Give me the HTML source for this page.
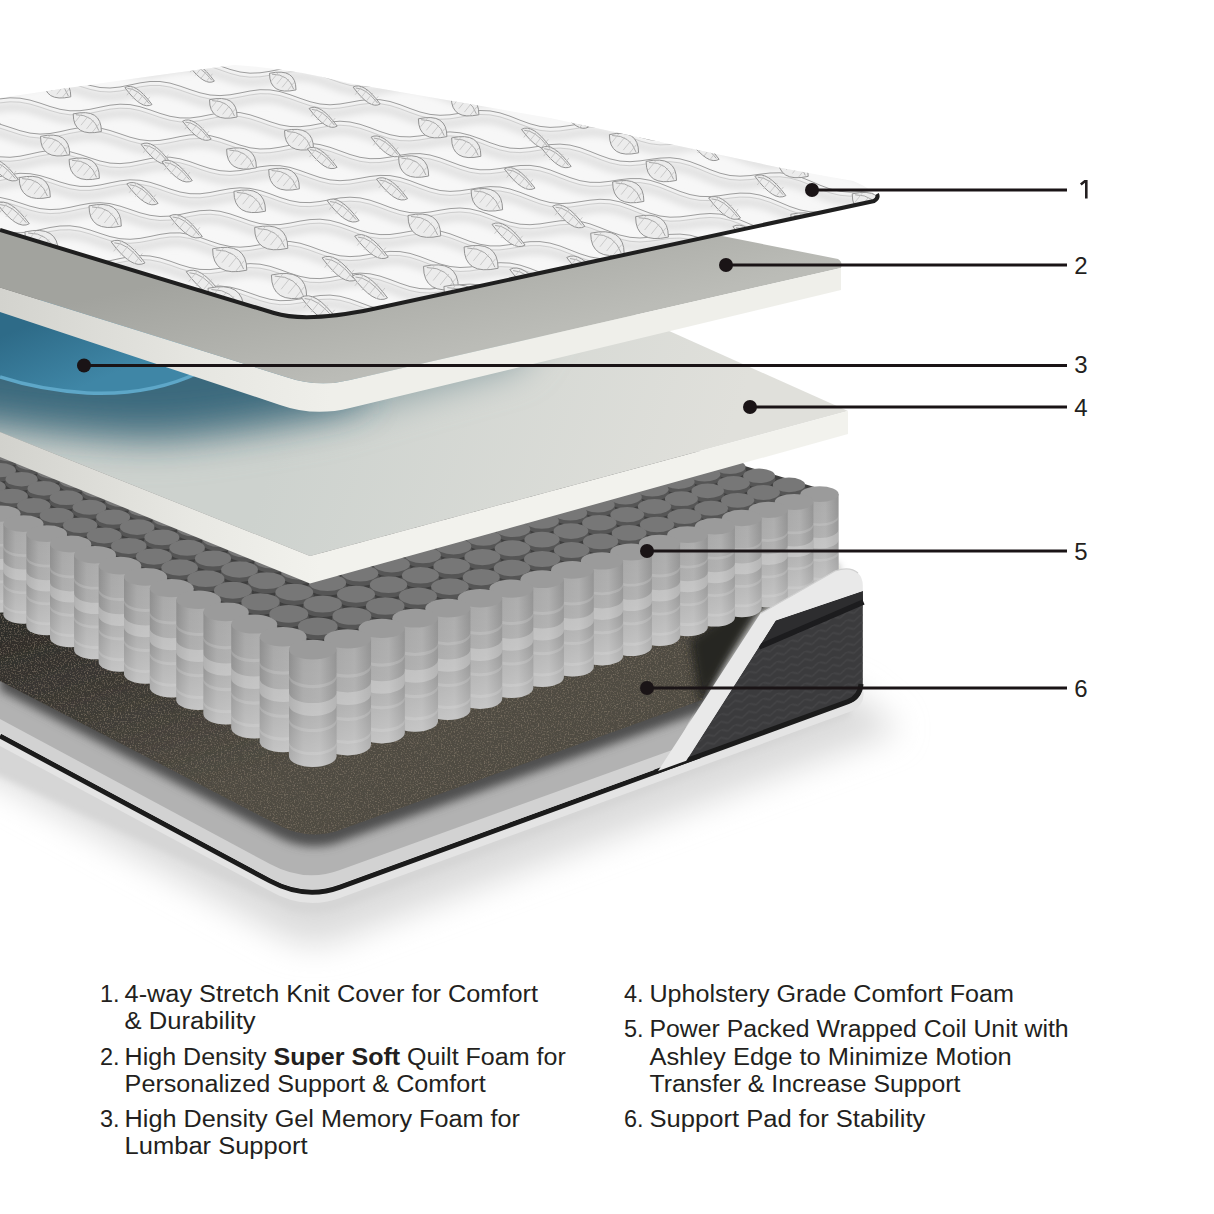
<!DOCTYPE html><html><head><meta charset="utf-8"><style>
html,body{margin:0;padding:0;background:#fff;width:1214px;height:1214px;overflow:hidden}
svg{display:block}
text{font-family:"Liberation Sans",sans-serif;fill:#231f20}
</style></head><body>
<svg width="1214" height="1214" viewBox="0 0 1214 1214">
<defs>
<linearGradient id="l2top" gradientUnits="userSpaceOnUse" x1="300" y1="250" x2="330" y2="380"><stop offset="0" stop-color="#a2a39e"/><stop offset="1" stop-color="#bbbcb7"/></linearGradient>
<radialGradient id="blue4" gradientUnits="userSpaceOnUse" cx="40" cy="360" r="330" gradientTransform="translate(40 360) scale(1.3 0.75) translate(-40 -360)">
 <stop offset="0" stop-color="#2f6178"/><stop offset="0.35" stop-color="#3f6f84"/><stop offset="0.7" stop-color="#a9b6b4"/><stop offset="1" stop-color="#d3d6d1"/></radialGradient>
<linearGradient id="l4top" gradientUnits="userSpaceOnUse" x1="300" y1="380" x2="700" y2="520"><stop offset="0" stop-color="#cdd2ce"/><stop offset="1" stop-color="#e0e0db"/></linearGradient>
<linearGradient id="coilside" x1="0" y1="0" x2="1" y2="0"><stop offset="0" stop-color="#8e8e8e"/><stop offset="0.3" stop-color="#a8a8a8"/><stop offset="0.65" stop-color="#adadad"/><stop offset="1" stop-color="#939393"/></linearGradient>
<linearGradient id="padg" gradientUnits="userSpaceOnUse" x1="0" y1="640" x2="60" y2="840"><stop offset="0" stop-color="#2f2d2a"/><stop offset="1" stop-color="#504c43"/></linearGradient>
<linearGradient id="coilv" x1="0" y1="0" x2="0" y2="1"><stop offset="0" stop-color="#fff" stop-opacity="0"/><stop offset="0.5" stop-color="#fff" stop-opacity="0.08"/><stop offset="1" stop-color="#fff" stop-opacity="0.32"/></linearGradient>
<linearGradient id="l2face" gradientUnits="userSpaceOnUse" x1="0" y1="0" x2="330" y2="0"><stop offset="0" stop-color="#d3d3ce"/><stop offset="0.6" stop-color="#e6e6e1"/><stop offset="1" stop-color="#efefea"/></linearGradient>
<linearGradient id="l4face" gradientUnits="userSpaceOnUse" x1="0" y1="0" x2="320" y2="0"><stop offset="0" stop-color="#d2d2cd"/><stop offset="0.6" stop-color="#e8e8e3"/><stop offset="1" stop-color="#f2f2ed"/></linearGradient>
<linearGradient id="gelg" gradientUnits="userSpaceOnUse" x1="40" y1="320" x2="70" y2="392"><stop offset="0" stop-color="#2e6b88"/><stop offset="1" stop-color="#3f86a6"/></linearGradient>
<pattern id="chev" patternUnits="userSpaceOnUse" width="14" height="16" patternTransform="skewY(-20)"><path d="M 0,4 L 7,0 L 14,4 M 0,12 L 7,8 L 14,12" fill="none" stroke="#4a4a4c" stroke-width="1.6"/></pattern>
<linearGradient id="tray" x1="0" y1="0" x2="0" y2="1"><stop offset="0" stop-color="#555553"/><stop offset="1" stop-color="#b5b5b5"/></linearGradient>
<linearGradient id="shadow" x1="0" y1="0" x2="0" y2="1"><stop offset="0" stop-color="#c8c8c8"/><stop offset="1" stop-color="#ffffff"/></linearGradient>
<filter id="blur8" x="-30%" y="-30%" width="160%" height="160%"><feGaussianBlur stdDeviation="16"/></filter>
<filter id="blur6" x="-20%" y="-20%" width="140%" height="140%"><feGaussianBlur stdDeviation="5"/></filter>
<filter id="blur20" x="-50%" y="-50%" width="200%" height="200%"><feGaussianBlur stdDeviation="18"/></filter>
<filter id="padtex" x="0" y="0" width="100%" height="100%"><feTurbulence type="fractalNoise" baseFrequency="0.7" numOctaves="2" seed="3" result="n"/>
<feColorMatrix in="n" type="matrix" values="0 0 0 0 0.40  0 0 0 0 0.33  0 0 0 0 0.25  1.0 0 0 0 -0.5" result="c"/>
<feComposite in="c" in2="SourceGraphic" operator="in" result="t"/><feMerge><feMergeNode in="SourceGraphic"/><feMergeNode in="t"/></feMerge></filter>
<filter id="blur3" x="-20%" y="-20%" width="140%" height="140%"><feGaussianBlur stdDeviation="3"/></filter>
</defs>
<rect width="1214" height="1214" fill="#fff"/>

<path d="M -60,750 L 290,940 Q 320,950 350,935 L 900,730 L 850,690 L -60,700 Z" fill="#dcdcdc" filter="url(#blur8)"/>
<path d="M -60,748 L 290,910 Q 320,918 350,905 L 850,716 L 850,690 L -60,700 Z" fill="#d6d6d6" filter="url(#blur3)"/>
<path d="M 0,728 L 0,746 L 270,891 Q 305,911 340,898 L 852,711 Q 866,704 863,690 L 700,690 Z" fill="#e4e4e4"/>
<path d="M 0,736 L 270,880.9 Q 305.3,899.8 340,887.1 L 700,755.7" fill="none" stroke="#1b1b1b" stroke-width="5"/>
<path d="M 0,690 L 0,733 L 270,878 Q 305,897 340,884 L 690,757 L 700,690 Z" fill="#d2d2d2"/>
<path d="M 0,660 L 0,719 L 270,864 Q 305,883 340,870 L 675,749 L 720,660 Z" fill="#b2b2b2"/>
<path d="M 0,560 L 0,690 L 280,838 Q 312,854 345,840 L 702,712 L 760,560 Z" fill="#505050" filter="url(#blur6)"/>
<path d="M 775.7,620.4 L 862.8,591 L 862.8,684 Q 862,700 848,703.5 L 686.2,760.7 Z" fill="#3b3b3d"/>
<path d="M 775.7,620.4 L 862.8,591 L 862.8,684 Q 862,700 848,703.5 L 686.2,760.7 Z" fill="url(#chev)" opacity="0.6"/>
<path d="M 775.7,620.4 L 862.8,591 L 863,603 L 759,648 Z" fill="#2d2d2f"/>
<path d="M 759,647 L 863.5,602" stroke="#1c1c1e" stroke-width="5.5" fill="none"/>
<path d="M 655,772 L 848,701.7 Q 860,697 861,684" stroke="#1b1b1b" stroke-width="5" fill="none"/>
<path d="M 0,560 L 0,681 L 280,826 Q 312,842 345,828 L 702,700 L 760,560 Z" fill="url(#padg)" filter="url(#padtex)"/>
<path d="M 700,705 L 760,612 L 840,568 L 800,560 L 690,640 Z" fill="#262524" filter="url(#blur6)"/>
<path d="M 312.7,649.6 L 347.6,638.9 L 381.7,628.4 L 415.2,618.2 L 447.9,608.1 L 480.0,598.3 L 511.4,588.6 L 542.2,579.2 L 572.4,569.9 L 602.0,560.9 L 631.1,552.0 L 659.5,543.2 L 687.5,534.7 L 714.9,526.3 L 741.8,518.0 L 768.2,509.9 L 794.1,502.0 L 819.5,494.2 L 838.6,494.2 L 807.8,484.9 L 777.7,475.8 L 748.1,467.0 L 719.2,458.3 L 690.9,449.8 L 663.2,441.4 L 636.0,433.3 L 609.4,425.2 L 583.3,417.4 L 557.7,409.7 L 532.6,402.2 L 508.0,394.8 L 483.9,387.5 L 460.2,380.4 L 437.0,373.4 L 414.2,366.5 L 391.8,359.8 L 369.8,353.2 L 348.2,346.7 L 327.0,340.3 L 306.1,334.0 L 285.7,327.9 L 265.6,321.8 L 245.8,315.9 L 226.4,310.1 L 207.3,304.3 L 188.5,298.7 L 170.0,293.1 L 151.9,287.7 L 134.0,282.3 L 116.5,277.0 L 99.2,271.8 L 82.2,266.7 L 65.4,261.7 L 48.9,256.7 L 32.7,251.8 L 16.8,247.0 L 1.0,242.3 L -14.5,237.6 L -481.4,309.9 L -468.1,315.7 L -454.6,321.7 L -440.8,327.7 L -426.8,333.9 L -412.6,340.2 L -398.1,346.6 L -383.3,353.1 L -368.2,359.7 L -352.9,366.4 L -337.3,373.3 L -321.4,380.3 L -305.2,387.5 L -288.7,394.7 L -271.9,402.2 L -254.7,409.7 L -237.2,417.4 L -219.4,425.3 L -201.1,433.3 L -182.6,441.5 L -163.6,449.9 L -144.2,458.4 L -124.5,467.1 L -104.3,476.0 L -83.7,485.1 L -62.6,494.4 L -41.1,503.9 L -19.1,513.6 L 3.4,523.6 L 26.4,533.7 L 50.0,544.1 L 74.1,554.7 L 98.7,565.6 L 124.0,576.8 L 149.8,588.2 L 176.3,599.8 L 203.4,611.8 L 231.2,624.1 L 259.7,636.7 L 289.0,649.6 Z" fill="#3e3e3e"/>
<ellipse cx="176.7" cy="340.4" rx="12.9" ry="6.2" fill="#555555"/>
<ellipse cx="176.7" cy="336.9" rx="12.7" ry="5.7" fill="#777777"/>
<ellipse cx="-28.8" cy="341.1" rx="13.0" ry="6.2" fill="#555555"/>
<ellipse cx="-28.8" cy="337.6" rx="12.7" ry="5.7" fill="#777777"/>
<ellipse cx="221.7" cy="341.6" rx="13.0" ry="6.2" fill="#555555"/>
<ellipse cx="221.7" cy="338.1" rx="12.7" ry="5.7" fill="#777777"/>
<ellipse cx="16.0" cy="342.3" rx="13.0" ry="6.3" fill="#555555"/>
<ellipse cx="16.0" cy="338.8" rx="12.7" ry="5.7" fill="#777777"/>
<ellipse cx="266.9" cy="342.7" rx="13.0" ry="6.2" fill="#555555"/>
<ellipse cx="266.9" cy="339.2" rx="12.7" ry="5.7" fill="#777777"/>
<ellipse cx="60.9" cy="343.4" rx="13.0" ry="6.3" fill="#555555"/>
<ellipse cx="60.9" cy="339.9" rx="12.7" ry="5.7" fill="#777777"/>
<ellipse cx="312.2" cy="343.8" rx="13.0" ry="6.3" fill="#555555"/>
<ellipse cx="312.2" cy="340.3" rx="12.7" ry="5.7" fill="#777777"/>
<ellipse cx="105.9" cy="344.5" rx="13.0" ry="6.3" fill="#555555"/>
<ellipse cx="105.9" cy="341.0" rx="12.8" ry="5.7" fill="#777777"/>
<ellipse cx="151.1" cy="345.6" rx="13.1" ry="6.3" fill="#555555"/>
<ellipse cx="151.1" cy="342.1" rx="12.8" ry="5.7" fill="#777777"/>
<ellipse cx="-56.0" cy="346.4" rx="13.1" ry="6.3" fill="#555555"/>
<ellipse cx="-56.0" cy="342.9" rx="12.8" ry="5.8" fill="#777777"/>
<ellipse cx="196.5" cy="346.8" rx="13.1" ry="6.3" fill="#555555"/>
<ellipse cx="196.5" cy="343.3" rx="12.8" ry="5.8" fill="#777777"/>
<ellipse cx="-10.9" cy="347.5" rx="13.1" ry="6.3" fill="#555555"/>
<ellipse cx="-10.9" cy="344.0" rx="12.8" ry="5.8" fill="#777777"/>
<ellipse cx="241.9" cy="347.9" rx="13.1" ry="6.3" fill="#555555"/>
<ellipse cx="241.9" cy="344.4" rx="12.8" ry="5.8" fill="#777777"/>
<ellipse cx="34.3" cy="348.6" rx="13.2" ry="6.3" fill="#555555"/>
<ellipse cx="34.3" cy="345.1" rx="12.9" ry="5.8" fill="#777777"/>
<ellipse cx="287.5" cy="349.0" rx="13.1" ry="6.3" fill="#555555"/>
<ellipse cx="287.5" cy="345.5" rx="12.8" ry="5.8" fill="#777777"/>
<ellipse cx="79.7" cy="349.8" rx="13.2" ry="6.3" fill="#555555"/>
<ellipse cx="79.7" cy="346.3" rx="12.9" ry="5.8" fill="#777777"/>
<ellipse cx="333.2" cy="350.2" rx="13.2" ry="6.3" fill="#555555"/>
<ellipse cx="333.2" cy="346.7" rx="12.9" ry="5.8" fill="#777777"/>
<ellipse cx="125.2" cy="350.9" rx="13.2" ry="6.3" fill="#555555"/>
<ellipse cx="125.2" cy="347.4" rx="12.9" ry="5.8" fill="#777777"/>
<ellipse cx="170.8" cy="352.1" rx="13.2" ry="6.4" fill="#555555"/>
<ellipse cx="170.8" cy="348.6" rx="12.9" ry="5.8" fill="#777777"/>
<ellipse cx="-38.2" cy="352.8" rx="13.3" ry="6.4" fill="#555555"/>
<ellipse cx="-38.2" cy="349.3" rx="13.0" ry="5.8" fill="#777777"/>
<ellipse cx="216.5" cy="353.2" rx="13.3" ry="6.4" fill="#555555"/>
<ellipse cx="216.5" cy="349.7" rx="13.0" ry="5.8" fill="#777777"/>
<ellipse cx="7.3" cy="353.9" rx="13.3" ry="6.4" fill="#555555"/>
<ellipse cx="7.3" cy="350.4" rx="13.0" ry="5.8" fill="#777777"/>
<ellipse cx="262.4" cy="354.4" rx="13.3" ry="6.4" fill="#555555"/>
<ellipse cx="262.4" cy="350.9" rx="13.0" ry="5.8" fill="#777777"/>
<ellipse cx="53.0" cy="355.1" rx="13.3" ry="6.4" fill="#555555"/>
<ellipse cx="53.0" cy="351.6" rx="13.0" ry="5.8" fill="#777777"/>
<ellipse cx="308.5" cy="355.5" rx="13.3" ry="6.4" fill="#555555"/>
<ellipse cx="308.5" cy="352.0" rx="13.0" ry="5.8" fill="#777777"/>
<ellipse cx="98.8" cy="356.3" rx="13.3" ry="6.4" fill="#555555"/>
<ellipse cx="98.8" cy="352.8" rx="13.0" ry="5.9" fill="#777777"/>
<ellipse cx="354.6" cy="356.7" rx="13.3" ry="6.4" fill="#555555"/>
<ellipse cx="354.6" cy="353.2" rx="13.0" ry="5.9" fill="#777777"/>
<ellipse cx="144.7" cy="357.4" rx="13.4" ry="6.4" fill="#555555"/>
<ellipse cx="144.7" cy="353.9" rx="13.1" ry="5.9" fill="#777777"/>
<ellipse cx="190.8" cy="358.6" rx="13.4" ry="6.4" fill="#555555"/>
<ellipse cx="190.8" cy="355.1" rx="13.1" ry="5.9" fill="#777777"/>
<ellipse cx="-20.1" cy="359.3" rx="13.4" ry="6.5" fill="#555555"/>
<ellipse cx="-20.1" cy="355.8" rx="13.1" ry="5.9" fill="#777777"/>
<ellipse cx="237.0" cy="359.8" rx="13.4" ry="6.4" fill="#555555"/>
<ellipse cx="237.0" cy="356.3" rx="13.1" ry="5.9" fill="#777777"/>
<ellipse cx="25.9" cy="360.5" rx="13.4" ry="6.5" fill="#555555"/>
<ellipse cx="25.9" cy="357.0" rx="13.1" ry="5.9" fill="#777777"/>
<ellipse cx="283.3" cy="360.9" rx="13.4" ry="6.5" fill="#555555"/>
<ellipse cx="283.3" cy="357.4" rx="13.1" ry="5.9" fill="#777777"/>
<ellipse cx="72.0" cy="361.7" rx="13.5" ry="6.5" fill="#555555"/>
<ellipse cx="72.0" cy="358.2" rx="13.2" ry="5.9" fill="#777777"/>
<ellipse cx="329.8" cy="362.1" rx="13.5" ry="6.5" fill="#555555"/>
<ellipse cx="329.8" cy="358.6" rx="13.2" ry="5.9" fill="#777777"/>
<ellipse cx="118.2" cy="362.9" rx="13.5" ry="6.5" fill="#555555"/>
<ellipse cx="118.2" cy="359.4" rx="13.2" ry="5.9" fill="#777777"/>
<ellipse cx="376.4" cy="363.3" rx="13.5" ry="6.5" fill="#555555"/>
<ellipse cx="376.4" cy="359.8" rx="13.2" ry="5.9" fill="#777777"/>
<ellipse cx="164.6" cy="364.0" rx="13.5" ry="6.5" fill="#555555"/>
<ellipse cx="164.6" cy="360.5" rx="13.2" ry="5.9" fill="#777777"/>
<ellipse cx="-47.9" cy="364.8" rx="13.5" ry="6.5" fill="#555555"/>
<ellipse cx="-47.9" cy="361.3" rx="13.2" ry="5.9" fill="#777777"/>
<ellipse cx="211.2" cy="365.2" rx="13.5" ry="6.5" fill="#555555"/>
<ellipse cx="211.2" cy="361.7" rx="13.2" ry="5.9" fill="#777777"/>
<ellipse cx="-1.6" cy="366.0" rx="13.6" ry="6.5" fill="#555555"/>
<ellipse cx="-1.6" cy="362.5" rx="13.3" ry="6.0" fill="#777777"/>
<ellipse cx="257.8" cy="366.4" rx="13.6" ry="6.5" fill="#555555"/>
<ellipse cx="257.8" cy="362.9" rx="13.3" ry="6.0" fill="#777777"/>
<ellipse cx="44.8" cy="367.2" rx="13.6" ry="6.5" fill="#555555"/>
<ellipse cx="44.8" cy="363.7" rx="13.3" ry="6.0" fill="#777777"/>
<ellipse cx="304.6" cy="367.6" rx="13.6" ry="6.5" fill="#555555"/>
<ellipse cx="304.6" cy="364.1" rx="13.3" ry="6.0" fill="#777777"/>
<ellipse cx="91.4" cy="368.4" rx="13.6" ry="6.6" fill="#555555"/>
<ellipse cx="91.4" cy="364.9" rx="13.3" ry="6.0" fill="#777777"/>
<ellipse cx="351.6" cy="368.8" rx="13.6" ry="6.6" fill="#555555"/>
<ellipse cx="351.6" cy="365.3" rx="13.3" ry="6.0" fill="#777777"/>
<ellipse cx="138.1" cy="369.6" rx="13.7" ry="6.6" fill="#555555"/>
<ellipse cx="138.1" cy="366.1" rx="13.3" ry="6.0" fill="#777777"/>
<ellipse cx="398.6" cy="370.0" rx="13.6" ry="6.6" fill="#555555"/>
<ellipse cx="398.6" cy="366.5" rx="13.3" ry="6.0" fill="#777777"/>
<ellipse cx="184.9" cy="370.8" rx="13.7" ry="6.6" fill="#555555"/>
<ellipse cx="184.9" cy="367.3" rx="13.4" ry="6.0" fill="#777777"/>
<ellipse cx="-29.6" cy="371.6" rx="13.7" ry="6.6" fill="#555555"/>
<ellipse cx="-29.6" cy="368.1" rx="13.4" ry="6.0" fill="#777777"/>
<ellipse cx="231.9" cy="372.0" rx="13.7" ry="6.6" fill="#555555"/>
<ellipse cx="231.9" cy="368.5" rx="13.4" ry="6.0" fill="#777777"/>
<ellipse cx="17.2" cy="372.8" rx="13.7" ry="6.6" fill="#555555"/>
<ellipse cx="17.2" cy="369.3" rx="13.4" ry="6.0" fill="#777777"/>
<ellipse cx="279.0" cy="373.2" rx="13.7" ry="6.6" fill="#555555"/>
<ellipse cx="279.0" cy="369.7" rx="13.4" ry="6.0" fill="#777777"/>
<ellipse cx="64.1" cy="374.0" rx="13.8" ry="6.6" fill="#555555"/>
<ellipse cx="64.1" cy="370.5" rx="13.5" ry="6.0" fill="#777777"/>
<ellipse cx="326.3" cy="374.4" rx="13.8" ry="6.6" fill="#555555"/>
<ellipse cx="326.3" cy="370.9" rx="13.4" ry="6.0" fill="#777777"/>
<ellipse cx="111.1" cy="375.2" rx="13.8" ry="6.6" fill="#555555"/>
<ellipse cx="111.1" cy="371.7" rx="13.5" ry="6.1" fill="#777777"/>
<ellipse cx="373.7" cy="375.7" rx="13.8" ry="6.6" fill="#555555"/>
<ellipse cx="373.7" cy="372.2" rx="13.5" ry="6.1" fill="#777777"/>
<ellipse cx="158.3" cy="376.5" rx="13.8" ry="6.6" fill="#555555"/>
<ellipse cx="158.3" cy="373.0" rx="13.5" ry="6.1" fill="#777777"/>
<ellipse cx="421.3" cy="376.9" rx="13.8" ry="6.6" fill="#555555"/>
<ellipse cx="421.3" cy="373.4" rx="13.5" ry="6.1" fill="#777777"/>
<ellipse cx="-57.9" cy="377.3" rx="13.9" ry="6.7" fill="#555555"/>
<ellipse cx="-57.9" cy="373.8" rx="13.5" ry="6.1" fill="#777777"/>
<ellipse cx="205.6" cy="377.7" rx="13.8" ry="6.7" fill="#555555"/>
<ellipse cx="205.6" cy="374.2" rx="13.5" ry="6.1" fill="#777777"/>
<ellipse cx="-10.9" cy="378.5" rx="13.9" ry="6.7" fill="#555555"/>
<ellipse cx="-10.9" cy="375.0" rx="13.6" ry="6.1" fill="#777777"/>
<ellipse cx="253.0" cy="378.9" rx="13.9" ry="6.7" fill="#555555"/>
<ellipse cx="253.0" cy="375.4" rx="13.6" ry="6.1" fill="#777777"/>
<ellipse cx="36.4" cy="379.7" rx="13.9" ry="6.7" fill="#555555"/>
<ellipse cx="36.4" cy="376.2" rx="13.6" ry="6.1" fill="#777777"/>
<ellipse cx="300.6" cy="380.1" rx="13.9" ry="6.7" fill="#555555"/>
<ellipse cx="300.6" cy="376.6" rx="13.6" ry="6.1" fill="#777777"/>
<ellipse cx="83.7" cy="381.0" rx="13.9" ry="6.7" fill="#555555"/>
<ellipse cx="83.7" cy="377.5" rx="13.6" ry="6.1" fill="#777777"/>
<ellipse cx="348.4" cy="381.4" rx="13.9" ry="6.7" fill="#555555"/>
<ellipse cx="348.4" cy="377.9" rx="13.6" ry="6.1" fill="#777777"/>
<ellipse cx="131.2" cy="382.2" rx="14.0" ry="6.7" fill="#555555"/>
<ellipse cx="131.2" cy="378.7" rx="13.6" ry="6.1" fill="#777777"/>
<ellipse cx="396.3" cy="382.6" rx="14.0" ry="6.7" fill="#555555"/>
<ellipse cx="396.3" cy="379.1" rx="13.6" ry="6.1" fill="#777777"/>
<ellipse cx="178.9" cy="383.4" rx="14.0" ry="6.7" fill="#555555"/>
<ellipse cx="178.9" cy="379.9" rx="13.7" ry="6.1" fill="#777777"/>
<ellipse cx="444.3" cy="383.9" rx="14.0" ry="6.7" fill="#555555"/>
<ellipse cx="444.3" cy="380.4" rx="13.7" ry="6.1" fill="#777777"/>
<ellipse cx="-39.4" cy="384.3" rx="14.0" ry="6.7" fill="#555555"/>
<ellipse cx="-39.4" cy="380.8" rx="13.7" ry="6.2" fill="#777777"/>
<ellipse cx="226.6" cy="384.7" rx="14.0" ry="6.7" fill="#555555"/>
<ellipse cx="226.6" cy="381.2" rx="13.7" ry="6.2" fill="#777777"/>
<ellipse cx="8.2" cy="385.5" rx="14.0" ry="6.8" fill="#555555"/>
<ellipse cx="8.2" cy="382.0" rx="13.7" ry="6.2" fill="#777777"/>
<ellipse cx="274.6" cy="385.9" rx="14.0" ry="6.8" fill="#555555"/>
<ellipse cx="274.6" cy="382.4" rx="13.7" ry="6.2" fill="#777777"/>
<ellipse cx="55.9" cy="386.8" rx="14.1" ry="6.8" fill="#555555"/>
<ellipse cx="55.9" cy="383.3" rx="13.8" ry="6.2" fill="#777777"/>
<ellipse cx="322.7" cy="387.2" rx="14.1" ry="6.8" fill="#555555"/>
<ellipse cx="322.7" cy="383.7" rx="13.8" ry="6.2" fill="#777777"/>
<ellipse cx="103.7" cy="388.0" rx="14.1" ry="6.8" fill="#555555"/>
<ellipse cx="103.7" cy="384.5" rx="13.8" ry="6.2" fill="#777777"/>
<ellipse cx="370.9" cy="388.5" rx="14.1" ry="6.8" fill="#555555"/>
<ellipse cx="370.9" cy="385.0" rx="13.8" ry="6.2" fill="#777777"/>
<ellipse cx="151.7" cy="389.3" rx="14.1" ry="6.8" fill="#555555"/>
<ellipse cx="151.7" cy="385.8" rx="13.8" ry="6.2" fill="#777777"/>
<ellipse cx="419.3" cy="389.7" rx="14.1" ry="6.8" fill="#555555"/>
<ellipse cx="419.3" cy="386.2" rx="13.8" ry="6.2" fill="#777777"/>
<ellipse cx="199.8" cy="390.6" rx="14.2" ry="6.8" fill="#555555"/>
<ellipse cx="199.8" cy="387.1" rx="13.8" ry="6.2" fill="#777777"/>
<ellipse cx="467.8" cy="391.0" rx="14.2" ry="6.8" fill="#555555"/>
<ellipse cx="467.8" cy="387.5" rx="13.8" ry="6.2" fill="#777777"/>
<ellipse cx="-20.4" cy="391.4" rx="14.2" ry="6.8" fill="#555555"/>
<ellipse cx="-20.4" cy="387.9" rx="13.9" ry="6.2" fill="#777777"/>
<ellipse cx="248.1" cy="391.8" rx="14.2" ry="6.8" fill="#555555"/>
<ellipse cx="248.1" cy="388.3" rx="13.9" ry="6.2" fill="#777777"/>
<ellipse cx="27.6" cy="392.7" rx="14.2" ry="6.8" fill="#555555"/>
<ellipse cx="27.6" cy="389.2" rx="13.9" ry="6.2" fill="#777777"/>
<ellipse cx="296.5" cy="393.1" rx="14.2" ry="6.8" fill="#555555"/>
<ellipse cx="296.5" cy="389.6" rx="13.9" ry="6.2" fill="#777777"/>
<ellipse cx="75.8" cy="394.0" rx="14.3" ry="6.9" fill="#555555"/>
<ellipse cx="75.8" cy="390.5" rx="13.9" ry="6.3" fill="#777777"/>
<ellipse cx="345.1" cy="394.4" rx="14.2" ry="6.9" fill="#555555"/>
<ellipse cx="345.1" cy="390.9" rx="13.9" ry="6.3" fill="#777777"/>
<ellipse cx="124.1" cy="395.2" rx="14.3" ry="6.9" fill="#555555"/>
<ellipse cx="124.1" cy="391.7" rx="14.0" ry="6.3" fill="#777777"/>
<ellipse cx="393.8" cy="395.7" rx="14.3" ry="6.9" fill="#555555"/>
<ellipse cx="393.8" cy="392.2" rx="14.0" ry="6.3" fill="#777777"/>
<ellipse cx="172.6" cy="396.5" rx="14.3" ry="6.9" fill="#555555"/>
<ellipse cx="172.6" cy="393.0" rx="14.0" ry="6.3" fill="#777777"/>
<ellipse cx="442.7" cy="397.0" rx="14.3" ry="6.9" fill="#555555"/>
<ellipse cx="442.7" cy="393.5" rx="14.0" ry="6.3" fill="#777777"/>
<ellipse cx="-49.5" cy="397.4" rx="14.3" ry="6.9" fill="#555555"/>
<ellipse cx="-49.5" cy="393.9" rx="14.0" ry="6.3" fill="#777777"/>
<ellipse cx="221.2" cy="397.8" rx="14.3" ry="6.9" fill="#555555"/>
<ellipse cx="221.2" cy="394.3" rx="14.0" ry="6.3" fill="#777777"/>
<ellipse cx="491.7" cy="398.3" rx="14.3" ry="6.9" fill="#555555"/>
<ellipse cx="491.7" cy="394.8" rx="14.0" ry="6.3" fill="#777777"/>
<ellipse cx="-1.1" cy="398.7" rx="14.4" ry="6.9" fill="#555555"/>
<ellipse cx="-1.1" cy="395.2" rx="14.0" ry="6.3" fill="#777777"/>
<ellipse cx="270.0" cy="399.1" rx="14.4" ry="6.9" fill="#555555"/>
<ellipse cx="270.0" cy="395.6" rx="14.0" ry="6.3" fill="#777777"/>
<ellipse cx="47.4" cy="400.0" rx="14.4" ry="6.9" fill="#555555"/>
<ellipse cx="47.4" cy="396.5" rx="14.1" ry="6.3" fill="#777777"/>
<ellipse cx="318.9" cy="400.4" rx="14.4" ry="6.9" fill="#555555"/>
<ellipse cx="318.9" cy="396.9" rx="14.1" ry="6.3" fill="#777777"/>
<ellipse cx="96.1" cy="401.3" rx="14.4" ry="6.9" fill="#555555"/>
<ellipse cx="96.1" cy="397.8" rx="14.1" ry="6.3" fill="#777777"/>
<ellipse cx="368.0" cy="401.7" rx="14.4" ry="6.9" fill="#555555"/>
<ellipse cx="368.0" cy="398.2" rx="14.1" ry="6.3" fill="#777777"/>
<ellipse cx="144.9" cy="402.6" rx="14.5" ry="7.0" fill="#555555"/>
<ellipse cx="144.9" cy="399.1" rx="14.1" ry="6.3" fill="#777777"/>
<ellipse cx="417.2" cy="403.0" rx="14.5" ry="7.0" fill="#555555"/>
<ellipse cx="417.2" cy="399.5" rx="14.1" ry="6.3" fill="#777777"/>
<ellipse cx="193.9" cy="403.9" rx="14.5" ry="7.0" fill="#555555"/>
<ellipse cx="193.9" cy="400.4" rx="14.2" ry="6.4" fill="#777777"/>
<ellipse cx="466.6" cy="404.3" rx="14.5" ry="7.0" fill="#555555"/>
<ellipse cx="466.6" cy="400.8" rx="14.2" ry="6.4" fill="#777777"/>
<ellipse cx="-30.3" cy="404.8" rx="14.5" ry="7.0" fill="#555555"/>
<ellipse cx="-30.3" cy="401.3" rx="14.2" ry="6.4" fill="#777777"/>
<ellipse cx="243.0" cy="405.2" rx="14.5" ry="7.0" fill="#555555"/>
<ellipse cx="243.0" cy="401.7" rx="14.2" ry="6.4" fill="#777777"/>
<ellipse cx="516.1" cy="405.7" rx="14.5" ry="7.0" fill="#555555"/>
<ellipse cx="516.1" cy="402.2" rx="14.2" ry="6.4" fill="#777777"/>
<ellipse cx="18.5" cy="406.1" rx="14.6" ry="7.0" fill="#555555"/>
<ellipse cx="18.5" cy="402.6" rx="14.2" ry="6.4" fill="#777777"/>
<ellipse cx="292.3" cy="406.5" rx="14.5" ry="7.0" fill="#555555"/>
<ellipse cx="292.3" cy="403.0" rx="14.2" ry="6.4" fill="#777777"/>
<ellipse cx="67.6" cy="407.4" rx="14.6" ry="7.0" fill="#555555"/>
<ellipse cx="67.6" cy="403.9" rx="14.3" ry="6.4" fill="#777777"/>
<ellipse cx="341.7" cy="407.9" rx="14.6" ry="7.0" fill="#555555"/>
<ellipse cx="341.7" cy="404.4" rx="14.2" ry="6.4" fill="#777777"/>
<ellipse cx="116.7" cy="408.8" rx="14.6" ry="7.0" fill="#555555"/>
<ellipse cx="116.7" cy="405.3" rx="14.3" ry="6.4" fill="#777777"/>
<ellipse cx="391.3" cy="409.2" rx="14.6" ry="7.0" fill="#555555"/>
<ellipse cx="391.3" cy="405.7" rx="14.3" ry="6.4" fill="#777777"/>
<ellipse cx="166.1" cy="410.1" rx="14.6" ry="7.0" fill="#555555"/>
<ellipse cx="166.1" cy="406.6" rx="14.3" ry="6.4" fill="#777777"/>
<ellipse cx="441.1" cy="410.5" rx="14.6" ry="7.0" fill="#555555"/>
<ellipse cx="441.1" cy="407.0" rx="14.3" ry="6.4" fill="#777777"/>
<ellipse cx="215.6" cy="411.4" rx="14.7" ry="7.1" fill="#555555"/>
<ellipse cx="215.6" cy="407.9" rx="14.3" ry="6.4" fill="#777777"/>
<ellipse cx="491.0" cy="411.9" rx="14.7" ry="7.1" fill="#555555"/>
<ellipse cx="491.0" cy="408.4" rx="14.3" ry="6.4" fill="#777777"/>
<ellipse cx="-10.8" cy="412.3" rx="14.7" ry="7.1" fill="#555555"/>
<ellipse cx="-10.8" cy="408.8" rx="14.4" ry="6.5" fill="#777777"/>
<ellipse cx="265.2" cy="412.8" rx="14.7" ry="7.1" fill="#555555"/>
<ellipse cx="265.2" cy="409.3" rx="14.4" ry="6.5" fill="#777777"/>
<ellipse cx="541.0" cy="413.2" rx="14.7" ry="7.1" fill="#555555"/>
<ellipse cx="541.0" cy="409.7" rx="14.4" ry="6.5" fill="#777777"/>
<ellipse cx="38.6" cy="413.7" rx="14.7" ry="7.1" fill="#555555"/>
<ellipse cx="38.6" cy="410.2" rx="14.4" ry="6.5" fill="#777777"/>
<ellipse cx="315.0" cy="414.1" rx="14.7" ry="7.1" fill="#555555"/>
<ellipse cx="315.0" cy="410.6" rx="14.4" ry="6.5" fill="#777777"/>
<ellipse cx="88.1" cy="415.0" rx="14.8" ry="7.1" fill="#555555"/>
<ellipse cx="88.1" cy="411.5" rx="14.4" ry="6.5" fill="#777777"/>
<ellipse cx="365.0" cy="415.5" rx="14.8" ry="7.1" fill="#555555"/>
<ellipse cx="365.0" cy="412.0" rx="14.4" ry="6.5" fill="#777777"/>
<ellipse cx="137.8" cy="416.4" rx="14.8" ry="7.1" fill="#555555"/>
<ellipse cx="137.8" cy="412.9" rx="14.5" ry="6.5" fill="#777777"/>
<ellipse cx="415.1" cy="416.8" rx="14.8" ry="7.1" fill="#555555"/>
<ellipse cx="415.1" cy="413.3" rx="14.5" ry="6.5" fill="#777777"/>
<ellipse cx="187.7" cy="417.7" rx="14.8" ry="7.1" fill="#555555"/>
<ellipse cx="187.7" cy="414.2" rx="14.5" ry="6.5" fill="#777777"/>
<ellipse cx="465.4" cy="418.2" rx="14.8" ry="7.1" fill="#555555"/>
<ellipse cx="465.4" cy="414.7" rx="14.5" ry="6.5" fill="#777777"/>
<ellipse cx="-40.6" cy="418.6" rx="14.9" ry="7.2" fill="#555555"/>
<ellipse cx="-40.6" cy="415.1" rx="14.5" ry="6.5" fill="#777777"/>
<ellipse cx="237.7" cy="419.1" rx="14.9" ry="7.1" fill="#555555"/>
<ellipse cx="237.7" cy="415.6" rx="14.5" ry="6.5" fill="#777777"/>
<ellipse cx="515.8" cy="419.5" rx="14.9" ry="7.1" fill="#555555"/>
<ellipse cx="515.8" cy="416.0" rx="14.5" ry="6.5" fill="#777777"/>
<ellipse cx="9.1" cy="420.0" rx="14.9" ry="7.2" fill="#555555"/>
<ellipse cx="9.1" cy="416.5" rx="14.6" ry="6.5" fill="#777777"/>
<ellipse cx="287.8" cy="420.5" rx="14.9" ry="7.2" fill="#555555"/>
<ellipse cx="287.8" cy="417.0" rx="14.6" ry="6.5" fill="#777777"/>
<ellipse cx="566.4" cy="420.9" rx="14.9" ry="7.2" fill="#555555"/>
<ellipse cx="566.4" cy="417.4" rx="14.6" ry="6.5" fill="#777777"/>
<ellipse cx="59.0" cy="421.4" rx="14.9" ry="7.2" fill="#555555"/>
<ellipse cx="59.0" cy="417.9" rx="14.6" ry="6.6" fill="#777777"/>
<ellipse cx="338.2" cy="421.8" rx="14.9" ry="7.2" fill="#555555"/>
<ellipse cx="338.2" cy="418.3" rx="14.6" ry="6.6" fill="#777777"/>
<ellipse cx="109.1" cy="422.8" rx="15.0" ry="7.2" fill="#555555"/>
<ellipse cx="109.1" cy="419.3" rx="14.6" ry="6.6" fill="#777777"/>
<ellipse cx="388.7" cy="423.2" rx="15.0" ry="7.2" fill="#555555"/>
<ellipse cx="388.7" cy="419.7" rx="14.6" ry="6.6" fill="#777777"/>
<ellipse cx="159.3" cy="424.1" rx="15.0" ry="7.2" fill="#555555"/>
<ellipse cx="159.3" cy="420.6" rx="14.7" ry="6.6" fill="#777777"/>
<ellipse cx="439.3" cy="424.6" rx="15.0" ry="7.2" fill="#555555"/>
<ellipse cx="439.3" cy="421.1" rx="14.6" ry="6.6" fill="#777777"/>
<ellipse cx="209.7" cy="425.5" rx="15.0" ry="7.2" fill="#555555"/>
<ellipse cx="209.7" cy="422.0" rx="14.7" ry="6.6" fill="#777777"/>
<ellipse cx="490.1" cy="426.0" rx="15.0" ry="7.2" fill="#555555"/>
<ellipse cx="490.1" cy="422.5" rx="14.7" ry="6.6" fill="#777777"/>
<ellipse cx="-20.8" cy="426.5" rx="15.1" ry="7.2" fill="#555555"/>
<ellipse cx="-20.8" cy="423.0" rx="14.7" ry="6.6" fill="#777777"/>
<ellipse cx="260.2" cy="426.9" rx="15.1" ry="7.2" fill="#555555"/>
<ellipse cx="260.2" cy="423.4" rx="14.7" ry="6.6" fill="#777777"/>
<ellipse cx="541.1" cy="427.4" rx="15.1" ry="7.2" fill="#555555"/>
<ellipse cx="541.1" cy="423.9" rx="14.7" ry="6.6" fill="#777777"/>
<ellipse cx="29.5" cy="427.9" rx="15.1" ry="7.3" fill="#555555"/>
<ellipse cx="29.5" cy="424.4" rx="14.7" ry="6.6" fill="#777777"/>
<ellipse cx="311.0" cy="428.3" rx="15.1" ry="7.3" fill="#555555"/>
<ellipse cx="311.0" cy="424.8" rx="14.7" ry="6.6" fill="#777777"/>
<ellipse cx="592.3" cy="428.7" rx="15.1" ry="7.3" fill="#555555"/>
<ellipse cx="592.3" cy="425.2" rx="14.7" ry="6.6" fill="#777777"/>
<ellipse cx="79.9" cy="429.3" rx="15.1" ry="7.3" fill="#555555"/>
<ellipse cx="79.9" cy="425.8" rx="14.8" ry="6.6" fill="#777777"/>
<ellipse cx="361.8" cy="429.7" rx="15.1" ry="7.3" fill="#555555"/>
<ellipse cx="361.8" cy="426.2" rx="14.8" ry="6.6" fill="#777777"/>
<ellipse cx="130.5" cy="430.7" rx="15.2" ry="7.3" fill="#555555"/>
<ellipse cx="130.5" cy="427.2" rx="14.8" ry="6.7" fill="#777777"/>
<ellipse cx="412.9" cy="431.1" rx="15.2" ry="7.3" fill="#555555"/>
<ellipse cx="412.9" cy="427.6" rx="14.8" ry="6.7" fill="#777777"/>
<ellipse cx="181.3" cy="432.1" rx="15.2" ry="7.3" fill="#555555"/>
<ellipse cx="181.3" cy="428.6" rx="14.8" ry="6.7" fill="#777777"/>
<ellipse cx="464.1" cy="432.5" rx="15.2" ry="7.3" fill="#555555"/>
<ellipse cx="464.1" cy="429.0" rx="14.8" ry="6.7" fill="#777777"/>
<ellipse cx="-51.2" cy="433.0" rx="15.2" ry="7.3" fill="#555555"/>
<ellipse cx="-51.2" cy="429.5" rx="14.9" ry="6.7" fill="#777777"/>
<ellipse cx="232.2" cy="433.5" rx="15.2" ry="7.3" fill="#555555"/>
<ellipse cx="232.2" cy="430.0" rx="14.9" ry="6.7" fill="#777777"/>
<ellipse cx="515.4" cy="433.9" rx="15.2" ry="7.3" fill="#555555"/>
<ellipse cx="515.4" cy="430.4" rx="14.9" ry="6.7" fill="#777777"/>
<ellipse cx="-0.6" cy="434.4" rx="15.3" ry="7.3" fill="#555555"/>
<ellipse cx="-0.6" cy="430.9" rx="14.9" ry="6.7" fill="#777777"/>
<ellipse cx="283.3" cy="434.9" rx="15.3" ry="7.3" fill="#555555"/>
<ellipse cx="283.3" cy="431.4" rx="14.9" ry="6.7" fill="#777777"/>
<ellipse cx="567.0" cy="435.3" rx="15.2" ry="7.3" fill="#555555"/>
<ellipse cx="567.0" cy="431.8" rx="14.9" ry="6.7" fill="#777777"/>
<ellipse cx="50.2" cy="435.9" rx="15.3" ry="7.4" fill="#555555"/>
<ellipse cx="50.2" cy="432.4" rx="14.9" ry="6.7" fill="#777777"/>
<ellipse cx="334.5" cy="436.3" rx="15.3" ry="7.4" fill="#555555"/>
<ellipse cx="334.5" cy="432.8" rx="14.9" ry="6.7" fill="#777777"/>
<ellipse cx="618.7" cy="436.8" rx="15.3" ry="7.3" fill="#555555"/>
<ellipse cx="618.7" cy="433.3" rx="14.9" ry="6.7" fill="#777777"/>
<ellipse cx="101.2" cy="437.3" rx="15.3" ry="7.4" fill="#555555"/>
<ellipse cx="101.2" cy="433.8" rx="15.0" ry="6.7" fill="#777777"/>
<ellipse cx="385.9" cy="437.7" rx="15.3" ry="7.4" fill="#555555"/>
<ellipse cx="385.9" cy="434.2" rx="15.0" ry="6.7" fill="#777777"/>
<ellipse cx="152.3" cy="438.7" rx="15.4" ry="7.4" fill="#555555"/>
<ellipse cx="152.3" cy="435.2" rx="15.0" ry="6.7" fill="#777777"/>
<ellipse cx="437.5" cy="439.2" rx="15.4" ry="7.4" fill="#555555"/>
<ellipse cx="437.5" cy="435.7" rx="15.0" ry="6.7" fill="#777777"/>
<ellipse cx="203.6" cy="440.1" rx="15.4" ry="7.4" fill="#555555"/>
<ellipse cx="203.6" cy="436.6" rx="15.0" ry="6.8" fill="#777777"/>
<ellipse cx="489.3" cy="440.6" rx="15.4" ry="7.4" fill="#555555"/>
<ellipse cx="489.3" cy="437.1" rx="15.0" ry="6.8" fill="#777777"/>
<ellipse cx="-31.2" cy="441.1" rx="15.4" ry="7.4" fill="#555555"/>
<ellipse cx="-31.2" cy="437.6" rx="15.1" ry="6.8" fill="#777777"/>
<ellipse cx="255.1" cy="441.6" rx="15.4" ry="7.4" fill="#555555"/>
<ellipse cx="255.1" cy="438.1" rx="15.1" ry="6.8" fill="#777777"/>
<ellipse cx="541.2" cy="442.0" rx="15.4" ry="7.4" fill="#555555"/>
<ellipse cx="541.2" cy="438.5" rx="15.1" ry="6.8" fill="#777777"/>
<ellipse cx="20.0" cy="442.6" rx="15.5" ry="7.4" fill="#555555"/>
<ellipse cx="20.0" cy="439.1" rx="15.1" ry="6.8" fill="#777777"/>
<ellipse cx="306.8" cy="443.0" rx="15.5" ry="7.4" fill="#555555"/>
<ellipse cx="306.8" cy="439.5" rx="15.1" ry="6.8" fill="#777777"/>
<ellipse cx="593.3" cy="443.5" rx="15.4" ry="7.4" fill="#555555"/>
<ellipse cx="593.3" cy="440.0" rx="15.1" ry="6.8" fill="#777777"/>
<ellipse cx="71.4" cy="444.0" rx="15.5" ry="7.5" fill="#555555"/>
<ellipse cx="71.4" cy="440.5" rx="15.1" ry="6.8" fill="#777777"/>
<ellipse cx="358.6" cy="444.5" rx="15.5" ry="7.4" fill="#555555"/>
<ellipse cx="358.6" cy="441.0" rx="15.1" ry="6.8" fill="#777777"/>
<ellipse cx="645.6" cy="444.9" rx="15.5" ry="7.4" fill="#555555"/>
<ellipse cx="645.6" cy="441.4" rx="15.1" ry="6.8" fill="#777777"/>
<ellipse cx="122.9" cy="445.5" rx="15.5" ry="7.5" fill="#555555"/>
<ellipse cx="122.9" cy="442.0" rx="15.2" ry="6.8" fill="#777777"/>
<ellipse cx="410.6" cy="445.9" rx="15.5" ry="7.5" fill="#555555"/>
<ellipse cx="410.6" cy="442.4" rx="15.2" ry="6.8" fill="#777777"/>
<ellipse cx="174.6" cy="446.9" rx="15.6" ry="7.5" fill="#555555"/>
<ellipse cx="174.6" cy="443.4" rx="15.2" ry="6.8" fill="#777777"/>
<ellipse cx="462.7" cy="447.4" rx="15.6" ry="7.5" fill="#555555"/>
<ellipse cx="462.7" cy="443.9" rx="15.2" ry="6.8" fill="#777777"/>
<ellipse cx="226.5" cy="448.4" rx="15.6" ry="7.5" fill="#555555"/>
<ellipse cx="226.5" cy="444.9" rx="15.2" ry="6.8" fill="#777777"/>
<ellipse cx="515.1" cy="448.8" rx="15.6" ry="7.5" fill="#555555"/>
<ellipse cx="515.1" cy="445.3" rx="15.2" ry="6.8" fill="#777777"/>
<ellipse cx="-10.7" cy="449.4" rx="15.6" ry="7.5" fill="#555555"/>
<ellipse cx="-10.7" cy="445.9" rx="15.3" ry="6.9" fill="#777777"/>
<ellipse cx="278.5" cy="449.9" rx="15.6" ry="7.5" fill="#555555"/>
<ellipse cx="278.5" cy="446.4" rx="15.3" ry="6.9" fill="#777777"/>
<ellipse cx="567.6" cy="450.3" rx="15.6" ry="7.5" fill="#555555"/>
<ellipse cx="567.6" cy="446.8" rx="15.3" ry="6.9" fill="#777777"/>
<ellipse cx="41.1" cy="450.9" rx="15.7" ry="7.5" fill="#555555"/>
<ellipse cx="41.1" cy="447.4" rx="15.3" ry="6.9" fill="#777777"/>
<ellipse cx="330.7" cy="451.3" rx="15.7" ry="7.5" fill="#555555"/>
<ellipse cx="330.7" cy="447.8" rx="15.3" ry="6.9" fill="#777777"/>
<ellipse cx="620.2" cy="451.8" rx="15.7" ry="7.5" fill="#555555"/>
<ellipse cx="620.2" cy="448.3" rx="15.3" ry="6.9" fill="#777777"/>
<ellipse cx="93.0" cy="452.4" rx="15.7" ry="7.6" fill="#555555"/>
<ellipse cx="93.0" cy="448.9" rx="15.3" ry="6.9" fill="#777777"/>
<ellipse cx="383.1" cy="452.8" rx="15.7" ry="7.5" fill="#555555"/>
<ellipse cx="383.1" cy="449.3" rx="15.3" ry="6.9" fill="#777777"/>
<ellipse cx="673.1" cy="453.3" rx="15.7" ry="7.5" fill="#555555"/>
<ellipse cx="673.1" cy="449.8" rx="15.3" ry="6.9" fill="#777777"/>
<ellipse cx="145.1" cy="453.8" rx="15.7" ry="7.6" fill="#555555"/>
<ellipse cx="145.1" cy="450.3" rx="15.4" ry="6.9" fill="#777777"/>
<ellipse cx="435.7" cy="454.3" rx="15.7" ry="7.6" fill="#555555"/>
<ellipse cx="435.7" cy="450.8" rx="15.4" ry="6.9" fill="#777777"/>
<ellipse cx="197.3" cy="455.3" rx="15.8" ry="7.6" fill="#555555"/>
<ellipse cx="197.3" cy="451.8" rx="15.4" ry="6.9" fill="#777777"/>
<ellipse cx="488.4" cy="455.8" rx="15.8" ry="7.6" fill="#555555"/>
<ellipse cx="488.4" cy="452.3" rx="15.4" ry="6.9" fill="#777777"/>
<ellipse cx="-41.9" cy="456.4" rx="15.8" ry="7.6" fill="#555555"/>
<ellipse cx="-41.9" cy="452.9" rx="15.5" ry="6.9" fill="#777777"/>
<ellipse cx="249.8" cy="456.8" rx="15.8" ry="7.6" fill="#555555"/>
<ellipse cx="249.8" cy="453.3" rx="15.4" ry="6.9" fill="#777777"/>
<ellipse cx="541.3" cy="457.3" rx="15.8" ry="7.6" fill="#555555"/>
<ellipse cx="541.3" cy="453.8" rx="15.4" ry="6.9" fill="#777777"/>
<ellipse cx="10.2" cy="457.9" rx="15.8" ry="7.6" fill="#555555"/>
<ellipse cx="10.2" cy="454.4" rx="15.5" ry="7.0" fill="#777777"/>
<ellipse cx="302.4" cy="458.3" rx="15.8" ry="7.6" fill="#555555"/>
<ellipse cx="302.4" cy="454.8" rx="15.5" ry="7.0" fill="#777777"/>
<ellipse cx="594.4" cy="458.8" rx="15.8" ry="7.6" fill="#555555"/>
<ellipse cx="594.4" cy="455.3" rx="15.5" ry="7.0" fill="#777777"/>
<ellipse cx="62.5" cy="459.4" rx="15.9" ry="7.6" fill="#555555"/>
<ellipse cx="62.5" cy="455.9" rx="15.5" ry="7.0" fill="#777777"/>
<ellipse cx="355.2" cy="459.8" rx="15.9" ry="7.6" fill="#555555"/>
<ellipse cx="355.2" cy="456.3" rx="15.5" ry="7.0" fill="#777777"/>
<ellipse cx="647.7" cy="460.3" rx="15.9" ry="7.6" fill="#555555"/>
<ellipse cx="647.7" cy="456.8" rx="15.5" ry="7.0" fill="#777777"/>
<ellipse cx="115.0" cy="460.9" rx="15.9" ry="7.7" fill="#555555"/>
<ellipse cx="115.0" cy="457.4" rx="15.6" ry="7.0" fill="#777777"/>
<ellipse cx="408.2" cy="461.3" rx="15.9" ry="7.7" fill="#555555"/>
<ellipse cx="408.2" cy="457.8" rx="15.5" ry="7.0" fill="#777777"/>
<ellipse cx="701.2" cy="461.8" rx="15.9" ry="7.6" fill="#555555"/>
<ellipse cx="701.2" cy="458.3" rx="15.5" ry="7.0" fill="#777777"/>
<ellipse cx="167.7" cy="462.4" rx="15.9" ry="7.7" fill="#555555"/>
<ellipse cx="167.7" cy="458.9" rx="15.6" ry="7.0" fill="#777777"/>
<ellipse cx="461.3" cy="462.8" rx="15.9" ry="7.7" fill="#555555"/>
<ellipse cx="461.3" cy="459.3" rx="15.6" ry="7.0" fill="#777777"/>
<ellipse cx="220.5" cy="463.9" rx="16.0" ry="7.7" fill="#555555"/>
<ellipse cx="220.5" cy="460.4" rx="15.6" ry="7.0" fill="#777777"/>
<ellipse cx="514.7" cy="464.4" rx="16.0" ry="7.7" fill="#555555"/>
<ellipse cx="514.7" cy="460.9" rx="15.6" ry="7.0" fill="#777777"/>
<ellipse cx="-21.2" cy="465.0" rx="16.0" ry="7.7" fill="#555555"/>
<ellipse cx="-21.2" cy="461.5" rx="15.7" ry="7.0" fill="#777777"/>
<ellipse cx="273.6" cy="465.4" rx="16.0" ry="7.7" fill="#555555"/>
<ellipse cx="273.6" cy="461.9" rx="15.7" ry="7.0" fill="#777777"/>
<ellipse cx="568.2" cy="465.9" rx="16.0" ry="7.7" fill="#555555"/>
<ellipse cx="568.2" cy="462.4" rx="15.6" ry="7.0" fill="#777777"/>
<ellipse cx="31.5" cy="466.5" rx="16.1" ry="7.7" fill="#555555"/>
<ellipse cx="31.5" cy="463.0" rx="15.7" ry="7.1" fill="#777777"/>
<ellipse cx="326.8" cy="466.9" rx="16.1" ry="7.7" fill="#555555"/>
<ellipse cx="326.8" cy="463.4" rx="15.7" ry="7.0" fill="#777777"/>
<ellipse cx="621.9" cy="467.4" rx="16.0" ry="7.7" fill="#555555"/>
<ellipse cx="621.9" cy="463.9" rx="15.7" ry="7.0" fill="#777777"/>
<ellipse cx="84.4" cy="468.0" rx="16.1" ry="7.7" fill="#555555"/>
<ellipse cx="84.4" cy="464.5" rx="15.7" ry="7.1" fill="#777777"/>
<ellipse cx="380.2" cy="468.5" rx="16.1" ry="7.7" fill="#555555"/>
<ellipse cx="380.2" cy="465.0" rx="15.7" ry="7.1" fill="#777777"/>
<ellipse cx="675.8" cy="468.9" rx="16.1" ry="7.7" fill="#555555"/>
<ellipse cx="675.8" cy="465.4" rx="15.7" ry="7.1" fill="#777777"/>
<ellipse cx="137.5" cy="469.6" rx="16.1" ry="7.8" fill="#555555"/>
<ellipse cx="137.5" cy="466.1" rx="15.8" ry="7.1" fill="#777777"/>
<ellipse cx="433.8" cy="470.0" rx="16.1" ry="7.8" fill="#555555"/>
<ellipse cx="433.8" cy="466.5" rx="15.8" ry="7.1" fill="#777777"/>
<ellipse cx="729.8" cy="470.5" rx="16.1" ry="7.8" fill="#555555"/>
<ellipse cx="729.8" cy="467.0" rx="15.8" ry="7.1" fill="#777777"/>
<ellipse cx="190.8" cy="471.1" rx="16.2" ry="7.8" fill="#555555"/>
<ellipse cx="190.8" cy="467.6" rx="15.8" ry="7.1" fill="#777777"/>
<ellipse cx="487.5" cy="471.6" rx="16.2" ry="7.8" fill="#555555"/>
<ellipse cx="487.5" cy="468.1" rx="15.8" ry="7.1" fill="#777777"/>
<ellipse cx="-53.1" cy="472.2" rx="16.2" ry="7.8" fill="#555555"/>
<ellipse cx="-53.1" cy="468.7" rx="15.8" ry="7.1" fill="#777777"/>
<ellipse cx="244.2" cy="472.6" rx="16.2" ry="7.8" fill="#555555"/>
<ellipse cx="244.2" cy="469.1" rx="15.8" ry="7.1" fill="#777777"/>
<ellipse cx="541.5" cy="473.1" rx="16.2" ry="7.8" fill="#555555"/>
<ellipse cx="541.5" cy="469.6" rx="15.8" ry="7.1" fill="#777777"/>
<ellipse cx="-0.0" cy="473.7" rx="16.2" ry="7.8" fill="#555555"/>
<ellipse cx="-0.0" cy="470.2" rx="15.9" ry="7.1" fill="#777777"/>
<ellipse cx="297.9" cy="474.2" rx="16.2" ry="7.8" fill="#555555"/>
<ellipse cx="297.9" cy="470.7" rx="15.9" ry="7.1" fill="#777777"/>
<ellipse cx="595.6" cy="474.7" rx="16.2" ry="7.8" fill="#555555"/>
<ellipse cx="595.6" cy="471.2" rx="15.9" ry="7.1" fill="#777777"/>
<ellipse cx="53.3" cy="475.3" rx="16.3" ry="7.8" fill="#555555"/>
<ellipse cx="53.3" cy="471.8" rx="15.9" ry="7.1" fill="#777777"/>
<ellipse cx="351.7" cy="475.8" rx="16.3" ry="7.8" fill="#555555"/>
<ellipse cx="351.7" cy="472.3" rx="15.9" ry="7.1" fill="#777777"/>
<ellipse cx="649.9" cy="476.2" rx="16.3" ry="7.8" fill="#555555"/>
<ellipse cx="649.9" cy="472.7" rx="15.9" ry="7.1" fill="#777777"/>
<ellipse cx="106.8" cy="476.9" rx="16.3" ry="7.8" fill="#555555"/>
<ellipse cx="106.8" cy="473.4" rx="15.9" ry="7.2" fill="#777777"/>
<ellipse cx="405.7" cy="477.3" rx="16.3" ry="7.8" fill="#555555"/>
<ellipse cx="405.7" cy="473.8" rx="15.9" ry="7.2" fill="#777777"/>
<ellipse cx="704.4" cy="477.8" rx="16.3" ry="7.8" fill="#555555"/>
<ellipse cx="704.4" cy="474.3" rx="15.9" ry="7.2" fill="#777777"/>
<ellipse cx="160.5" cy="478.4" rx="16.4" ry="7.9" fill="#555555"/>
<ellipse cx="160.5" cy="474.9" rx="16.0" ry="7.2" fill="#777777"/>
<ellipse cx="459.9" cy="478.9" rx="16.3" ry="7.9" fill="#555555"/>
<ellipse cx="459.9" cy="475.4" rx="16.0" ry="7.2" fill="#777777"/>
<ellipse cx="759.1" cy="479.3" rx="16.3" ry="7.9" fill="#555555"/>
<ellipse cx="759.1" cy="475.8" rx="16.0" ry="7.2" fill="#777777"/>
<ellipse cx="214.4" cy="480.0" rx="16.4" ry="7.9" fill="#555555"/>
<ellipse cx="214.4" cy="476.5" rx="16.0" ry="7.2" fill="#777777"/>
<ellipse cx="514.3" cy="480.5" rx="16.4" ry="7.9" fill="#555555"/>
<ellipse cx="514.3" cy="477.0" rx="16.0" ry="7.2" fill="#777777"/>
<ellipse cx="-32.1" cy="481.1" rx="16.4" ry="7.9" fill="#555555"/>
<ellipse cx="-32.1" cy="477.6" rx="16.1" ry="7.2" fill="#777777"/>
<ellipse cx="268.4" cy="481.6" rx="16.4" ry="7.9" fill="#555555"/>
<ellipse cx="268.4" cy="478.1" rx="16.1" ry="7.2" fill="#777777"/>
<ellipse cx="568.8" cy="482.0" rx="16.4" ry="7.9" fill="#555555"/>
<ellipse cx="568.8" cy="478.5" rx="16.0" ry="7.2" fill="#777777"/>
<ellipse cx="21.6" cy="482.7" rx="16.5" ry="7.9" fill="#555555"/>
<ellipse cx="21.6" cy="479.2" rx="16.1" ry="7.2" fill="#777777"/>
<ellipse cx="322.7" cy="483.2" rx="16.5" ry="7.9" fill="#555555"/>
<ellipse cx="322.7" cy="479.7" rx="16.1" ry="7.2" fill="#777777"/>
<ellipse cx="623.6" cy="483.6" rx="16.5" ry="7.9" fill="#555555"/>
<ellipse cx="623.6" cy="480.1" rx="16.1" ry="7.2" fill="#777777"/>
<ellipse cx="75.6" cy="484.3" rx="16.5" ry="7.9" fill="#555555"/>
<ellipse cx="75.6" cy="480.8" rx="16.1" ry="7.2" fill="#777777"/>
<ellipse cx="377.1" cy="484.8" rx="16.5" ry="7.9" fill="#555555"/>
<ellipse cx="377.1" cy="481.3" rx="16.1" ry="7.2" fill="#777777"/>
<ellipse cx="678.5" cy="485.2" rx="16.5" ry="7.9" fill="#555555"/>
<ellipse cx="678.5" cy="481.7" rx="16.1" ry="7.2" fill="#777777"/>
<ellipse cx="129.7" cy="485.9" rx="16.5" ry="8.0" fill="#555555"/>
<ellipse cx="129.7" cy="482.4" rx="16.2" ry="7.3" fill="#777777"/>
<ellipse cx="431.8" cy="486.4" rx="16.5" ry="8.0" fill="#555555"/>
<ellipse cx="431.8" cy="482.9" rx="16.2" ry="7.3" fill="#777777"/>
<ellipse cx="733.6" cy="486.8" rx="16.5" ry="8.0" fill="#555555"/>
<ellipse cx="733.6" cy="483.3" rx="16.2" ry="7.3" fill="#777777"/>
<ellipse cx="184.0" cy="487.5" rx="16.6" ry="8.0" fill="#555555"/>
<ellipse cx="184.0" cy="484.0" rx="16.2" ry="7.3" fill="#777777"/>
<ellipse cx="486.6" cy="488.0" rx="16.6" ry="8.0" fill="#555555"/>
<ellipse cx="486.6" cy="484.5" rx="16.2" ry="7.3" fill="#777777"/>
<ellipse cx="789.0" cy="488.4" rx="16.6" ry="8.0" fill="#555555"/>
<ellipse cx="789.0" cy="484.9" rx="16.2" ry="7.3" fill="#777777"/>
<ellipse cx="238.5" cy="489.1" rx="16.6" ry="8.0" fill="#555555"/>
<ellipse cx="238.5" cy="485.6" rx="16.2" ry="7.3" fill="#777777"/>
<ellipse cx="541.6" cy="489.6" rx="16.6" ry="8.0" fill="#555555"/>
<ellipse cx="541.6" cy="486.1" rx="16.2" ry="7.3" fill="#777777"/>
<ellipse cx="-10.6" cy="490.2" rx="16.7" ry="8.0" fill="#555555"/>
<ellipse cx="-10.6" cy="486.7" rx="16.3" ry="7.3" fill="#777777"/>
<ellipse cx="293.2" cy="490.7" rx="16.7" ry="8.0" fill="#555555"/>
<ellipse cx="293.2" cy="487.2" rx="16.3" ry="7.3" fill="#777777"/>
<ellipse cx="596.8" cy="491.2" rx="16.7" ry="8.0" fill="#555555"/>
<ellipse cx="596.8" cy="487.7" rx="16.3" ry="7.3" fill="#777777"/>
<ellipse cx="43.8" cy="491.9" rx="16.7" ry="8.0" fill="#555555"/>
<ellipse cx="43.8" cy="488.4" rx="16.3" ry="7.3" fill="#777777"/>
<ellipse cx="348.0" cy="492.3" rx="16.7" ry="8.0" fill="#555555"/>
<ellipse cx="348.0" cy="488.8" rx="16.3" ry="7.3" fill="#777777"/>
<ellipse cx="652.2" cy="492.8" rx="16.7" ry="8.0" fill="#555555"/>
<ellipse cx="652.2" cy="489.3" rx="16.3" ry="7.3" fill="#777777"/>
<ellipse cx="98.3" cy="493.5" rx="16.7" ry="8.1" fill="#555555"/>
<ellipse cx="98.3" cy="490.0" rx="16.4" ry="7.4" fill="#777777"/>
<ellipse cx="403.1" cy="494.0" rx="16.7" ry="8.0" fill="#555555"/>
<ellipse cx="403.1" cy="490.5" rx="16.4" ry="7.3" fill="#777777"/>
<ellipse cx="707.7" cy="494.4" rx="16.7" ry="8.0" fill="#555555"/>
<ellipse cx="707.7" cy="490.9" rx="16.3" ry="7.3" fill="#777777"/>
<ellipse cx="153.0" cy="495.1" rx="16.8" ry="8.1" fill="#555555"/>
<ellipse cx="153.0" cy="491.6" rx="16.4" ry="7.4" fill="#777777"/>
<ellipse cx="458.4" cy="495.6" rx="16.8" ry="8.1" fill="#555555"/>
<ellipse cx="458.4" cy="492.1" rx="16.4" ry="7.4" fill="#777777"/>
<ellipse cx="763.5" cy="496.0" rx="16.8" ry="8.1" fill="#555555"/>
<ellipse cx="763.5" cy="492.5" rx="16.4" ry="7.4" fill="#777777"/>
<ellipse cx="208.0" cy="496.8" rx="16.8" ry="8.1" fill="#555555"/>
<ellipse cx="208.0" cy="493.3" rx="16.4" ry="7.4" fill="#777777"/>
<ellipse cx="513.8" cy="497.2" rx="16.8" ry="8.1" fill="#555555"/>
<ellipse cx="513.8" cy="493.7" rx="16.4" ry="7.4" fill="#777777"/>
<path d="M 800.4,494.2 L 800.4,581.2 A 19.1,8.8 0 0 0 838.6,581.2 L 838.6,494.2 Z" fill="url(#coilside)"/>
<path d="M 800.4,494.2 L 800.4,581.2 A 19.1,8.8 0 0 0 838.6,581.2 L 838.6,494.2 Z" fill="url(#coilv)"/>
<path d="M 800.4,529.3 A 19.1,8.8 0 0 0 838.6,529.3 L 838.6,539.8 A 19.1,8.8 0 0 1 800.4,539.8 Z" fill="#e4e4e4" opacity="0.35"/>
<path d="M 800.4,514.7 A 19.1,8.8 0 0 0 838.6,514.7 L 838.6,517.3 A 19.1,8.8 0 0 1 800.4,517.3 Z" fill="#e4e4e4" opacity="0.2"/>
<path d="M 800.4,550.2 A 19.1,8.8 0 0 0 838.6,550.2 L 838.6,552.9 A 19.1,8.8 0 0 1 800.4,552.9 Z" fill="#e4e4e4" opacity="0.2"/>
<path d="M 800.4,569.1 A 19.1,8.8 0 0 0 838.6,569.1 L 838.6,571.7 A 19.1,8.8 0 0 1 800.4,571.7 Z" fill="#e4e4e4" opacity="0.2"/>
<ellipse cx="819.5" cy="494.2" rx="19.1" ry="7.9" fill="#9b9b9b"/>
<path d="M -62.6,494.4 L -62.6,581.7 A 19.2,8.8 0 0 0 -24.3,581.7 L -24.3,494.4 Z" fill="url(#coilside)"/>
<path d="M -62.6,494.4 L -62.6,581.7 A 19.2,8.8 0 0 0 -24.3,581.7 L -24.3,494.4 Z" fill="url(#coilv)"/>
<path d="M -62.6,529.7 A 19.2,8.8 0 0 0 -24.3,529.7 L -24.3,540.2 A 19.2,8.8 0 0 1 -62.6,540.2 Z" fill="#e4e4e4" opacity="0.35"/>
<path d="M -62.6,515.0 A 19.2,8.8 0 0 0 -24.3,515.0 L -24.3,517.6 A 19.2,8.8 0 0 1 -62.6,517.6 Z" fill="#e4e4e4" opacity="0.2"/>
<path d="M -62.6,550.7 A 19.2,8.8 0 0 0 -24.3,550.7 L -24.3,553.3 A 19.2,8.8 0 0 1 -62.6,553.3 Z" fill="#e4e4e4" opacity="0.2"/>
<path d="M -62.6,569.6 A 19.2,8.8 0 0 0 -24.3,569.6 L -24.3,572.2 A 19.2,8.8 0 0 1 -62.6,572.2 Z" fill="#e4e4e4" opacity="0.2"/>
<ellipse cx="-43.4" cy="494.4" rx="19.2" ry="7.9" fill="#9b9b9b"/>
<ellipse cx="263.1" cy="498.4" rx="16.9" ry="8.1" fill="#555555"/>
<ellipse cx="263.1" cy="494.9" rx="16.5" ry="7.4" fill="#777777"/>
<ellipse cx="569.5" cy="498.9" rx="16.8" ry="8.1" fill="#555555"/>
<ellipse cx="569.5" cy="495.4" rx="16.5" ry="7.4" fill="#777777"/>
<ellipse cx="11.4" cy="499.6" rx="16.9" ry="8.1" fill="#555555"/>
<ellipse cx="11.4" cy="496.1" rx="16.5" ry="7.4" fill="#777777"/>
<ellipse cx="318.4" cy="500.0" rx="16.9" ry="8.1" fill="#555555"/>
<ellipse cx="318.4" cy="496.5" rx="16.5" ry="7.4" fill="#777777"/>
<ellipse cx="625.3" cy="500.5" rx="16.9" ry="8.1" fill="#555555"/>
<ellipse cx="625.3" cy="497.0" rx="16.5" ry="7.4" fill="#777777"/>
<ellipse cx="66.3" cy="501.2" rx="16.9" ry="8.1" fill="#555555"/>
<ellipse cx="66.3" cy="497.7" rx="16.6" ry="7.4" fill="#777777"/>
<ellipse cx="374.0" cy="501.7" rx="16.9" ry="8.1" fill="#555555"/>
<ellipse cx="374.0" cy="498.2" rx="16.5" ry="7.4" fill="#777777"/>
<ellipse cx="681.4" cy="502.2" rx="16.9" ry="8.1" fill="#555555"/>
<ellipse cx="681.4" cy="498.7" rx="16.5" ry="7.4" fill="#777777"/>
<ellipse cx="121.5" cy="502.9" rx="17.0" ry="8.2" fill="#555555"/>
<ellipse cx="121.5" cy="499.4" rx="16.6" ry="7.5" fill="#777777"/>
<ellipse cx="429.7" cy="503.4" rx="17.0" ry="8.2" fill="#555555"/>
<ellipse cx="429.7" cy="499.9" rx="16.6" ry="7.5" fill="#777777"/>
<ellipse cx="737.6" cy="503.8" rx="17.0" ry="8.2" fill="#555555"/>
<ellipse cx="737.6" cy="500.3" rx="16.6" ry="7.4" fill="#777777"/>
<ellipse cx="176.9" cy="504.5" rx="17.0" ry="8.2" fill="#555555"/>
<ellipse cx="176.9" cy="501.0" rx="16.6" ry="7.5" fill="#777777"/>
<ellipse cx="485.6" cy="505.0" rx="17.0" ry="8.2" fill="#555555"/>
<ellipse cx="485.6" cy="501.5" rx="16.6" ry="7.5" fill="#777777"/>
<path d="M 774.7,502.0 L 774.7,590.0 A 19.3,8.9 0 0 0 813.4,590.0 L 813.4,502.0 Z" fill="url(#coilside)"/>
<path d="M 774.7,502.0 L 774.7,590.0 A 19.3,8.9 0 0 0 813.4,590.0 L 813.4,502.0 Z" fill="url(#coilv)"/>
<path d="M 774.7,537.5 A 19.3,8.9 0 0 0 813.4,537.5 L 813.4,548.1 A 19.3,8.9 0 0 1 774.7,548.1 Z" fill="#e4e4e4" opacity="0.35"/>
<path d="M 774.7,522.7 A 19.3,8.9 0 0 0 813.4,522.7 L 813.4,525.4 A 19.3,8.9 0 0 1 774.7,525.4 Z" fill="#e4e4e4" opacity="0.2"/>
<path d="M 774.7,558.7 A 19.3,8.9 0 0 0 813.4,558.7 L 813.4,561.3 A 19.3,8.9 0 0 1 774.7,561.3 Z" fill="#e4e4e4" opacity="0.2"/>
<path d="M 774.7,577.7 A 19.3,8.9 0 0 0 813.4,577.7 L 813.4,580.4 A 19.3,8.9 0 0 1 774.7,580.4 Z" fill="#e4e4e4" opacity="0.2"/>
<ellipse cx="794.1" cy="502.0" rx="19.3" ry="8.0" fill="#9b9b9b"/>
<ellipse cx="232.5" cy="506.2" rx="17.1" ry="8.2" fill="#555555"/>
<ellipse cx="232.5" cy="502.7" rx="16.7" ry="7.5" fill="#777777"/>
<ellipse cx="541.7" cy="506.7" rx="17.1" ry="8.2" fill="#555555"/>
<ellipse cx="541.7" cy="503.2" rx="16.7" ry="7.5" fill="#777777"/>
<path d="M -41.1,503.9 L -41.1,592.4 A 19.4,8.9 0 0 0 -2.2,592.4 L -2.2,503.9 Z" fill="url(#coilside)"/>
<path d="M -41.1,503.9 L -41.1,592.4 A 19.4,8.9 0 0 0 -2.2,592.4 L -2.2,503.9 Z" fill="url(#coilv)"/>
<path d="M -41.1,539.7 A 19.4,8.9 0 0 0 -2.2,539.7 L -2.2,550.3 A 19.4,8.9 0 0 1 -41.1,550.3 Z" fill="#e4e4e4" opacity="0.35"/>
<path d="M -41.1,524.8 A 19.4,8.9 0 0 0 -2.2,524.8 L -2.2,527.4 A 19.4,8.9 0 0 1 -41.1,527.4 Z" fill="#e4e4e4" opacity="0.2"/>
<path d="M -41.1,560.9 A 19.4,8.9 0 0 0 -2.2,560.9 L -2.2,563.6 A 19.4,8.9 0 0 1 -41.1,563.6 Z" fill="#e4e4e4" opacity="0.2"/>
<path d="M -41.1,580.1 A 19.4,8.9 0 0 0 -2.2,580.1 L -2.2,582.8 A 19.4,8.9 0 0 1 -41.1,582.8 Z" fill="#e4e4e4" opacity="0.2"/>
<ellipse cx="-21.6" cy="503.9" rx="19.4" ry="8.0" fill="#9b9b9b"/>
<ellipse cx="288.3" cy="507.9" rx="17.1" ry="8.2" fill="#555555"/>
<ellipse cx="288.3" cy="504.4" rx="16.7" ry="7.5" fill="#777777"/>
<ellipse cx="598.0" cy="508.4" rx="17.1" ry="8.2" fill="#555555"/>
<ellipse cx="598.0" cy="504.9" rx="16.7" ry="7.5" fill="#777777"/>
<ellipse cx="33.8" cy="509.1" rx="17.1" ry="8.2" fill="#555555"/>
<ellipse cx="33.8" cy="505.6" rx="16.8" ry="7.5" fill="#777777"/>
<ellipse cx="344.3" cy="509.6" rx="17.1" ry="8.2" fill="#555555"/>
<ellipse cx="344.3" cy="506.1" rx="16.7" ry="7.5" fill="#777777"/>
<ellipse cx="654.5" cy="510.0" rx="17.1" ry="8.2" fill="#555555"/>
<ellipse cx="654.5" cy="506.5" rx="16.7" ry="7.5" fill="#777777"/>
<ellipse cx="89.4" cy="510.8" rx="17.2" ry="8.3" fill="#555555"/>
<ellipse cx="89.4" cy="507.3" rx="16.8" ry="7.5" fill="#777777"/>
<ellipse cx="400.4" cy="511.3" rx="17.2" ry="8.3" fill="#555555"/>
<ellipse cx="400.4" cy="507.8" rx="16.8" ry="7.5" fill="#777777"/>
<ellipse cx="711.2" cy="511.7" rx="17.2" ry="8.3" fill="#555555"/>
<ellipse cx="711.2" cy="508.2" rx="16.8" ry="7.5" fill="#777777"/>
<ellipse cx="145.3" cy="512.5" rx="17.2" ry="8.3" fill="#555555"/>
<ellipse cx="145.3" cy="509.0" rx="16.8" ry="7.6" fill="#777777"/>
<ellipse cx="456.8" cy="513.0" rx="17.2" ry="8.3" fill="#555555"/>
<ellipse cx="456.8" cy="509.5" rx="16.8" ry="7.6" fill="#777777"/>
<path d="M 748.6,509.9 L 748.6,599.0 A 19.6,9.0 0 0 0 787.7,599.0 L 787.7,509.9 Z" fill="url(#coilside)"/>
<path d="M 748.6,509.9 L 748.6,599.0 A 19.6,9.0 0 0 0 787.7,599.0 L 787.7,509.9 Z" fill="url(#coilv)"/>
<path d="M 748.6,545.9 A 19.6,9.0 0 0 0 787.7,545.9 L 787.7,556.6 A 19.6,9.0 0 0 1 748.6,556.6 Z" fill="#e4e4e4" opacity="0.35"/>
<path d="M 748.6,530.9 A 19.6,9.0 0 0 0 787.7,530.9 L 787.7,533.6 A 19.6,9.0 0 0 1 748.6,533.6 Z" fill="#e4e4e4" opacity="0.2"/>
<path d="M 748.6,567.3 A 19.6,9.0 0 0 0 787.7,567.3 L 787.7,570.0 A 19.6,9.0 0 0 1 748.6,570.0 Z" fill="#e4e4e4" opacity="0.2"/>
<path d="M 748.6,586.5 A 19.6,9.0 0 0 0 787.7,586.5 L 787.7,589.2 A 19.6,9.0 0 0 1 748.6,589.2 Z" fill="#e4e4e4" opacity="0.2"/>
<ellipse cx="768.2" cy="509.9" rx="19.6" ry="8.1" fill="#9b9b9b"/>
<ellipse cx="201.3" cy="514.2" rx="17.3" ry="8.3" fill="#555555"/>
<ellipse cx="201.3" cy="510.7" rx="16.9" ry="7.6" fill="#777777"/>
<ellipse cx="513.4" cy="514.7" rx="17.3" ry="8.3" fill="#555555"/>
<ellipse cx="513.4" cy="511.2" rx="16.9" ry="7.6" fill="#777777"/>
<ellipse cx="257.6" cy="515.9" rx="17.3" ry="8.3" fill="#555555"/>
<ellipse cx="257.6" cy="512.4" rx="16.9" ry="7.6" fill="#777777"/>
<ellipse cx="570.2" cy="516.4" rx="17.3" ry="8.3" fill="#555555"/>
<ellipse cx="570.2" cy="512.9" rx="16.9" ry="7.6" fill="#777777"/>
<path d="M -19.1,513.6 L -19.1,603.4 A 19.7,9.1 0 0 0 20.4,603.4 L 20.4,513.6 Z" fill="url(#coilside)"/>
<path d="M -19.1,513.6 L -19.1,603.4 A 19.7,9.1 0 0 0 20.4,603.4 L 20.4,513.6 Z" fill="url(#coilv)"/>
<path d="M -19.1,549.9 A 19.7,9.1 0 0 0 20.4,549.9 L 20.4,560.7 A 19.7,9.1 0 0 1 -19.1,560.7 Z" fill="#e4e4e4" opacity="0.35"/>
<path d="M -19.1,534.8 A 19.7,9.1 0 0 0 20.4,534.8 L 20.4,537.5 A 19.7,9.1 0 0 1 -19.1,537.5 Z" fill="#e4e4e4" opacity="0.2"/>
<path d="M -19.1,571.4 A 19.7,9.1 0 0 0 20.4,571.4 L 20.4,574.1 A 19.7,9.1 0 0 1 -19.1,574.1 Z" fill="#e4e4e4" opacity="0.2"/>
<path d="M -19.1,590.9 A 19.7,9.1 0 0 0 20.4,590.9 L 20.4,593.6 A 19.7,9.1 0 0 1 -19.1,593.6 Z" fill="#e4e4e4" opacity="0.2"/>
<ellipse cx="0.7" cy="513.6" rx="19.7" ry="8.2" fill="#9b9b9b"/>
<ellipse cx="314.0" cy="517.6" rx="17.3" ry="8.3" fill="#555555"/>
<ellipse cx="314.0" cy="514.1" rx="17.0" ry="7.6" fill="#777777"/>
<ellipse cx="627.2" cy="518.1" rx="17.3" ry="8.3" fill="#555555"/>
<ellipse cx="627.2" cy="514.6" rx="16.9" ry="7.6" fill="#777777"/>
<ellipse cx="56.7" cy="518.9" rx="17.4" ry="8.4" fill="#555555"/>
<ellipse cx="56.7" cy="515.4" rx="17.0" ry="7.6" fill="#777777"/>
<ellipse cx="370.6" cy="519.3" rx="17.4" ry="8.4" fill="#555555"/>
<ellipse cx="370.6" cy="515.8" rx="17.0" ry="7.6" fill="#777777"/>
<ellipse cx="684.4" cy="519.8" rx="17.4" ry="8.4" fill="#555555"/>
<ellipse cx="684.4" cy="516.3" rx="17.0" ry="7.6" fill="#777777"/>
<ellipse cx="113.1" cy="520.6" rx="17.4" ry="8.4" fill="#555555"/>
<ellipse cx="113.1" cy="517.1" rx="17.0" ry="7.7" fill="#777777"/>
<ellipse cx="427.5" cy="521.0" rx="17.4" ry="8.4" fill="#555555"/>
<ellipse cx="427.5" cy="517.5" rx="17.0" ry="7.7" fill="#777777"/>
<path d="M 722.0,518.0 L 722.0,608.1 A 19.8,9.1 0 0 0 761.6,608.1 L 761.6,518.0 Z" fill="url(#coilside)"/>
<path d="M 722.0,518.0 L 722.0,608.1 A 19.8,9.1 0 0 0 761.6,608.1 L 761.6,518.0 Z" fill="url(#coilv)"/>
<path d="M 722.0,554.4 A 19.8,9.1 0 0 0 761.6,554.4 L 761.6,565.2 A 19.8,9.1 0 0 1 722.0,565.2 Z" fill="#e4e4e4" opacity="0.35"/>
<path d="M 722.0,539.2 A 19.8,9.1 0 0 0 761.6,539.2 L 761.6,541.9 A 19.8,9.1 0 0 1 722.0,541.9 Z" fill="#e4e4e4" opacity="0.2"/>
<path d="M 722.0,576.0 A 19.8,9.1 0 0 0 761.6,576.0 L 761.6,578.7 A 19.8,9.1 0 0 1 722.0,578.7 Z" fill="#e4e4e4" opacity="0.2"/>
<path d="M 722.0,595.5 A 19.8,9.1 0 0 0 761.6,595.5 L 761.6,598.2 A 19.8,9.1 0 0 1 722.0,598.2 Z" fill="#e4e4e4" opacity="0.2"/>
<ellipse cx="741.8" cy="518.0" rx="19.8" ry="8.2" fill="#9b9b9b"/>
<ellipse cx="169.6" cy="522.3" rx="17.5" ry="8.4" fill="#555555"/>
<ellipse cx="169.6" cy="518.8" rx="17.1" ry="7.7" fill="#777777"/>
<ellipse cx="484.6" cy="522.8" rx="17.5" ry="8.4" fill="#555555"/>
<ellipse cx="484.6" cy="519.3" rx="17.1" ry="7.7" fill="#777777"/>
<ellipse cx="226.3" cy="524.0" rx="17.5" ry="8.4" fill="#555555"/>
<ellipse cx="226.3" cy="520.5" rx="17.1" ry="7.7" fill="#777777"/>
<ellipse cx="541.8" cy="524.5" rx="17.5" ry="8.4" fill="#555555"/>
<ellipse cx="541.8" cy="521.0" rx="17.1" ry="7.7" fill="#777777"/>
<ellipse cx="283.2" cy="525.8" rx="17.6" ry="8.4" fill="#555555"/>
<ellipse cx="283.2" cy="522.3" rx="17.2" ry="7.7" fill="#777777"/>
<ellipse cx="599.3" cy="526.3" rx="17.5" ry="8.4" fill="#555555"/>
<ellipse cx="599.3" cy="522.8" rx="17.2" ry="7.7" fill="#777777"/>
<path d="M 3.4,523.6 L 3.4,614.5 A 20.0,9.2 0 0 0 43.4,614.5 L 43.4,523.6 Z" fill="url(#coilside)"/>
<path d="M 3.4,523.6 L 3.4,614.5 A 20.0,9.2 0 0 0 43.4,614.5 L 43.4,523.6 Z" fill="url(#coilv)"/>
<path d="M 3.4,560.3 A 20.0,9.2 0 0 0 43.4,560.3 L 43.4,571.2 A 20.0,9.2 0 0 1 3.4,571.2 Z" fill="#e4e4e4" opacity="0.35"/>
<path d="M 3.4,545.0 A 20.0,9.2 0 0 0 43.4,545.0 L 43.4,547.7 A 20.0,9.2 0 0 1 3.4,547.7 Z" fill="#e4e4e4" opacity="0.2"/>
<path d="M 3.4,582.2 A 20.0,9.2 0 0 0 43.4,582.2 L 43.4,584.9 A 20.0,9.2 0 0 1 3.4,584.9 Z" fill="#e4e4e4" opacity="0.2"/>
<path d="M 3.4,601.9 A 20.0,9.2 0 0 0 43.4,601.9 L 43.4,604.6 A 20.0,9.2 0 0 1 3.4,604.6 Z" fill="#e4e4e4" opacity="0.2"/>
<ellipse cx="23.4" cy="523.6" rx="20.0" ry="8.3" fill="#9b9b9b"/>
<ellipse cx="340.3" cy="527.5" rx="17.6" ry="8.5" fill="#555555"/>
<ellipse cx="340.3" cy="524.0" rx="17.2" ry="7.7" fill="#777777"/>
<ellipse cx="657.0" cy="528.0" rx="17.6" ry="8.5" fill="#555555"/>
<ellipse cx="657.0" cy="524.5" rx="17.2" ry="7.7" fill="#777777"/>
<ellipse cx="80.2" cy="528.8" rx="17.6" ry="8.5" fill="#555555"/>
<ellipse cx="80.2" cy="525.3" rx="17.2" ry="7.7" fill="#777777"/>
<ellipse cx="397.6" cy="529.3" rx="17.6" ry="8.5" fill="#555555"/>
<ellipse cx="397.6" cy="525.8" rx="17.2" ry="7.7" fill="#777777"/>
<path d="M 694.8,526.3 L 694.8,617.4 A 20.0,9.2 0 0 0 734.9,617.4 L 734.9,526.3 Z" fill="url(#coilside)"/>
<path d="M 694.8,526.3 L 694.8,617.4 A 20.0,9.2 0 0 0 734.9,617.4 L 734.9,526.3 Z" fill="url(#coilv)"/>
<path d="M 694.8,563.1 A 20.0,9.2 0 0 0 734.9,563.1 L 734.9,574.0 A 20.0,9.2 0 0 1 694.8,574.0 Z" fill="#e4e4e4" opacity="0.35"/>
<path d="M 694.8,547.7 A 20.0,9.2 0 0 0 734.9,547.7 L 734.9,550.5 A 20.0,9.2 0 0 1 694.8,550.5 Z" fill="#e4e4e4" opacity="0.2"/>
<path d="M 694.8,585.0 A 20.0,9.2 0 0 0 734.9,585.0 L 734.9,587.7 A 20.0,9.2 0 0 1 694.8,587.7 Z" fill="#e4e4e4" opacity="0.2"/>
<path d="M 694.8,604.7 A 20.0,9.2 0 0 0 734.9,604.7 L 734.9,607.4 A 20.0,9.2 0 0 1 694.8,607.4 Z" fill="#e4e4e4" opacity="0.2"/>
<ellipse cx="714.9" cy="526.3" rx="20.0" ry="8.3" fill="#9b9b9b"/>
<ellipse cx="137.2" cy="530.6" rx="17.7" ry="8.5" fill="#555555"/>
<ellipse cx="137.2" cy="527.1" rx="17.3" ry="7.8" fill="#777777"/>
<ellipse cx="455.2" cy="531.1" rx="17.7" ry="8.5" fill="#555555"/>
<ellipse cx="455.2" cy="527.6" rx="17.3" ry="7.8" fill="#777777"/>
<ellipse cx="194.4" cy="532.3" rx="17.7" ry="8.5" fill="#555555"/>
<ellipse cx="194.4" cy="528.8" rx="17.3" ry="7.8" fill="#777777"/>
<ellipse cx="512.9" cy="532.8" rx="17.7" ry="8.5" fill="#555555"/>
<ellipse cx="512.9" cy="529.3" rx="17.3" ry="7.8" fill="#777777"/>
<ellipse cx="251.8" cy="534.1" rx="17.8" ry="8.5" fill="#555555"/>
<ellipse cx="251.8" cy="530.6" rx="17.4" ry="7.8" fill="#777777"/>
<ellipse cx="570.9" cy="534.6" rx="17.8" ry="8.5" fill="#555555"/>
<ellipse cx="570.9" cy="531.1" rx="17.4" ry="7.8" fill="#777777"/>
<ellipse cx="309.4" cy="535.9" rx="17.8" ry="8.6" fill="#555555"/>
<ellipse cx="309.4" cy="532.4" rx="17.4" ry="7.8" fill="#777777"/>
<ellipse cx="629.1" cy="536.4" rx="17.8" ry="8.6" fill="#555555"/>
<ellipse cx="629.1" cy="532.9" rx="17.4" ry="7.8" fill="#777777"/>
<path d="M 26.4,533.7 L 26.4,626.0 A 20.3,9.3 0 0 0 67.0,626.0 L 67.0,533.7 Z" fill="url(#coilside)"/>
<path d="M 26.4,533.7 L 26.4,626.0 A 20.3,9.3 0 0 0 67.0,626.0 L 67.0,533.7 Z" fill="url(#coilv)"/>
<path d="M 26.4,571.0 A 20.3,9.3 0 0 0 67.0,571.0 L 67.0,582.1 A 20.3,9.3 0 0 1 26.4,582.1 Z" fill="#e4e4e4" opacity="0.35"/>
<path d="M 26.4,555.4 A 20.3,9.3 0 0 0 67.0,555.4 L 67.0,558.2 A 20.3,9.3 0 0 1 26.4,558.2 Z" fill="#e4e4e4" opacity="0.2"/>
<path d="M 26.4,593.2 A 20.3,9.3 0 0 0 67.0,593.2 L 67.0,595.9 A 20.3,9.3 0 0 1 26.4,595.9 Z" fill="#e4e4e4" opacity="0.2"/>
<path d="M 26.4,613.1 A 20.3,9.3 0 0 0 67.0,613.1 L 67.0,615.9 A 20.3,9.3 0 0 1 26.4,615.9 Z" fill="#e4e4e4" opacity="0.2"/>
<ellipse cx="46.7" cy="533.7" rx="20.3" ry="8.4" fill="#9b9b9b"/>
<ellipse cx="367.2" cy="537.7" rx="17.9" ry="8.6" fill="#555555"/>
<ellipse cx="367.2" cy="534.2" rx="17.5" ry="7.8" fill="#777777"/>
<path d="M 667.2,534.7 L 667.2,626.9 A 20.3,9.3 0 0 0 707.8,626.9 L 707.8,534.7 Z" fill="url(#coilside)"/>
<path d="M 667.2,534.7 L 667.2,626.9 A 20.3,9.3 0 0 0 707.8,626.9 L 707.8,534.7 Z" fill="url(#coilv)"/>
<path d="M 667.2,571.9 A 20.3,9.3 0 0 0 707.8,571.9 L 707.8,583.0 A 20.3,9.3 0 0 1 667.2,583.0 Z" fill="#e4e4e4" opacity="0.35"/>
<path d="M 667.2,556.4 A 20.3,9.3 0 0 0 707.8,556.4 L 707.8,559.1 A 20.3,9.3 0 0 1 667.2,559.1 Z" fill="#e4e4e4" opacity="0.2"/>
<path d="M 667.2,594.1 A 20.3,9.3 0 0 0 707.8,594.1 L 707.8,596.8 A 20.3,9.3 0 0 1 667.2,596.8 Z" fill="#e4e4e4" opacity="0.2"/>
<path d="M 667.2,614.0 A 20.3,9.3 0 0 0 707.8,614.0 L 707.8,616.8 A 20.3,9.3 0 0 1 667.2,616.8 Z" fill="#e4e4e4" opacity="0.2"/>
<ellipse cx="687.5" cy="534.7" rx="20.3" ry="8.4" fill="#9b9b9b"/>
<ellipse cx="104.2" cy="539.0" rx="17.9" ry="8.6" fill="#555555"/>
<ellipse cx="104.2" cy="535.5" rx="17.5" ry="7.9" fill="#777777"/>
<ellipse cx="425.2" cy="539.5" rx="17.9" ry="8.6" fill="#555555"/>
<ellipse cx="425.2" cy="536.0" rx="17.5" ry="7.9" fill="#777777"/>
<ellipse cx="161.9" cy="540.8" rx="18.0" ry="8.6" fill="#555555"/>
<ellipse cx="161.9" cy="537.3" rx="17.5" ry="7.9" fill="#777777"/>
<ellipse cx="483.5" cy="541.3" rx="17.9" ry="8.6" fill="#555555"/>
<ellipse cx="483.5" cy="537.8" rx="17.5" ry="7.9" fill="#777777"/>
<ellipse cx="219.8" cy="542.6" rx="18.0" ry="8.7" fill="#555555"/>
<ellipse cx="219.8" cy="539.1" rx="17.6" ry="7.9" fill="#777777"/>
<ellipse cx="542.0" cy="543.1" rx="18.0" ry="8.7" fill="#555555"/>
<ellipse cx="542.0" cy="539.6" rx="17.6" ry="7.9" fill="#777777"/>
<ellipse cx="277.9" cy="544.4" rx="18.0" ry="8.7" fill="#555555"/>
<ellipse cx="277.9" cy="540.9" rx="17.6" ry="7.9" fill="#777777"/>
<ellipse cx="600.6" cy="544.9" rx="18.0" ry="8.7" fill="#555555"/>
<ellipse cx="600.6" cy="541.4" rx="17.6" ry="7.9" fill="#777777"/>
<ellipse cx="336.2" cy="546.3" rx="18.1" ry="8.7" fill="#555555"/>
<ellipse cx="336.2" cy="542.8" rx="17.7" ry="7.9" fill="#777777"/>
<path d="M 639.0,543.2 L 639.0,636.5 A 20.5,9.4 0 0 0 680.1,636.5 L 680.1,543.2 Z" fill="url(#coilside)"/>
<path d="M 639.0,543.2 L 639.0,636.5 A 20.5,9.4 0 0 0 680.1,636.5 L 680.1,543.2 Z" fill="url(#coilv)"/>
<path d="M 639.0,580.9 A 20.5,9.4 0 0 0 680.1,580.9 L 680.1,592.1 A 20.5,9.4 0 0 1 639.0,592.1 Z" fill="#e4e4e4" opacity="0.35"/>
<path d="M 639.0,565.2 A 20.5,9.4 0 0 0 680.1,565.2 L 680.1,568.0 A 20.5,9.4 0 0 1 639.0,568.0 Z" fill="#e4e4e4" opacity="0.2"/>
<path d="M 639.0,603.3 A 20.5,9.4 0 0 0 680.1,603.3 L 680.1,606.1 A 20.5,9.4 0 0 1 639.0,606.1 Z" fill="#e4e4e4" opacity="0.2"/>
<path d="M 639.0,623.5 A 20.5,9.4 0 0 0 680.1,623.5 L 680.1,626.3 A 20.5,9.4 0 0 1 639.0,626.3 Z" fill="#e4e4e4" opacity="0.2"/>
<ellipse cx="659.5" cy="543.2" rx="20.5" ry="8.5" fill="#9b9b9b"/>
<path d="M 50.0,544.1 L 50.0,637.7 A 20.6,9.5 0 0 0 91.2,637.7 L 91.2,544.1 Z" fill="url(#coilside)"/>
<path d="M 50.0,544.1 L 50.0,637.7 A 20.6,9.5 0 0 0 91.2,637.7 L 91.2,544.1 Z" fill="url(#coilv)"/>
<path d="M 50.0,581.9 A 20.6,9.5 0 0 0 91.2,581.9 L 91.2,593.1 A 20.6,9.5 0 0 1 50.0,593.1 Z" fill="#e4e4e4" opacity="0.35"/>
<path d="M 50.0,566.1 A 20.6,9.5 0 0 0 91.2,566.1 L 91.2,568.9 A 20.6,9.5 0 0 1 50.0,568.9 Z" fill="#e4e4e4" opacity="0.2"/>
<path d="M 50.0,604.4 A 20.6,9.5 0 0 0 91.2,604.4 L 91.2,607.2 A 20.6,9.5 0 0 1 50.0,607.2 Z" fill="#e4e4e4" opacity="0.2"/>
<path d="M 50.0,624.7 A 20.6,9.5 0 0 0 91.2,624.7 L 91.2,627.5 A 20.6,9.5 0 0 1 50.0,627.5 Z" fill="#e4e4e4" opacity="0.2"/>
<ellipse cx="70.6" cy="544.1" rx="20.6" ry="8.5" fill="#9b9b9b"/>
<ellipse cx="394.7" cy="548.1" rx="18.1" ry="8.7" fill="#555555"/>
<ellipse cx="394.7" cy="544.6" rx="17.7" ry="8.0" fill="#777777"/>
<ellipse cx="128.8" cy="549.4" rx="18.2" ry="8.7" fill="#555555"/>
<ellipse cx="128.8" cy="545.9" rx="17.8" ry="8.0" fill="#777777"/>
<ellipse cx="453.5" cy="549.9" rx="18.2" ry="8.7" fill="#555555"/>
<ellipse cx="453.5" cy="546.4" rx="17.8" ry="8.0" fill="#777777"/>
<ellipse cx="187.1" cy="551.3" rx="18.2" ry="8.8" fill="#555555"/>
<ellipse cx="187.1" cy="547.8" rx="17.8" ry="8.0" fill="#777777"/>
<ellipse cx="512.5" cy="551.8" rx="18.2" ry="8.8" fill="#555555"/>
<ellipse cx="512.5" cy="548.3" rx="17.8" ry="8.0" fill="#777777"/>
<ellipse cx="245.7" cy="553.1" rx="18.3" ry="8.8" fill="#555555"/>
<ellipse cx="245.7" cy="549.6" rx="17.9" ry="8.0" fill="#777777"/>
<ellipse cx="571.7" cy="553.6" rx="18.3" ry="8.8" fill="#555555"/>
<ellipse cx="571.7" cy="550.1" rx="17.8" ry="8.0" fill="#777777"/>
<ellipse cx="304.6" cy="555.0" rx="18.3" ry="8.8" fill="#555555"/>
<ellipse cx="304.6" cy="551.5" rx="17.9" ry="8.0" fill="#777777"/>
<path d="M 610.3,552.0 L 610.3,646.4 A 20.8,9.6 0 0 0 651.9,646.4 L 651.9,552.0 Z" fill="url(#coilside)"/>
<path d="M 610.3,552.0 L 610.3,646.4 A 20.8,9.6 0 0 0 651.9,646.4 L 651.9,552.0 Z" fill="url(#coilv)"/>
<path d="M 610.3,590.1 A 20.8,9.6 0 0 0 651.9,590.1 L 651.9,601.4 A 20.8,9.6 0 0 1 610.3,601.4 Z" fill="#e4e4e4" opacity="0.35"/>
<path d="M 610.3,574.2 A 20.8,9.6 0 0 0 651.9,574.2 L 651.9,577.0 A 20.8,9.6 0 0 1 610.3,577.0 Z" fill="#e4e4e4" opacity="0.2"/>
<path d="M 610.3,612.8 A 20.8,9.6 0 0 0 651.9,612.8 L 651.9,615.6 A 20.8,9.6 0 0 1 610.3,615.6 Z" fill="#e4e4e4" opacity="0.2"/>
<path d="M 610.3,633.2 A 20.8,9.6 0 0 0 651.9,633.2 L 651.9,636.1 A 20.8,9.6 0 0 1 610.3,636.1 Z" fill="#e4e4e4" opacity="0.2"/>
<ellipse cx="631.1" cy="552.0" rx="20.8" ry="8.6" fill="#9b9b9b"/>
<ellipse cx="363.6" cy="556.8" rx="18.4" ry="8.8" fill="#555555"/>
<ellipse cx="363.6" cy="553.3" rx="17.9" ry="8.1" fill="#777777"/>
<path d="M 74.1,554.7 L 74.1,649.7 A 20.9,9.6 0 0 0 115.9,649.7 L 115.9,554.7 Z" fill="url(#coilside)"/>
<path d="M 74.1,554.7 L 74.1,649.7 A 20.9,9.6 0 0 0 115.9,649.7 L 115.9,554.7 Z" fill="url(#coilv)"/>
<path d="M 74.1,593.1 A 20.9,9.6 0 0 0 115.9,593.1 L 115.9,604.5 A 20.9,9.6 0 0 1 74.1,604.5 Z" fill="#e4e4e4" opacity="0.35"/>
<path d="M 74.1,577.1 A 20.9,9.6 0 0 0 115.9,577.1 L 115.9,579.9 A 20.9,9.6 0 0 1 74.1,579.9 Z" fill="#e4e4e4" opacity="0.2"/>
<path d="M 74.1,615.9 A 20.9,9.6 0 0 0 115.9,615.9 L 115.9,618.8 A 20.9,9.6 0 0 1 74.1,618.8 Z" fill="#e4e4e4" opacity="0.2"/>
<path d="M 74.1,636.4 A 20.9,9.6 0 0 0 115.9,636.4 L 115.9,639.3 A 20.9,9.6 0 0 1 74.1,639.3 Z" fill="#e4e4e4" opacity="0.2"/>
<ellipse cx="95.0" cy="554.7" rx="20.9" ry="8.7" fill="#9b9b9b"/>
<ellipse cx="422.9" cy="558.7" rx="18.4" ry="8.8" fill="#555555"/>
<ellipse cx="422.9" cy="555.2" rx="18.0" ry="8.1" fill="#777777"/>
<ellipse cx="153.9" cy="560.1" rx="18.5" ry="8.9" fill="#555555"/>
<ellipse cx="153.9" cy="556.6" rx="18.0" ry="8.1" fill="#777777"/>
<ellipse cx="482.4" cy="560.6" rx="18.4" ry="8.9" fill="#555555"/>
<ellipse cx="482.4" cy="557.1" rx="18.0" ry="8.1" fill="#777777"/>
<ellipse cx="213.0" cy="562.0" rx="18.5" ry="8.9" fill="#555555"/>
<ellipse cx="213.0" cy="558.5" rx="18.1" ry="8.1" fill="#777777"/>
<ellipse cx="542.1" cy="562.5" rx="18.5" ry="8.9" fill="#555555"/>
<ellipse cx="542.1" cy="559.0" rx="18.1" ry="8.1" fill="#777777"/>
<ellipse cx="272.3" cy="563.9" rx="18.5" ry="8.9" fill="#555555"/>
<ellipse cx="272.3" cy="560.4" rx="18.1" ry="8.1" fill="#777777"/>
<path d="M 581.0,560.9 L 581.0,656.4 A 21.1,9.7 0 0 0 623.1,656.4 L 623.1,560.9 Z" fill="url(#coilside)"/>
<path d="M 581.0,560.9 L 581.0,656.4 A 21.1,9.7 0 0 0 623.1,656.4 L 623.1,560.9 Z" fill="url(#coilv)"/>
<path d="M 581.0,599.4 A 21.1,9.7 0 0 0 623.1,599.4 L 623.1,610.9 A 21.1,9.7 0 0 1 581.0,610.9 Z" fill="#e4e4e4" opacity="0.35"/>
<path d="M 581.0,583.4 A 21.1,9.7 0 0 0 623.1,583.4 L 623.1,586.2 A 21.1,9.7 0 0 1 581.0,586.2 Z" fill="#e4e4e4" opacity="0.2"/>
<path d="M 581.0,622.4 A 21.1,9.7 0 0 0 623.1,622.4 L 623.1,625.3 A 21.1,9.7 0 0 1 581.0,625.3 Z" fill="#e4e4e4" opacity="0.2"/>
<path d="M 581.0,643.1 A 21.1,9.7 0 0 0 623.1,643.1 L 623.1,646.0 A 21.1,9.7 0 0 1 581.0,646.0 Z" fill="#e4e4e4" opacity="0.2"/>
<ellipse cx="602.0" cy="560.9" rx="21.1" ry="8.7" fill="#9b9b9b"/>
<ellipse cx="331.9" cy="565.8" rx="18.6" ry="8.9" fill="#555555"/>
<ellipse cx="331.9" cy="562.3" rx="18.2" ry="8.2" fill="#777777"/>
<ellipse cx="391.7" cy="567.7" rx="18.6" ry="9.0" fill="#555555"/>
<ellipse cx="391.7" cy="564.2" rx="18.2" ry="8.2" fill="#777777"/>
<path d="M 98.7,565.6 L 98.7,661.9 A 21.2,9.8 0 0 0 141.2,661.9 L 141.2,565.6 Z" fill="url(#coilside)"/>
<path d="M 98.7,565.6 L 98.7,661.9 A 21.2,9.8 0 0 0 141.2,661.9 L 141.2,565.6 Z" fill="url(#coilv)"/>
<path d="M 98.7,604.5 A 21.2,9.8 0 0 0 141.2,604.5 L 141.2,616.1 A 21.2,9.8 0 0 1 98.7,616.1 Z" fill="#e4e4e4" opacity="0.35"/>
<path d="M 98.7,588.3 A 21.2,9.8 0 0 0 141.2,588.3 L 141.2,591.2 A 21.2,9.8 0 0 1 98.7,591.2 Z" fill="#e4e4e4" opacity="0.2"/>
<path d="M 98.7,627.7 A 21.2,9.8 0 0 0 141.2,627.7 L 141.2,630.6 A 21.2,9.8 0 0 1 98.7,630.6 Z" fill="#e4e4e4" opacity="0.2"/>
<path d="M 98.7,648.5 A 21.2,9.8 0 0 0 141.2,648.5 L 141.2,651.4 A 21.2,9.8 0 0 1 98.7,651.4 Z" fill="#e4e4e4" opacity="0.2"/>
<ellipse cx="120.0" cy="565.6" rx="21.2" ry="8.8" fill="#9b9b9b"/>
<ellipse cx="451.7" cy="569.6" rx="18.7" ry="9.0" fill="#555555"/>
<ellipse cx="451.7" cy="566.1" rx="18.3" ry="8.2" fill="#777777"/>
<ellipse cx="179.6" cy="571.0" rx="18.7" ry="9.0" fill="#555555"/>
<ellipse cx="179.6" cy="567.5" rx="18.3" ry="8.2" fill="#777777"/>
<ellipse cx="512.0" cy="571.5" rx="18.7" ry="9.0" fill="#555555"/>
<ellipse cx="512.0" cy="568.0" rx="18.3" ry="8.2" fill="#777777"/>
<ellipse cx="239.5" cy="573.0" rx="18.8" ry="9.0" fill="#555555"/>
<ellipse cx="239.5" cy="569.5" rx="18.4" ry="8.2" fill="#777777"/>
<path d="M 551.1,569.9 L 551.1,666.7 A 21.3,9.8 0 0 0 593.8,666.7 L 593.8,569.9 Z" fill="url(#coilside)"/>
<path d="M 551.1,569.9 L 551.1,666.7 A 21.3,9.8 0 0 0 593.8,666.7 L 593.8,569.9 Z" fill="url(#coilv)"/>
<path d="M 551.1,609.0 A 21.3,9.8 0 0 0 593.8,609.0 L 593.8,620.6 A 21.3,9.8 0 0 1 551.1,620.6 Z" fill="#e4e4e4" opacity="0.35"/>
<path d="M 551.1,592.7 A 21.3,9.8 0 0 0 593.8,592.7 L 593.8,595.6 A 21.3,9.8 0 0 1 551.1,595.6 Z" fill="#e4e4e4" opacity="0.2"/>
<path d="M 551.1,632.3 A 21.3,9.8 0 0 0 593.8,632.3 L 593.8,635.2 A 21.3,9.8 0 0 1 551.1,635.2 Z" fill="#e4e4e4" opacity="0.2"/>
<path d="M 551.1,653.2 A 21.3,9.8 0 0 0 593.8,653.2 L 593.8,656.1 A 21.3,9.8 0 0 1 551.1,656.1 Z" fill="#e4e4e4" opacity="0.2"/>
<ellipse cx="572.4" cy="569.9" rx="21.3" ry="8.8" fill="#9b9b9b"/>
<ellipse cx="299.5" cy="574.9" rx="18.8" ry="9.1" fill="#555555"/>
<ellipse cx="299.5" cy="571.4" rx="18.4" ry="8.3" fill="#777777"/>
<ellipse cx="359.9" cy="576.8" rx="18.9" ry="9.1" fill="#555555"/>
<ellipse cx="359.9" cy="573.3" rx="18.4" ry="8.3" fill="#777777"/>
<ellipse cx="420.4" cy="578.8" rx="18.9" ry="9.1" fill="#555555"/>
<ellipse cx="420.4" cy="575.3" rx="18.5" ry="8.3" fill="#777777"/>
<path d="M 124.0,576.8 L 124.0,674.5 A 21.6,9.9 0 0 0 167.1,674.5 L 167.1,576.8 Z" fill="url(#coilside)"/>
<path d="M 124.0,576.8 L 124.0,674.5 A 21.6,9.9 0 0 0 167.1,674.5 L 167.1,576.8 Z" fill="url(#coilv)"/>
<path d="M 124.0,616.2 A 21.6,9.9 0 0 0 167.1,616.2 L 167.1,628.0 A 21.6,9.9 0 0 1 124.0,628.0 Z" fill="#e4e4e4" opacity="0.35"/>
<path d="M 124.0,599.8 A 21.6,9.9 0 0 0 167.1,599.8 L 167.1,602.7 A 21.6,9.9 0 0 1 124.0,602.7 Z" fill="#e4e4e4" opacity="0.2"/>
<path d="M 124.0,639.7 A 21.6,9.9 0 0 0 167.1,639.7 L 167.1,642.7 A 21.6,9.9 0 0 1 124.0,642.7 Z" fill="#e4e4e4" opacity="0.2"/>
<path d="M 124.0,660.9 A 21.6,9.9 0 0 0 167.1,660.9 L 167.1,663.8 A 21.6,9.9 0 0 1 124.0,663.8 Z" fill="#e4e4e4" opacity="0.2"/>
<ellipse cx="145.5" cy="576.8" rx="21.6" ry="8.9" fill="#9b9b9b"/>
<ellipse cx="481.2" cy="580.7" rx="19.0" ry="9.1" fill="#555555"/>
<ellipse cx="481.2" cy="577.2" rx="18.5" ry="8.3" fill="#777777"/>
<ellipse cx="205.9" cy="582.2" rx="19.0" ry="9.2" fill="#555555"/>
<ellipse cx="205.9" cy="578.7" rx="18.6" ry="8.4" fill="#777777"/>
<path d="M 520.6,579.2 L 520.6,677.1 A 21.6,9.9 0 0 0 563.9,677.1 L 563.9,579.2 Z" fill="url(#coilside)"/>
<path d="M 520.6,579.2 L 520.6,677.1 A 21.6,9.9 0 0 0 563.9,677.1 L 563.9,579.2 Z" fill="url(#coilv)"/>
<path d="M 520.6,618.7 A 21.6,9.9 0 0 0 563.9,618.7 L 563.9,630.5 A 21.6,9.9 0 0 1 520.6,630.5 Z" fill="#e4e4e4" opacity="0.35"/>
<path d="M 520.6,602.2 A 21.6,9.9 0 0 0 563.9,602.2 L 563.9,605.2 A 21.6,9.9 0 0 1 520.6,605.2 Z" fill="#e4e4e4" opacity="0.2"/>
<path d="M 520.6,642.3 A 21.6,9.9 0 0 0 563.9,642.3 L 563.9,645.3 A 21.6,9.9 0 0 1 520.6,645.3 Z" fill="#e4e4e4" opacity="0.2"/>
<path d="M 520.6,663.5 A 21.6,9.9 0 0 0 563.9,663.5 L 563.9,666.5 A 21.6,9.9 0 0 1 520.6,666.5 Z" fill="#e4e4e4" opacity="0.2"/>
<ellipse cx="542.2" cy="579.2" rx="21.6" ry="8.9" fill="#9b9b9b"/>
<ellipse cx="266.6" cy="584.2" rx="19.1" ry="9.2" fill="#555555"/>
<ellipse cx="266.6" cy="580.7" rx="18.6" ry="8.4" fill="#777777"/>
<ellipse cx="327.4" cy="586.2" rx="19.1" ry="9.2" fill="#555555"/>
<ellipse cx="327.4" cy="582.7" rx="18.7" ry="8.4" fill="#777777"/>
<ellipse cx="388.5" cy="588.2" rx="19.2" ry="9.2" fill="#555555"/>
<ellipse cx="388.5" cy="584.7" rx="18.7" ry="8.4" fill="#777777"/>
<ellipse cx="449.9" cy="590.1" rx="19.2" ry="9.2" fill="#555555"/>
<ellipse cx="449.9" cy="586.6" rx="18.8" ry="8.4" fill="#777777"/>
<path d="M 149.8,588.2 L 149.8,687.4 A 21.9,10.1 0 0 0 193.6,687.4 L 193.6,588.2 Z" fill="url(#coilside)"/>
<path d="M 149.8,588.2 L 149.8,687.4 A 21.9,10.1 0 0 0 193.6,687.4 L 193.6,588.2 Z" fill="url(#coilv)"/>
<path d="M 149.8,628.2 A 21.9,10.1 0 0 0 193.6,628.2 L 193.6,640.2 A 21.9,10.1 0 0 1 149.8,640.2 Z" fill="#e4e4e4" opacity="0.35"/>
<path d="M 149.8,611.5 A 21.9,10.1 0 0 0 193.6,611.5 L 193.6,614.5 A 21.9,10.1 0 0 1 149.8,614.5 Z" fill="#e4e4e4" opacity="0.2"/>
<path d="M 149.8,652.1 A 21.9,10.1 0 0 0 193.6,652.1 L 193.6,655.1 A 21.9,10.1 0 0 1 149.8,655.1 Z" fill="#e4e4e4" opacity="0.2"/>
<path d="M 149.8,673.6 A 21.9,10.1 0 0 0 193.6,673.6 L 193.6,676.6 A 21.9,10.1 0 0 1 149.8,676.6 Z" fill="#e4e4e4" opacity="0.2"/>
<ellipse cx="171.7" cy="588.2" rx="21.9" ry="9.1" fill="#9b9b9b"/>
<path d="M 489.5,588.6 L 489.5,687.8 A 21.9,10.1 0 0 0 533.3,687.8 L 533.3,588.6 Z" fill="url(#coilside)"/>
<path d="M 489.5,588.6 L 489.5,687.8 A 21.9,10.1 0 0 0 533.3,687.8 L 533.3,588.6 Z" fill="url(#coilv)"/>
<path d="M 489.5,628.7 A 21.9,10.1 0 0 0 533.3,628.7 L 533.3,640.6 A 21.9,10.1 0 0 1 489.5,640.6 Z" fill="#e4e4e4" opacity="0.35"/>
<path d="M 489.5,612.0 A 21.9,10.1 0 0 0 533.3,612.0 L 533.3,615.0 A 21.9,10.1 0 0 1 489.5,615.0 Z" fill="#e4e4e4" opacity="0.2"/>
<path d="M 489.5,652.5 A 21.9,10.1 0 0 0 533.3,652.5 L 533.3,655.5 A 21.9,10.1 0 0 1 489.5,655.5 Z" fill="#e4e4e4" opacity="0.2"/>
<path d="M 489.5,674.0 A 21.9,10.1 0 0 0 533.3,674.0 L 533.3,677.0 A 21.9,10.1 0 0 1 489.5,677.0 Z" fill="#e4e4e4" opacity="0.2"/>
<ellipse cx="511.4" cy="588.6" rx="21.9" ry="9.1" fill="#9b9b9b"/>
<ellipse cx="232.9" cy="593.7" rx="19.3" ry="9.3" fill="#555555"/>
<ellipse cx="232.9" cy="590.2" rx="18.9" ry="8.5" fill="#777777"/>
<ellipse cx="294.3" cy="595.7" rx="19.4" ry="9.3" fill="#555555"/>
<ellipse cx="294.3" cy="592.2" rx="18.9" ry="8.5" fill="#777777"/>
<ellipse cx="356.0" cy="597.7" rx="19.4" ry="9.3" fill="#555555"/>
<ellipse cx="356.0" cy="594.2" rx="19.0" ry="8.5" fill="#777777"/>
<ellipse cx="417.9" cy="599.7" rx="19.5" ry="9.4" fill="#555555"/>
<ellipse cx="417.9" cy="596.2" rx="19.0" ry="8.6" fill="#777777"/>
<path d="M 457.8,598.3 L 457.8,698.7 A 22.2,10.2 0 0 0 502.2,698.7 L 502.2,598.3 Z" fill="url(#coilside)"/>
<path d="M 457.8,598.3 L 457.8,698.7 A 22.2,10.2 0 0 0 502.2,698.7 L 502.2,598.3 Z" fill="url(#coilv)"/>
<path d="M 457.8,638.8 A 22.2,10.2 0 0 0 502.2,638.8 L 502.2,650.9 A 22.2,10.2 0 0 1 457.8,650.9 Z" fill="#e4e4e4" opacity="0.35"/>
<path d="M 457.8,621.9 A 22.2,10.2 0 0 0 502.2,621.9 L 502.2,624.9 A 22.2,10.2 0 0 1 457.8,624.9 Z" fill="#e4e4e4" opacity="0.2"/>
<path d="M 457.8,663.0 A 22.2,10.2 0 0 0 502.2,663.0 L 502.2,666.0 A 22.2,10.2 0 0 1 457.8,666.0 Z" fill="#e4e4e4" opacity="0.2"/>
<path d="M 457.8,684.7 A 22.2,10.2 0 0 0 502.2,684.7 L 502.2,687.8 A 22.2,10.2 0 0 1 457.8,687.8 Z" fill="#e4e4e4" opacity="0.2"/>
<ellipse cx="480.0" cy="598.3" rx="22.2" ry="9.2" fill="#9b9b9b"/>
<path d="M 176.3,599.8 L 176.3,700.6 A 22.3,10.2 0 0 0 220.8,700.6 L 220.8,599.8 Z" fill="url(#coilside)"/>
<path d="M 176.3,599.8 L 176.3,700.6 A 22.3,10.2 0 0 0 220.8,700.6 L 220.8,599.8 Z" fill="url(#coilv)"/>
<path d="M 176.3,640.5 A 22.3,10.2 0 0 0 220.8,640.5 L 220.8,652.6 A 22.3,10.2 0 0 1 176.3,652.6 Z" fill="#e4e4e4" opacity="0.35"/>
<path d="M 176.3,623.5 A 22.3,10.2 0 0 0 220.8,623.5 L 220.8,626.6 A 22.3,10.2 0 0 1 176.3,626.6 Z" fill="#e4e4e4" opacity="0.2"/>
<path d="M 176.3,664.7 A 22.3,10.2 0 0 0 220.8,664.7 L 220.8,667.8 A 22.3,10.2 0 0 1 176.3,667.8 Z" fill="#e4e4e4" opacity="0.2"/>
<path d="M 176.3,686.6 A 22.3,10.2 0 0 0 220.8,686.6 L 220.8,689.6 A 22.3,10.2 0 0 1 176.3,689.6 Z" fill="#e4e4e4" opacity="0.2"/>
<ellipse cx="198.5" cy="599.8" rx="22.3" ry="9.2" fill="#9b9b9b"/>
<ellipse cx="260.5" cy="605.4" rx="19.6" ry="9.4" fill="#555555"/>
<ellipse cx="260.5" cy="601.9" rx="19.2" ry="8.6" fill="#777777"/>
<ellipse cx="322.7" cy="607.5" rx="19.7" ry="9.5" fill="#555555"/>
<ellipse cx="322.7" cy="604.0" rx="19.2" ry="8.6" fill="#777777"/>
<ellipse cx="385.2" cy="609.5" rx="19.7" ry="9.5" fill="#555555"/>
<ellipse cx="385.2" cy="606.0" rx="19.3" ry="8.7" fill="#777777"/>
<path d="M 425.4,608.1 L 425.4,709.8 A 22.5,10.3 0 0 0 470.4,709.8 L 470.4,608.1 Z" fill="url(#coilside)"/>
<path d="M 425.4,608.1 L 425.4,709.8 A 22.5,10.3 0 0 0 470.4,709.8 L 470.4,608.1 Z" fill="url(#coilv)"/>
<path d="M 425.4,649.2 A 22.5,10.3 0 0 0 470.4,649.2 L 470.4,661.4 A 22.5,10.3 0 0 1 425.4,661.4 Z" fill="#e4e4e4" opacity="0.35"/>
<path d="M 425.4,632.1 A 22.5,10.3 0 0 0 470.4,632.1 L 470.4,635.1 A 22.5,10.3 0 0 1 425.4,635.1 Z" fill="#e4e4e4" opacity="0.2"/>
<path d="M 425.4,673.7 A 22.5,10.3 0 0 0 470.4,673.7 L 470.4,676.7 A 22.5,10.3 0 0 1 425.4,676.7 Z" fill="#e4e4e4" opacity="0.2"/>
<path d="M 425.4,695.7 A 22.5,10.3 0 0 0 470.4,695.7 L 470.4,698.8 A 22.5,10.3 0 0 1 425.4,698.8 Z" fill="#e4e4e4" opacity="0.2"/>
<ellipse cx="447.9" cy="608.1" rx="22.5" ry="9.3" fill="#9b9b9b"/>
<path d="M 203.4,611.8 L 203.4,714.1 A 22.6,10.4 0 0 0 248.6,714.1 L 248.6,611.8 Z" fill="url(#coilside)"/>
<path d="M 203.4,611.8 L 203.4,714.1 A 22.6,10.4 0 0 0 248.6,714.1 L 248.6,611.8 Z" fill="url(#coilv)"/>
<path d="M 203.4,653.1 A 22.6,10.4 0 0 0 248.6,653.1 L 248.6,665.4 A 22.6,10.4 0 0 1 203.4,665.4 Z" fill="#e4e4e4" opacity="0.35"/>
<path d="M 203.4,635.9 A 22.6,10.4 0 0 0 248.6,635.9 L 248.6,639.0 A 22.6,10.4 0 0 1 203.4,639.0 Z" fill="#e4e4e4" opacity="0.2"/>
<path d="M 203.4,677.7 A 22.6,10.4 0 0 0 248.6,677.7 L 248.6,680.8 A 22.6,10.4 0 0 1 203.4,680.8 Z" fill="#e4e4e4" opacity="0.2"/>
<path d="M 203.4,699.9 A 22.6,10.4 0 0 0 248.6,699.9 L 248.6,702.9 A 22.6,10.4 0 0 1 203.4,702.9 Z" fill="#e4e4e4" opacity="0.2"/>
<ellipse cx="226.0" cy="611.8" rx="22.6" ry="9.4" fill="#9b9b9b"/>
<ellipse cx="288.8" cy="617.4" rx="20.0" ry="9.6" fill="#555555"/>
<ellipse cx="288.8" cy="613.9" rx="19.5" ry="8.8" fill="#777777"/>
<ellipse cx="351.9" cy="619.5" rx="20.0" ry="9.6" fill="#555555"/>
<ellipse cx="351.9" cy="616.0" rx="19.5" ry="8.8" fill="#777777"/>
<path d="M 392.4,618.2 L 392.4,721.2 A 22.8,10.5 0 0 0 438.0,721.2 L 438.0,618.2 Z" fill="url(#coilside)"/>
<path d="M 392.4,618.2 L 392.4,721.2 A 22.8,10.5 0 0 0 438.0,721.2 L 438.0,618.2 Z" fill="url(#coilv)"/>
<path d="M 392.4,659.8 A 22.8,10.5 0 0 0 438.0,659.8 L 438.0,672.2 A 22.8,10.5 0 0 1 392.4,672.2 Z" fill="#e4e4e4" opacity="0.35"/>
<path d="M 392.4,642.4 A 22.8,10.5 0 0 0 438.0,642.4 L 438.0,645.5 A 22.8,10.5 0 0 1 392.4,645.5 Z" fill="#e4e4e4" opacity="0.2"/>
<path d="M 392.4,684.6 A 22.8,10.5 0 0 0 438.0,684.6 L 438.0,687.7 A 22.8,10.5 0 0 1 392.4,687.7 Z" fill="#e4e4e4" opacity="0.2"/>
<path d="M 392.4,706.9 A 22.8,10.5 0 0 0 438.0,706.9 L 438.0,710.0 A 22.8,10.5 0 0 1 392.4,710.0 Z" fill="#e4e4e4" opacity="0.2"/>
<ellipse cx="415.2" cy="618.2" rx="22.8" ry="9.4" fill="#9b9b9b"/>
<path d="M 231.2,624.1 L 231.2,727.9 A 23.0,10.6 0 0 0 277.2,727.9 L 277.2,624.1 Z" fill="url(#coilside)"/>
<path d="M 231.2,624.1 L 231.2,727.9 A 23.0,10.6 0 0 0 277.2,727.9 L 277.2,624.1 Z" fill="url(#coilv)"/>
<path d="M 231.2,666.0 A 23.0,10.6 0 0 0 277.2,666.0 L 277.2,678.5 A 23.0,10.6 0 0 1 231.2,678.5 Z" fill="#e4e4e4" opacity="0.35"/>
<path d="M 231.2,648.5 A 23.0,10.6 0 0 0 277.2,648.5 L 277.2,651.7 A 23.0,10.6 0 0 1 231.2,651.7 Z" fill="#e4e4e4" opacity="0.2"/>
<path d="M 231.2,691.0 A 23.0,10.6 0 0 0 277.2,691.0 L 277.2,694.1 A 23.0,10.6 0 0 1 231.2,694.1 Z" fill="#e4e4e4" opacity="0.2"/>
<path d="M 231.2,713.5 A 23.0,10.6 0 0 0 277.2,713.5 L 277.2,716.6 A 23.0,10.6 0 0 1 231.2,716.6 Z" fill="#e4e4e4" opacity="0.2"/>
<ellipse cx="254.2" cy="624.1" rx="23.0" ry="9.5" fill="#9b9b9b"/>
<ellipse cx="317.8" cy="629.8" rx="20.3" ry="9.8" fill="#555555"/>
<ellipse cx="317.8" cy="626.3" rx="19.8" ry="8.9" fill="#777777"/>
<path d="M 358.6,628.4 L 358.6,732.8 A 23.1,10.6 0 0 0 404.8,732.8 L 404.8,628.4 Z" fill="url(#coilside)"/>
<path d="M 358.6,628.4 L 358.6,732.8 A 23.1,10.6 0 0 0 404.8,732.8 L 404.8,628.4 Z" fill="url(#coilv)"/>
<path d="M 358.6,670.6 A 23.1,10.6 0 0 0 404.8,670.6 L 404.8,683.1 A 23.1,10.6 0 0 1 358.6,683.1 Z" fill="#e4e4e4" opacity="0.35"/>
<path d="M 358.6,653.0 A 23.1,10.6 0 0 0 404.8,653.0 L 404.8,656.1 A 23.1,10.6 0 0 1 358.6,656.1 Z" fill="#e4e4e4" opacity="0.2"/>
<path d="M 358.6,695.7 A 23.1,10.6 0 0 0 404.8,695.7 L 404.8,698.8 A 23.1,10.6 0 0 1 358.6,698.8 Z" fill="#e4e4e4" opacity="0.2"/>
<path d="M 358.6,718.3 A 23.1,10.6 0 0 0 404.8,718.3 L 404.8,721.4 A 23.1,10.6 0 0 1 358.6,721.4 Z" fill="#e4e4e4" opacity="0.2"/>
<ellipse cx="381.7" cy="628.4" rx="23.1" ry="9.6" fill="#9b9b9b"/>
<path d="M 259.7,636.7 L 259.7,742.2 A 23.4,10.7 0 0 0 306.4,742.2 L 306.4,636.7 Z" fill="url(#coilside)"/>
<path d="M 259.7,636.7 L 259.7,742.2 A 23.4,10.7 0 0 0 306.4,742.2 L 306.4,636.7 Z" fill="url(#coilv)"/>
<path d="M 259.7,679.3 A 23.4,10.7 0 0 0 306.4,679.3 L 306.4,692.0 A 23.4,10.7 0 0 1 259.7,692.0 Z" fill="#e4e4e4" opacity="0.35"/>
<path d="M 259.7,661.5 A 23.4,10.7 0 0 0 306.4,661.5 L 306.4,664.7 A 23.4,10.7 0 0 1 259.7,664.7 Z" fill="#e4e4e4" opacity="0.2"/>
<path d="M 259.7,704.7 A 23.4,10.7 0 0 0 306.4,704.7 L 306.4,707.8 A 23.4,10.7 0 0 1 259.7,707.8 Z" fill="#e4e4e4" opacity="0.2"/>
<path d="M 259.7,727.5 A 23.4,10.7 0 0 0 306.4,727.5 L 306.4,730.7 A 23.4,10.7 0 0 1 259.7,730.7 Z" fill="#e4e4e4" opacity="0.2"/>
<ellipse cx="283.1" cy="636.7" rx="23.4" ry="9.7" fill="#9b9b9b"/>
<path d="M 324.2,638.9 L 324.2,744.6 A 23.4,10.8 0 0 0 371.0,744.6 L 371.0,638.9 Z" fill="url(#coilside)"/>
<path d="M 324.2,638.9 L 324.2,744.6 A 23.4,10.8 0 0 0 371.0,744.6 L 371.0,638.9 Z" fill="url(#coilv)"/>
<path d="M 324.2,681.6 A 23.4,10.8 0 0 0 371.0,681.6 L 371.0,694.3 A 23.4,10.8 0 0 1 324.2,694.3 Z" fill="#e4e4e4" opacity="0.35"/>
<path d="M 324.2,663.8 A 23.4,10.8 0 0 0 371.0,663.8 L 371.0,667.0 A 23.4,10.8 0 0 1 324.2,667.0 Z" fill="#e4e4e4" opacity="0.2"/>
<path d="M 324.2,707.0 A 23.4,10.8 0 0 0 371.0,707.0 L 371.0,710.2 A 23.4,10.8 0 0 1 324.2,710.2 Z" fill="#e4e4e4" opacity="0.2"/>
<path d="M 324.2,730.0 A 23.4,10.8 0 0 0 371.0,730.0 L 371.0,733.1 A 23.4,10.8 0 0 1 324.2,733.1 Z" fill="#e4e4e4" opacity="0.2"/>
<ellipse cx="347.6" cy="638.9" rx="23.4" ry="9.7" fill="#9b9b9b"/>
<path d="M 289.0,649.6 L 289.0,756.8 A 23.8,10.9 0 0 0 336.5,756.8 L 336.5,649.6 Z" fill="url(#coilside)"/>
<path d="M 289.0,649.6 L 289.0,756.8 A 23.8,10.9 0 0 0 336.5,756.8 L 336.5,649.6 Z" fill="url(#coilv)"/>
<path d="M 289.0,692.9 A 23.8,10.9 0 0 0 336.5,692.9 L 336.5,705.8 A 23.8,10.9 0 0 1 289.0,705.8 Z" fill="#e4e4e4" opacity="0.35"/>
<path d="M 289.0,674.8 A 23.8,10.9 0 0 0 336.5,674.8 L 336.5,678.0 A 23.8,10.9 0 0 1 289.0,678.0 Z" fill="#e4e4e4" opacity="0.2"/>
<path d="M 289.0,718.7 A 23.8,10.9 0 0 0 336.5,718.7 L 336.5,721.9 A 23.8,10.9 0 0 1 289.0,721.9 Z" fill="#e4e4e4" opacity="0.2"/>
<path d="M 289.0,741.9 A 23.8,10.9 0 0 0 336.5,741.9 L 336.5,745.1 A 23.8,10.9 0 0 1 289.0,745.1 Z" fill="#e4e4e4" opacity="0.2"/>
<ellipse cx="312.7" cy="649.6" rx="23.8" ry="9.8" fill="#9b9b9b"/>
<path d="M 658,771 L 760.3,613.6 L 835,571 Q 850,566 858,573 Q 863,578 862.8,586 L 862.8,591 L 775.7,620.4 L 686.2,760.7 Z" fill="#e9e9e9"/>
<path d="M 760.3,613.6 L 835,571 Q 850,566 858,573" fill="none" stroke="#d0d0d0" stroke-width="1.2"/>
<clipPath id="l4clip"><path d="M 0,300 L 600,300 L 848,411 L 310,556 L 0,432 Z"/></clipPath>
<path d="M 0,300 L 600,300 L 848,411 L 310,556 L 0,432 Z" fill="url(#l4top)"/>
<g clip-path="url(#l4clip)"><path d="M -50,300 L 560,300 L 520,365 Q 430,390 330,420 Q 200,445 150,445 Q 60,440 -50,420 Z" fill="#8ea3a6" filter="url(#blur20)"/>
<path d="M -50,300 L 360,300 L 360,400 Q 220,428 150,430 Q 60,428 -50,410 Z" fill="#3b697d" filter="url(#blur20)"/></g>
<path d="M 0,432 L 310,556 L 848,411 L 848,434 L 310,583.5 L 0,457 Z" fill="url(#l4face)"/>
<path d="M 0,300 L 200,300 L 200,372 Q 150,396 87,393 Q 40,390 0,377 Z" fill="url(#gelg)"/>
<path d="M 200,372 Q 150,396 87,393 Q 40,390 0,377" fill="none" stroke="#5ea7c8" stroke-width="3.5"/>
<path d="M 0,220 L 712,220 L 712,234 L 838,259 Q 843,262 841,268 L 350,380 Q 318,388 286,377 L 0,287.5 Z" fill="url(#l2top)"/>
<path d="M 0,287.5 L 286,377 Q 318,388 350,380 L 841,268 L 841,290 L 350,408 Q 314,417 280,405 L 0,312 Z" fill="url(#l2face)"/>
<clipPath id="cclip"><path d="M 0,98 Q 120,80 234,65 Q 290,68 348,83 L 550,118 L 665,143 L 781,168 L 853,181 Q 875,190 877,199 L 373,309 Q 306,323 274,313 L 0,230 Z"/></clipPath>
<path d="M 0,98 Q 120,80 234,65 Q 290,68 348,83 L 550,118 L 665,143 L 781,168 L 853,181 Q 875,190 877,199 L 373,309 Q 306,323 274,313 L 0,230 Z" fill="#f7f7f7"/>
<g clip-path="url(#cclip)">
<g filter="url(#blur3)"><path d="M -20.0,46.5 L -10.0,48.8 L 0.0,52.0 L 10.0,55.2 L 20.0,57.6 L 30.0,58.5 L 40.0,57.9 L 50.0,56.1 L 60.0,53.8 L 70.0,52.0 L 80.0,51.4 L 90.0,52.4 L 100.0,54.9 L 110.0,58.2 L 120.0,61.6 L 130.0,64.1 L 140.0,65.1 L 150.0,64.6 L 160.0,62.9 L 170.0,60.8 L 180.0,59.2 L 190.0,58.7 L 200.0,59.9 L 210.0,62.4 L 220.0,65.9 L 230.0,69.4 L 240.0,72.0 L 250.0,73.2 L 260.0,72.8 L 270.0,71.3 L 280.0,69.3 L 290.0,67.8 L 300.0,67.5 L 310.0,68.7 L 320.0,71.4 L 330.0,75.0 L 340.0,78.6 L 350.0,81.4 L 360.0,82.7 L 370.0,82.5 L 380.0,81.1 L 390.0,79.2 L 400.0,77.8 L 410.0,77.6 L 420.0,79.0 L 430.0,81.9 L 440.0,85.6 L 450.0,89.4 L 460.0,92.2 L 470.0,93.7 L 480.0,93.6 L 490.0,92.3 L 500.0,90.6 L 510.0,89.3 L 520.0,89.3 L 530.0,90.8 L 540.0,93.8 L 550.0,97.7 L 560.0,101.5 L 570.0,104.5 L 580.0,106.1 L 590.0,106.2 L 600.0,105.0 L 610.0,103.4 L 620.0,102.3 L 630.0,102.4 L 640.0,104.0 L 650.0,107.1 L 660.0,111.1 L 670.0,115.1 L 680.0,118.3 L 690.0,120.0 L 700.0,120.2 L 710.0,119.2 L 720.0,117.7 L 730.0,116.7 L 740.0,116.9 L 750.0,118.7 L 760.0,122.0 L 770.0,126.1 L 780.0,130.2 L 790.0,133.5 L 800.0,135.3 L 810.0,135.6 L 820.0,134.8 L 830.0,133.4 L 840.0,132.6 L 850.0,132.9 L 860.0,134.8 L 870.0,138.2 L 880.0,142.5 L 890.0,146.7 L 900.0,150.1" transform="translate(0,9)" fill="none" stroke="#e2e2e2" stroke-width="9"/><path d="M -20.0,79.5 L -10.0,81.4 L 0.0,81.7 L 10.0,80.6 L 20.0,78.5 L 30.0,76.3 L 40.0,74.8 L 50.0,74.7 L 60.0,76.1 L 70.0,78.9 L 80.0,82.3 L 90.0,85.4 L 100.0,87.5 L 110.0,88.0 L 120.0,87.0 L 130.0,85.0 L 140.0,82.9 L 150.0,81.5 L 160.0,81.5 L 170.0,83.1 L 180.0,86.1 L 190.0,89.6 L 200.0,92.8 L 210.0,95.0 L 220.0,95.6 L 230.0,94.8 L 240.0,93.0 L 250.0,91.0 L 260.0,89.7 L 270.0,89.9 L 280.0,91.6 L 290.0,94.7 L 300.0,98.3 L 310.0,101.7 L 320.0,104.0 L 330.0,104.8 L 340.0,104.0 L 350.0,102.3 L 360.0,100.5 L 370.0,99.4 L 380.0,99.7 L 390.0,101.5 L 400.0,104.7 L 410.0,108.5 L 420.0,112.0 L 430.0,114.4 L 440.0,115.3 L 450.0,114.8 L 460.0,113.2 L 470.0,111.5 L 480.0,110.5 L 490.0,110.9 L 500.0,112.9 L 510.0,116.2 L 520.0,120.2 L 530.0,123.8 L 540.0,126.4 L 550.0,127.4 L 560.0,126.9 L 570.0,125.5 L 580.0,123.9 L 590.0,123.1 L 600.0,123.6 L 610.0,125.7 L 620.0,129.2 L 630.0,133.2 L 640.0,137.0 L 650.0,139.7 L 660.0,140.9 L 670.0,140.5 L 680.0,139.2 L 690.0,137.8 L 700.0,137.1 L 710.0,137.8 L 720.0,140.0 L 730.0,143.6 L 740.0,147.8 L 750.0,151.7 L 760.0,154.5 L 770.0,155.8 L 780.0,155.6 L 790.0,154.4 L 800.0,153.1 L 810.0,152.5 L 820.0,153.3 L 830.0,155.7 L 840.0,159.5 L 850.0,163.8 L 860.0,167.8 L 870.0,170.8 L 880.0,172.2 L 890.0,172.1 L 900.0,171.1" transform="translate(0,9)" fill="none" stroke="#e2e2e2" stroke-width="9"/><path d="M -20.0,103.4 L -10.0,101.1 L 0.0,98.9 L 10.0,97.8 L 20.0,98.2 L 30.0,100.1 L 40.0,103.1 L 50.0,106.5 L 60.0,109.3 L 70.0,110.8 L 80.0,110.7 L 90.0,109.3 L 100.0,107.2 L 110.0,105.2 L 120.0,104.2 L 130.0,104.6 L 140.0,106.7 L 150.0,109.9 L 160.0,113.4 L 170.0,116.3 L 180.0,117.9 L 190.0,118.0 L 200.0,116.7 L 210.0,114.7 L 220.0,112.8 L 230.0,112.0 L 240.0,112.6 L 250.0,114.8 L 260.0,118.1 L 270.0,121.7 L 280.0,124.8 L 290.0,126.5 L 300.0,126.7 L 310.0,125.6 L 320.0,123.7 L 330.0,122.0 L 340.0,121.2 L 350.0,122.0 L 360.0,124.3 L 370.0,127.7 L 380.0,131.5 L 390.0,134.7 L 400.0,136.6 L 410.0,136.9 L 420.0,135.9 L 430.0,134.2 L 440.0,132.6 L 450.0,131.9 L 460.0,132.8 L 470.0,135.3 L 480.0,138.8 L 490.0,142.7 L 500.0,146.0 L 510.0,148.1 L 520.0,148.6 L 530.0,147.7 L 540.0,146.1 L 550.0,144.6 L 560.0,144.1 L 570.0,145.1 L 580.0,147.7 L 590.0,151.4 L 600.0,155.4 L 610.0,158.9 L 620.0,161.1 L 630.0,161.7 L 640.0,160.9 L 650.0,159.4 L 660.0,158.1 L 670.0,157.7 L 680.0,158.9 L 690.0,161.6 L 700.0,165.4 L 710.0,169.6 L 720.0,173.2 L 730.0,175.5 L 740.0,176.2 L 750.0,175.6 L 760.0,174.2 L 770.0,173.0 L 780.0,172.8 L 790.0,174.1 L 800.0,176.9 L 810.0,180.9 L 820.0,185.2 L 830.0,188.9 L 840.0,191.3 L 850.0,192.2 L 860.0,191.7 L 870.0,190.5 L 880.0,189.4 L 890.0,189.3 L 900.0,190.7" transform="translate(0,9)" fill="none" stroke="#e2e2e2" stroke-width="9"/><path d="M -20.0,121.1 L -10.0,121.9 L 0.0,124.2 L 10.0,127.4 L 20.0,130.7 L 30.0,133.1 L 40.0,134.1 L 50.0,133.5 L 60.0,131.7 L 70.0,129.4 L 80.0,127.6 L 90.0,127.0 L 100.0,128.0 L 110.0,130.5 L 120.0,133.8 L 130.0,137.2 L 140.0,139.7 L 150.0,140.8 L 160.0,140.4 L 170.0,138.7 L 180.0,136.6 L 190.0,134.9 L 200.0,134.5 L 210.0,135.6 L 220.0,138.2 L 230.0,141.6 L 240.0,145.1 L 250.0,147.8 L 260.0,149.0 L 270.0,148.7 L 280.0,147.2 L 290.0,145.2 L 300.0,143.7 L 310.0,143.3 L 320.0,144.6 L 330.0,147.3 L 340.0,150.9 L 350.0,154.5 L 360.0,157.3 L 370.0,158.7 L 380.0,158.5 L 390.0,157.1 L 400.0,155.2 L 410.0,153.8 L 420.0,153.6 L 430.0,155.0 L 440.0,157.9 L 450.0,161.6 L 460.0,165.3 L 470.0,168.3 L 480.0,169.8 L 490.0,169.7 L 500.0,168.5 L 510.0,166.8 L 520.0,165.5 L 530.0,165.4 L 540.0,166.9 L 550.0,169.9 L 560.0,173.8 L 570.0,177.6 L 580.0,180.7 L 590.0,182.3 L 600.0,182.4 L 610.0,181.3 L 620.0,179.7 L 630.0,178.6 L 640.0,178.6 L 650.0,180.3 L 660.0,183.4 L 670.0,187.4 L 680.0,191.4 L 690.0,194.6 L 700.0,196.4 L 710.0,196.6 L 720.0,195.6 L 730.0,194.1 L 740.0,193.1 L 750.0,193.3 L 760.0,195.1 L 770.0,198.3 L 780.0,202.4 L 790.0,206.6 L 800.0,209.9 L 810.0,211.8 L 820.0,212.2 L 830.0,211.3 L 840.0,210.0 L 850.0,209.1 L 860.0,209.4 L 870.0,211.3 L 880.0,214.7 L 890.0,219.0 L 900.0,223.3" transform="translate(0,9)" fill="none" stroke="#e2e2e2" stroke-width="9"/><path d="M -20.0,151.9 L -10.0,154.9 L 0.0,156.8 L 10.0,157.3 L 20.0,156.2 L 30.0,154.1 L 40.0,151.9 L 50.0,150.4 L 60.0,150.2 L 70.0,151.7 L 80.0,154.5 L 90.0,157.9 L 100.0,161.0 L 110.0,163.1 L 120.0,163.6 L 130.0,162.7 L 140.0,160.7 L 150.0,158.6 L 160.0,157.2 L 170.0,157.2 L 180.0,158.8 L 190.0,161.7 L 200.0,165.3 L 210.0,168.5 L 220.0,170.7 L 230.0,171.4 L 240.0,170.6 L 250.0,168.8 L 260.0,166.8 L 270.0,165.6 L 280.0,165.7 L 290.0,167.4 L 300.0,170.5 L 310.0,174.1 L 320.0,177.5 L 330.0,179.9 L 340.0,180.7 L 350.0,180.0 L 360.0,178.3 L 370.0,176.5 L 380.0,175.4 L 390.0,175.6 L 400.0,177.5 L 410.0,180.7 L 420.0,184.5 L 430.0,188.0 L 440.0,190.5 L 450.0,191.4 L 460.0,190.8 L 470.0,189.3 L 480.0,187.6 L 490.0,186.6 L 500.0,187.0 L 510.0,189.0 L 520.0,192.3 L 530.0,196.2 L 540.0,199.9 L 550.0,202.5 L 560.0,203.6 L 570.0,203.1 L 580.0,201.7 L 590.0,200.2 L 600.0,199.3 L 610.0,199.8 L 620.0,201.9 L 630.0,205.4 L 640.0,209.4 L 650.0,213.2 L 660.0,216.0 L 670.0,217.2 L 680.0,216.9 L 690.0,215.6 L 700.0,214.2 L 710.0,213.5 L 720.0,214.1 L 730.0,216.4 L 740.0,219.9 L 750.0,224.1 L 760.0,228.0 L 770.0,230.9 L 780.0,232.3 L 790.0,232.1 L 800.0,231.0 L 810.0,229.6 L 820.0,229.1 L 830.0,229.8 L 840.0,232.2 L 850.0,235.9 L 860.0,240.2 L 870.0,244.3 L 880.0,247.3 L 890.0,248.8 L 900.0,248.8" transform="translate(0,9)" fill="none" stroke="#e2e2e2" stroke-width="9"/><path d="M -20.0,180.4 L -10.0,178.9 L 0.0,176.6 L 10.0,174.5 L 20.0,173.3 L 30.0,173.7 L 40.0,175.6 L 50.0,178.6 L 60.0,182.0 L 70.0,184.8 L 80.0,186.4 L 90.0,186.4 L 100.0,185.0 L 110.0,182.9 L 120.0,180.9 L 130.0,179.8 L 140.0,180.3 L 150.0,182.3 L 160.0,185.5 L 170.0,189.0 L 180.0,192.0 L 190.0,193.7 L 200.0,193.8 L 210.0,192.5 L 220.0,190.5 L 230.0,188.7 L 240.0,187.8 L 250.0,188.4 L 260.0,190.5 L 270.0,193.8 L 280.0,197.5 L 290.0,200.6 L 300.0,202.4 L 310.0,202.6 L 320.0,201.5 L 330.0,199.7 L 340.0,197.9 L 350.0,197.2 L 360.0,197.9 L 370.0,200.2 L 380.0,203.6 L 390.0,207.4 L 400.0,210.6 L 410.0,212.6 L 420.0,213.0 L 430.0,212.0 L 440.0,210.2 L 450.0,208.6 L 460.0,208.0 L 470.0,208.9 L 480.0,211.3 L 490.0,214.9 L 500.0,218.8 L 510.0,222.1 L 520.0,224.2 L 530.0,224.7 L 540.0,223.9 L 550.0,222.3 L 560.0,220.8 L 570.0,220.3 L 580.0,221.3 L 590.0,223.9 L 600.0,227.6 L 610.0,231.6 L 620.0,235.1 L 630.0,237.3 L 640.0,238.0 L 650.0,237.2 L 660.0,235.8 L 670.0,234.4 L 680.0,234.1 L 690.0,235.2 L 700.0,237.9 L 710.0,241.7 L 720.0,245.9 L 730.0,249.5 L 740.0,251.8 L 750.0,252.6 L 760.0,252.0 L 770.0,250.7 L 780.0,249.5 L 790.0,249.3 L 800.0,250.5 L 810.0,253.3 L 820.0,257.3 L 830.0,261.6 L 840.0,265.4 L 850.0,267.8 L 860.0,268.8 L 870.0,268.3 L 880.0,267.1 L 890.0,266.0 L 900.0,265.9" transform="translate(0,9)" fill="none" stroke="#e2e2e2" stroke-width="9"/><path d="M -20.0,197.3 L -10.0,196.6 L 0.0,197.4 L 10.0,199.7 L 20.0,202.9 L 30.0,206.2 L 40.0,208.6 L 50.0,209.6 L 60.0,209.1 L 70.0,207.3 L 80.0,205.1 L 90.0,203.3 L 100.0,202.7 L 110.0,203.6 L 120.0,206.1 L 130.0,209.4 L 140.0,212.8 L 150.0,215.3 L 160.0,216.5 L 170.0,216.1 L 180.0,214.5 L 190.0,212.4 L 200.0,210.7 L 210.0,210.2 L 220.0,211.3 L 230.0,213.9 L 240.0,217.3 L 250.0,220.9 L 260.0,223.6 L 270.0,224.8 L 280.0,224.6 L 290.0,223.1 L 300.0,221.1 L 310.0,219.6 L 320.0,219.2 L 330.0,220.4 L 340.0,223.1 L 350.0,226.7 L 360.0,230.4 L 370.0,233.2 L 380.0,234.6 L 390.0,234.5 L 400.0,233.1 L 410.0,231.3 L 420.0,229.9 L 430.0,229.7 L 440.0,231.0 L 450.0,233.8 L 460.0,237.6 L 470.0,241.4 L 480.0,244.3 L 490.0,245.9 L 500.0,245.9 L 510.0,244.6 L 520.0,242.9 L 530.0,241.7 L 540.0,241.6 L 550.0,243.1 L 560.0,246.0 L 570.0,249.9 L 580.0,253.8 L 590.0,256.9 L 600.0,258.6 L 610.0,258.7 L 620.0,257.6 L 630.0,256.0 L 640.0,254.9 L 650.0,254.9 L 660.0,256.5 L 670.0,259.6 L 680.0,263.6 L 690.0,267.7 L 700.0,270.9 L 710.0,272.7 L 720.0,273.0 L 730.0,272.0 L 740.0,270.6 L 750.0,269.6 L 760.0,269.7 L 770.0,271.5 L 780.0,274.7 L 790.0,278.8 L 800.0,283.0 L 810.0,286.4 L 820.0,288.3 L 830.0,288.7 L 840.0,287.9 L 850.0,286.6 L 860.0,285.7 L 870.0,286.0 L 880.0,287.9 L 890.0,291.2 L 900.0,295.5" transform="translate(0,9)" fill="none" stroke="#e2e2e2" stroke-width="9"/><path d="M -20.0,224.0 L -10.0,227.3 L 0.0,230.3 L 10.0,232.3 L 20.0,232.8 L 30.0,231.8 L 40.0,229.7 L 50.0,227.5 L 60.0,226.0 L 70.0,225.8 L 80.0,227.2 L 90.0,230.0 L 100.0,233.4 L 110.0,236.6 L 120.0,238.7 L 130.0,239.3 L 140.0,238.4 L 150.0,236.5 L 160.0,234.4 L 170.0,233.0 L 180.0,232.9 L 190.0,234.5 L 200.0,237.4 L 210.0,241.0 L 220.0,244.3 L 230.0,246.5 L 240.0,247.2 L 250.0,246.4 L 260.0,244.7 L 270.0,242.7 L 280.0,241.4 L 290.0,241.5 L 300.0,243.2 L 310.0,246.3 L 320.0,250.0 L 330.0,253.4 L 340.0,255.8 L 350.0,256.6 L 360.0,256.0 L 370.0,254.3 L 380.0,252.5 L 390.0,251.4 L 400.0,251.6 L 410.0,253.4 L 420.0,256.6 L 430.0,260.4 L 440.0,264.0 L 450.0,266.5 L 460.0,267.5 L 470.0,267.0 L 480.0,265.4 L 490.0,263.7 L 500.0,262.7 L 510.0,263.1 L 520.0,265.1 L 530.0,268.4 L 540.0,272.3 L 550.0,276.0 L 560.0,278.6 L 570.0,279.8 L 580.0,279.4 L 590.0,278.0 L 600.0,276.4 L 610.0,275.6 L 620.0,276.1 L 630.0,278.2 L 640.0,281.6 L 650.0,285.7 L 660.0,289.5 L 670.0,292.3 L 680.0,293.5 L 690.0,293.3 L 700.0,292.0 L 710.0,290.6 L 720.0,289.8 L 730.0,290.5 L 740.0,292.7 L 750.0,296.3 L 760.0,300.5 L 770.0,304.4 L 780.0,307.3 L 790.0,308.7 L 800.0,308.6 L 810.0,307.5 L 820.0,306.2 L 830.0,305.6 L 840.0,306.3 L 850.0,308.7 L 860.0,312.4 L 870.0,316.7 L 880.0,320.8 L 890.0,323.9 L 900.0,325.4" transform="translate(0,9)" fill="none" stroke="#e2e2e2" stroke-width="9"/><path d="M -20.0,256.0 L -10.0,255.9 L 0.0,254.4 L 10.0,252.2 L 20.0,250.1 L 30.0,248.9 L 40.0,249.2 L 50.0,251.1 L 60.0,254.1 L 70.0,257.5 L 80.0,260.4 L 90.0,262.0 L 100.0,262.0 L 110.0,260.7 L 120.0,258.5 L 130.0,256.6 L 140.0,255.5 L 150.0,256.0 L 160.0,258.0 L 170.0,261.1 L 180.0,264.7 L 190.0,267.6 L 200.0,269.4 L 210.0,269.6 L 220.0,268.3 L 230.0,266.4 L 240.0,264.5 L 250.0,263.6 L 260.0,264.2 L 270.0,266.3 L 280.0,269.6 L 290.0,273.3 L 300.0,276.4 L 310.0,278.3 L 320.0,278.6 L 330.0,277.5 L 340.0,275.6 L 350.0,273.9 L 360.0,273.1 L 370.0,273.8 L 380.0,276.1 L 390.0,279.5 L 400.0,283.3 L 410.0,286.6 L 420.0,288.6 L 430.0,289.0 L 440.0,288.0 L 450.0,286.3 L 460.0,284.7 L 470.0,284.1 L 480.0,284.9 L 490.0,287.3 L 500.0,290.9 L 510.0,294.8 L 520.0,298.2 L 530.0,300.3 L 540.0,300.9 L 550.0,300.1 L 560.0,298.5 L 570.0,297.0 L 580.0,296.5 L 590.0,297.5 L 600.0,300.0 L 610.0,303.7 L 620.0,307.8 L 630.0,311.3 L 640.0,313.6 L 650.0,314.3 L 660.0,313.6 L 670.0,312.1 L 680.0,310.8 L 690.0,310.4 L 700.0,311.5 L 710.0,314.2 L 720.0,318.0 L 730.0,322.2 L 740.0,325.8 L 750.0,328.2 L 760.0,329.1 L 770.0,328.5 L 780.0,327.2 L 790.0,326.0 L 800.0,325.7 L 810.0,327.0 L 820.0,329.8 L 830.0,333.7 L 840.0,338.0 L 850.0,341.8 L 860.0,344.4 L 870.0,345.3 L 880.0,344.9 L 890.0,343.7 L 900.0,342.6" transform="translate(0,9)" fill="none" stroke="#e2e2e2" stroke-width="9"/><path d="M -20.0,274.8 L -10.0,272.8 L 0.0,272.1 L 10.0,272.9 L 20.0,275.2 L 30.0,278.4 L 40.0,281.6 L 50.0,284.1 L 60.0,285.2 L 70.0,284.7 L 80.0,283.0 L 90.0,280.8 L 100.0,278.9 L 110.0,278.3 L 120.0,279.2 L 130.0,281.7 L 140.0,285.0 L 150.0,288.4 L 160.0,291.0 L 170.0,292.2 L 180.0,291.8 L 190.0,290.2 L 200.0,288.2 L 210.0,286.5 L 220.0,286.0 L 230.0,287.1 L 240.0,289.6 L 250.0,293.1 L 260.0,296.6 L 270.0,299.3 L 280.0,300.7 L 290.0,300.4 L 300.0,299.0 L 310.0,297.0 L 320.0,295.5 L 330.0,295.1 L 340.0,296.3 L 350.0,299.0 L 360.0,302.6 L 370.0,306.3 L 380.0,309.1 L 390.0,310.6 L 400.0,310.5 L 410.0,309.2 L 420.0,307.3 L 430.0,305.9 L 440.0,305.7 L 450.0,307.0 L 460.0,309.8 L 470.0,313.6 L 480.0,317.4 L 490.0,320.4 L 500.0,322.0 L 510.0,322.0 L 520.0,320.8 L 530.0,319.1 L 540.0,317.8 L 550.0,317.7 L 560.0,319.2 L 570.0,322.1 L 580.0,326.0 L 590.0,329.9 L 600.0,333.1 L 610.0,334.8 L 620.0,335.0 L 630.0,333.9 L 640.0,332.3 L 650.0,331.2 L 660.0,331.2 L 670.0,332.8 L 680.0,335.9 L 690.0,339.9 L 700.0,344.0 L 710.0,347.2 L 720.0,349.1 L 730.0,349.4 L 740.0,348.4 L 750.0,347.0 L 760.0,346.0 L 770.0,346.2 L 780.0,347.9 L 790.0,351.1 L 800.0,355.2 L 810.0,359.4 L 820.0,362.8 L 830.0,364.8 L 840.0,365.2 L 850.0,364.4 L 860.0,363.1 L 870.0,362.3 L 880.0,362.5 L 890.0,364.4 L 900.0,367.7" transform="translate(0,9)" fill="none" stroke="#e2e2e2" stroke-width="9"/><path d="M -20.0,296.8 L -10.0,299.5 L 0.0,302.7 L 10.0,305.8 L 20.0,307.8 L 30.0,308.3 L 40.0,307.3 L 50.0,305.3 L 60.0,303.1 L 70.0,301.6 L 80.0,301.4 L 90.0,302.8 L 100.0,305.6 L 110.0,309.0 L 120.0,312.2 L 130.0,314.3 L 140.0,315.0 L 150.0,314.1 L 160.0,312.2 L 170.0,310.1 L 180.0,308.7 L 190.0,308.7 L 200.0,310.2 L 210.0,313.1 L 220.0,316.7 L 230.0,320.0 L 240.0,322.3 L 250.0,323.0 L 260.0,322.3 L 270.0,320.5 L 280.0,318.6 L 290.0,317.3 L 300.0,317.4 L 310.0,319.1 L 320.0,322.1 L 330.0,325.8 L 340.0,329.2 L 350.0,331.7 L 360.0,332.6 L 370.0,332.0 L 380.0,330.3 L 390.0,328.5 L 400.0,327.4 L 410.0,327.6 L 420.0,329.4 L 430.0,332.6 L 440.0,336.4 L 450.0,340.0 L 460.0,342.5 L 470.0,343.5 L 480.0,343.1 L 490.0,341.6 L 500.0,339.9 L 510.0,338.9 L 520.0,339.2 L 530.0,341.2 L 540.0,344.5 L 550.0,348.4 L 560.0,352.1 L 570.0,354.8 L 580.0,356.0 L 590.0,355.6 L 600.0,354.3 L 610.0,352.7 L 620.0,351.8 L 630.0,352.3 L 640.0,354.4 L 650.0,357.8 L 660.0,361.9 L 670.0,365.7 L 680.0,368.6 L 690.0,369.9 L 700.0,369.6 L 710.0,368.4 L 720.0,367.0 L 730.0,366.2 L 740.0,366.9 L 750.0,369.1 L 760.0,372.6 L 770.0,376.8 L 780.0,380.8 L 790.0,383.8 L 800.0,385.2 L 810.0,385.1 L 820.0,384.0 L 830.0,382.7 L 840.0,382.1 L 850.0,382.9 L 860.0,385.2 L 870.0,388.9 L 880.0,393.2 L 890.0,397.3 L 900.0,400.4" transform="translate(0,9)" fill="none" stroke="#e2e2e2" stroke-width="9"/><path d="M -20.0,330.0 L -10.0,331.5 L 0.0,331.4 L 10.0,330.0 L 20.0,327.8 L 30.0,325.6 L 40.0,324.4 L 50.0,324.7 L 60.0,326.6 L 70.0,329.6 L 80.0,333.0 L 90.0,335.9 L 100.0,337.6 L 110.0,337.7 L 120.0,336.3 L 130.0,334.3 L 140.0,332.3 L 150.0,331.2 L 160.0,331.6 L 170.0,333.6 L 180.0,336.8 L 190.0,340.3 L 200.0,343.3 L 210.0,345.1 L 220.0,345.3 L 230.0,344.2 L 240.0,342.2 L 250.0,340.3 L 260.0,339.4 L 270.0,340.0 L 280.0,342.1 L 290.0,345.4 L 300.0,349.1 L 310.0,352.2 L 320.0,354.1 L 330.0,354.5 L 340.0,353.4 L 350.0,351.6 L 360.0,349.9 L 370.0,349.1 L 380.0,349.8 L 390.0,352.0 L 400.0,355.4 L 410.0,359.2 L 420.0,362.5 L 430.0,364.6 L 440.0,365.1 L 450.0,364.1 L 460.0,362.4 L 470.0,360.8 L 480.0,360.2 L 490.0,361.0 L 500.0,363.4 L 510.0,366.9 L 520.0,370.9 L 530.0,374.3 L 540.0,376.5 L 550.0,377.1 L 560.0,376.3 L 570.0,374.7 L 580.0,373.3 L 590.0,372.7 L 600.0,373.7 L 610.0,376.2 L 620.0,379.9 L 630.0,384.0 L 640.0,387.5 L 650.0,389.8 L 660.0,390.6 L 670.0,389.9 L 680.0,388.5 L 690.0,387.2 L 700.0,386.8 L 710.0,387.8 L 720.0,390.5 L 730.0,394.3 L 740.0,398.5 L 750.0,402.2 L 760.0,404.6 L 770.0,405.5 L 780.0,405.0 L 790.0,403.7 L 800.0,402.5 L 810.0,402.2 L 820.0,403.4 L 830.0,406.2 L 840.0,410.2 L 850.0,414.5 L 860.0,418.3 L 870.0,420.9 L 880.0,421.9 L 890.0,421.5 L 900.0,420.3" transform="translate(0,9)" fill="none" stroke="#e2e2e2" stroke-width="9"/><path d="M -20.0,352.7 L -10.0,350.3 L 0.0,348.4 L 10.0,347.6 L 20.0,348.4 L 30.0,350.7 L 40.0,353.9 L 50.0,357.1 L 60.0,359.7 L 70.0,360.8 L 80.0,360.3 L 90.0,358.6 L 100.0,356.4 L 110.0,354.6 L 120.0,354.0 L 130.0,354.9 L 140.0,357.3 L 150.0,360.6 L 160.0,364.0 L 170.0,366.7 L 180.0,367.9 L 190.0,367.6 L 200.0,366.0 L 210.0,364.0 L 220.0,362.3 L 230.0,361.8 L 240.0,362.8 L 250.0,365.3 L 260.0,368.8 L 270.0,372.4 L 280.0,375.1 L 290.0,376.5 L 300.0,376.3 L 310.0,374.9 L 320.0,373.0 L 330.0,371.4 L 340.0,371.0 L 350.0,372.2 L 360.0,374.9 L 370.0,378.5 L 380.0,382.2 L 390.0,385.1 L 400.0,386.6 L 410.0,386.5 L 420.0,385.2 L 430.0,383.4 L 440.0,382.0 L 450.0,381.7 L 460.0,383.1 L 470.0,385.9 L 480.0,389.6 L 490.0,393.4 L 500.0,396.4 L 510.0,398.1 L 520.0,398.2 L 530.0,397.0 L 540.0,395.3 L 550.0,394.0 L 560.0,393.9 L 570.0,395.4 L 580.0,398.3 L 590.0,402.1 L 600.0,406.1 L 610.0,409.3 L 620.0,411.0 L 630.0,411.2 L 640.0,410.2 L 650.0,408.7 L 660.0,407.5 L 670.0,407.5 L 680.0,409.1 L 690.0,412.2 L 700.0,416.2 L 710.0,420.2 L 720.0,423.5 L 730.0,425.5 L 740.0,425.8 L 750.0,424.9 L 760.0,423.5 L 770.0,422.5 L 780.0,422.6 L 790.0,424.3 L 800.0,427.5 L 810.0,431.6 L 820.0,435.8 L 830.0,439.3 L 840.0,441.3 L 850.0,441.8 L 860.0,441.0 L 870.0,439.7 L 880.0,438.8 L 890.0,439.1 L 900.0,441.0" transform="translate(0,9)" fill="none" stroke="#e2e2e2" stroke-width="9"/></g>
<path d="M -20.0,46.5 L -10.0,48.8 L 0.0,52.0 L 10.0,55.2 L 20.0,57.6 L 30.0,58.5 L 40.0,57.9 L 50.0,56.1 L 60.0,53.8 L 70.0,52.0 L 80.0,51.4 L 90.0,52.4 L 100.0,54.9 L 110.0,58.2 L 120.0,61.6 L 130.0,64.1 L 140.0,65.1 L 150.0,64.6 L 160.0,62.9 L 170.0,60.8 L 180.0,59.2 L 190.0,58.7 L 200.0,59.9 L 210.0,62.4 L 220.0,65.9 L 230.0,69.4 L 240.0,72.0 L 250.0,73.2 L 260.0,72.8 L 270.0,71.3 L 280.0,69.3 L 290.0,67.8 L 300.0,67.5 L 310.0,68.7 L 320.0,71.4 L 330.0,75.0 L 340.0,78.6 L 350.0,81.4 L 360.0,82.7 L 370.0,82.5 L 380.0,81.1 L 390.0,79.2 L 400.0,77.8 L 410.0,77.6 L 420.0,79.0 L 430.0,81.9 L 440.0,85.6 L 450.0,89.4 L 460.0,92.2 L 470.0,93.7 L 480.0,93.6 L 490.0,92.3 L 500.0,90.6 L 510.0,89.3 L 520.0,89.3 L 530.0,90.8 L 540.0,93.8 L 550.0,97.7 L 560.0,101.5 L 570.0,104.5 L 580.0,106.1 L 590.0,106.2 L 600.0,105.0 L 610.0,103.4 L 620.0,102.3 L 630.0,102.4 L 640.0,104.0 L 650.0,107.1 L 660.0,111.1 L 670.0,115.1 L 680.0,118.3 L 690.0,120.0 L 700.0,120.2 L 710.0,119.2 L 720.0,117.7 L 730.0,116.7 L 740.0,116.9 L 750.0,118.7 L 760.0,122.0 L 770.0,126.1 L 780.0,130.2 L 790.0,133.5 L 800.0,135.3 L 810.0,135.6 L 820.0,134.8 L 830.0,133.4 L 840.0,132.6 L 850.0,132.9 L 860.0,134.8 L 870.0,138.2 L 880.0,142.5 L 890.0,146.7 L 900.0,150.1" fill="none" stroke="#9c9c9c" stroke-width="1"/><path d="M -20.0,46.5 L -10.0,48.8 L 0.0,52.0 L 10.0,55.2 L 20.0,57.6 L 30.0,58.5 L 40.0,57.9 L 50.0,56.1 L 60.0,53.8 L 70.0,52.0 L 80.0,51.4 L 90.0,52.4 L 100.0,54.9 L 110.0,58.2 L 120.0,61.6 L 130.0,64.1 L 140.0,65.1 L 150.0,64.6 L 160.0,62.9 L 170.0,60.8 L 180.0,59.2 L 190.0,58.7 L 200.0,59.9 L 210.0,62.4 L 220.0,65.9 L 230.0,69.4 L 240.0,72.0 L 250.0,73.2 L 260.0,72.8 L 270.0,71.3 L 280.0,69.3 L 290.0,67.8 L 300.0,67.5 L 310.0,68.7 L 320.0,71.4 L 330.0,75.0 L 340.0,78.6 L 350.0,81.4 L 360.0,82.7 L 370.0,82.5 L 380.0,81.1 L 390.0,79.2 L 400.0,77.8 L 410.0,77.6 L 420.0,79.0 L 430.0,81.9 L 440.0,85.6 L 450.0,89.4 L 460.0,92.2 L 470.0,93.7 L 480.0,93.6 L 490.0,92.3 L 500.0,90.6 L 510.0,89.3 L 520.0,89.3 L 530.0,90.8 L 540.0,93.8 L 550.0,97.7 L 560.0,101.5 L 570.0,104.5 L 580.0,106.1 L 590.0,106.2 L 600.0,105.0 L 610.0,103.4 L 620.0,102.3 L 630.0,102.4 L 640.0,104.0 L 650.0,107.1 L 660.0,111.1 L 670.0,115.1 L 680.0,118.3 L 690.0,120.0 L 700.0,120.2 L 710.0,119.2 L 720.0,117.7 L 730.0,116.7 L 740.0,116.9 L 750.0,118.7 L 760.0,122.0 L 770.0,126.1 L 780.0,130.2 L 790.0,133.5 L 800.0,135.3 L 810.0,135.6 L 820.0,134.8 L 830.0,133.4 L 840.0,132.6 L 850.0,132.9 L 860.0,134.8 L 870.0,138.2 L 880.0,142.5 L 890.0,146.7 L 900.0,150.1" transform="translate(0,4)" fill="none" stroke="#c4c4c4" stroke-width="0.8"/><path d="M -20.0,79.5 L -10.0,81.4 L 0.0,81.7 L 10.0,80.6 L 20.0,78.5 L 30.0,76.3 L 40.0,74.8 L 50.0,74.7 L 60.0,76.1 L 70.0,78.9 L 80.0,82.3 L 90.0,85.4 L 100.0,87.5 L 110.0,88.0 L 120.0,87.0 L 130.0,85.0 L 140.0,82.9 L 150.0,81.5 L 160.0,81.5 L 170.0,83.1 L 180.0,86.1 L 190.0,89.6 L 200.0,92.8 L 210.0,95.0 L 220.0,95.6 L 230.0,94.8 L 240.0,93.0 L 250.0,91.0 L 260.0,89.7 L 270.0,89.9 L 280.0,91.6 L 290.0,94.7 L 300.0,98.3 L 310.0,101.7 L 320.0,104.0 L 330.0,104.8 L 340.0,104.0 L 350.0,102.3 L 360.0,100.5 L 370.0,99.4 L 380.0,99.7 L 390.0,101.5 L 400.0,104.7 L 410.0,108.5 L 420.0,112.0 L 430.0,114.4 L 440.0,115.3 L 450.0,114.8 L 460.0,113.2 L 470.0,111.5 L 480.0,110.5 L 490.0,110.9 L 500.0,112.9 L 510.0,116.2 L 520.0,120.2 L 530.0,123.8 L 540.0,126.4 L 550.0,127.4 L 560.0,126.9 L 570.0,125.5 L 580.0,123.9 L 590.0,123.1 L 600.0,123.6 L 610.0,125.7 L 620.0,129.2 L 630.0,133.2 L 640.0,137.0 L 650.0,139.7 L 660.0,140.9 L 670.0,140.5 L 680.0,139.2 L 690.0,137.8 L 700.0,137.1 L 710.0,137.8 L 720.0,140.0 L 730.0,143.6 L 740.0,147.8 L 750.0,151.7 L 760.0,154.5 L 770.0,155.8 L 780.0,155.6 L 790.0,154.4 L 800.0,153.1 L 810.0,152.5 L 820.0,153.3 L 830.0,155.7 L 840.0,159.5 L 850.0,163.8 L 860.0,167.8 L 870.0,170.8 L 880.0,172.2 L 890.0,172.1 L 900.0,171.1" fill="none" stroke="#9c9c9c" stroke-width="1"/><path d="M -20.0,79.5 L -10.0,81.4 L 0.0,81.7 L 10.0,80.6 L 20.0,78.5 L 30.0,76.3 L 40.0,74.8 L 50.0,74.7 L 60.0,76.1 L 70.0,78.9 L 80.0,82.3 L 90.0,85.4 L 100.0,87.5 L 110.0,88.0 L 120.0,87.0 L 130.0,85.0 L 140.0,82.9 L 150.0,81.5 L 160.0,81.5 L 170.0,83.1 L 180.0,86.1 L 190.0,89.6 L 200.0,92.8 L 210.0,95.0 L 220.0,95.6 L 230.0,94.8 L 240.0,93.0 L 250.0,91.0 L 260.0,89.7 L 270.0,89.9 L 280.0,91.6 L 290.0,94.7 L 300.0,98.3 L 310.0,101.7 L 320.0,104.0 L 330.0,104.8 L 340.0,104.0 L 350.0,102.3 L 360.0,100.5 L 370.0,99.4 L 380.0,99.7 L 390.0,101.5 L 400.0,104.7 L 410.0,108.5 L 420.0,112.0 L 430.0,114.4 L 440.0,115.3 L 450.0,114.8 L 460.0,113.2 L 470.0,111.5 L 480.0,110.5 L 490.0,110.9 L 500.0,112.9 L 510.0,116.2 L 520.0,120.2 L 530.0,123.8 L 540.0,126.4 L 550.0,127.4 L 560.0,126.9 L 570.0,125.5 L 580.0,123.9 L 590.0,123.1 L 600.0,123.6 L 610.0,125.7 L 620.0,129.2 L 630.0,133.2 L 640.0,137.0 L 650.0,139.7 L 660.0,140.9 L 670.0,140.5 L 680.0,139.2 L 690.0,137.8 L 700.0,137.1 L 710.0,137.8 L 720.0,140.0 L 730.0,143.6 L 740.0,147.8 L 750.0,151.7 L 760.0,154.5 L 770.0,155.8 L 780.0,155.6 L 790.0,154.4 L 800.0,153.1 L 810.0,152.5 L 820.0,153.3 L 830.0,155.7 L 840.0,159.5 L 850.0,163.8 L 860.0,167.8 L 870.0,170.8 L 880.0,172.2 L 890.0,172.1 L 900.0,171.1" transform="translate(0,4)" fill="none" stroke="#c4c4c4" stroke-width="0.8"/><path d="M -20.0,103.4 L -10.0,101.1 L 0.0,98.9 L 10.0,97.8 L 20.0,98.2 L 30.0,100.1 L 40.0,103.1 L 50.0,106.5 L 60.0,109.3 L 70.0,110.8 L 80.0,110.7 L 90.0,109.3 L 100.0,107.2 L 110.0,105.2 L 120.0,104.2 L 130.0,104.6 L 140.0,106.7 L 150.0,109.9 L 160.0,113.4 L 170.0,116.3 L 180.0,117.9 L 190.0,118.0 L 200.0,116.7 L 210.0,114.7 L 220.0,112.8 L 230.0,112.0 L 240.0,112.6 L 250.0,114.8 L 260.0,118.1 L 270.0,121.7 L 280.0,124.8 L 290.0,126.5 L 300.0,126.7 L 310.0,125.6 L 320.0,123.7 L 330.0,122.0 L 340.0,121.2 L 350.0,122.0 L 360.0,124.3 L 370.0,127.7 L 380.0,131.5 L 390.0,134.7 L 400.0,136.6 L 410.0,136.9 L 420.0,135.9 L 430.0,134.2 L 440.0,132.6 L 450.0,131.9 L 460.0,132.8 L 470.0,135.3 L 480.0,138.8 L 490.0,142.7 L 500.0,146.0 L 510.0,148.1 L 520.0,148.6 L 530.0,147.7 L 540.0,146.1 L 550.0,144.6 L 560.0,144.1 L 570.0,145.1 L 580.0,147.7 L 590.0,151.4 L 600.0,155.4 L 610.0,158.9 L 620.0,161.1 L 630.0,161.7 L 640.0,160.9 L 650.0,159.4 L 660.0,158.1 L 670.0,157.7 L 680.0,158.9 L 690.0,161.6 L 700.0,165.4 L 710.0,169.6 L 720.0,173.2 L 730.0,175.5 L 740.0,176.2 L 750.0,175.6 L 760.0,174.2 L 770.0,173.0 L 780.0,172.8 L 790.0,174.1 L 800.0,176.9 L 810.0,180.9 L 820.0,185.2 L 830.0,188.9 L 840.0,191.3 L 850.0,192.2 L 860.0,191.7 L 870.0,190.5 L 880.0,189.4 L 890.0,189.3 L 900.0,190.7" fill="none" stroke="#9c9c9c" stroke-width="1"/><path d="M -20.0,103.4 L -10.0,101.1 L 0.0,98.9 L 10.0,97.8 L 20.0,98.2 L 30.0,100.1 L 40.0,103.1 L 50.0,106.5 L 60.0,109.3 L 70.0,110.8 L 80.0,110.7 L 90.0,109.3 L 100.0,107.2 L 110.0,105.2 L 120.0,104.2 L 130.0,104.6 L 140.0,106.7 L 150.0,109.9 L 160.0,113.4 L 170.0,116.3 L 180.0,117.9 L 190.0,118.0 L 200.0,116.7 L 210.0,114.7 L 220.0,112.8 L 230.0,112.0 L 240.0,112.6 L 250.0,114.8 L 260.0,118.1 L 270.0,121.7 L 280.0,124.8 L 290.0,126.5 L 300.0,126.7 L 310.0,125.6 L 320.0,123.7 L 330.0,122.0 L 340.0,121.2 L 350.0,122.0 L 360.0,124.3 L 370.0,127.7 L 380.0,131.5 L 390.0,134.7 L 400.0,136.6 L 410.0,136.9 L 420.0,135.9 L 430.0,134.2 L 440.0,132.6 L 450.0,131.9 L 460.0,132.8 L 470.0,135.3 L 480.0,138.8 L 490.0,142.7 L 500.0,146.0 L 510.0,148.1 L 520.0,148.6 L 530.0,147.7 L 540.0,146.1 L 550.0,144.6 L 560.0,144.1 L 570.0,145.1 L 580.0,147.7 L 590.0,151.4 L 600.0,155.4 L 610.0,158.9 L 620.0,161.1 L 630.0,161.7 L 640.0,160.9 L 650.0,159.4 L 660.0,158.1 L 670.0,157.7 L 680.0,158.9 L 690.0,161.6 L 700.0,165.4 L 710.0,169.6 L 720.0,173.2 L 730.0,175.5 L 740.0,176.2 L 750.0,175.6 L 760.0,174.2 L 770.0,173.0 L 780.0,172.8 L 790.0,174.1 L 800.0,176.9 L 810.0,180.9 L 820.0,185.2 L 830.0,188.9 L 840.0,191.3 L 850.0,192.2 L 860.0,191.7 L 870.0,190.5 L 880.0,189.4 L 890.0,189.3 L 900.0,190.7" transform="translate(0,4)" fill="none" stroke="#c4c4c4" stroke-width="0.8"/><path d="M -20.0,121.1 L -10.0,121.9 L 0.0,124.2 L 10.0,127.4 L 20.0,130.7 L 30.0,133.1 L 40.0,134.1 L 50.0,133.5 L 60.0,131.7 L 70.0,129.4 L 80.0,127.6 L 90.0,127.0 L 100.0,128.0 L 110.0,130.5 L 120.0,133.8 L 130.0,137.2 L 140.0,139.7 L 150.0,140.8 L 160.0,140.4 L 170.0,138.7 L 180.0,136.6 L 190.0,134.9 L 200.0,134.5 L 210.0,135.6 L 220.0,138.2 L 230.0,141.6 L 240.0,145.1 L 250.0,147.8 L 260.0,149.0 L 270.0,148.7 L 280.0,147.2 L 290.0,145.2 L 300.0,143.7 L 310.0,143.3 L 320.0,144.6 L 330.0,147.3 L 340.0,150.9 L 350.0,154.5 L 360.0,157.3 L 370.0,158.7 L 380.0,158.5 L 390.0,157.1 L 400.0,155.2 L 410.0,153.8 L 420.0,153.6 L 430.0,155.0 L 440.0,157.9 L 450.0,161.6 L 460.0,165.3 L 470.0,168.3 L 480.0,169.8 L 490.0,169.7 L 500.0,168.5 L 510.0,166.8 L 520.0,165.5 L 530.0,165.4 L 540.0,166.9 L 550.0,169.9 L 560.0,173.8 L 570.0,177.6 L 580.0,180.7 L 590.0,182.3 L 600.0,182.4 L 610.0,181.3 L 620.0,179.7 L 630.0,178.6 L 640.0,178.6 L 650.0,180.3 L 660.0,183.4 L 670.0,187.4 L 680.0,191.4 L 690.0,194.6 L 700.0,196.4 L 710.0,196.6 L 720.0,195.6 L 730.0,194.1 L 740.0,193.1 L 750.0,193.3 L 760.0,195.1 L 770.0,198.3 L 780.0,202.4 L 790.0,206.6 L 800.0,209.9 L 810.0,211.8 L 820.0,212.2 L 830.0,211.3 L 840.0,210.0 L 850.0,209.1 L 860.0,209.4 L 870.0,211.3 L 880.0,214.7 L 890.0,219.0 L 900.0,223.3" fill="none" stroke="#9c9c9c" stroke-width="1"/><path d="M -20.0,121.1 L -10.0,121.9 L 0.0,124.2 L 10.0,127.4 L 20.0,130.7 L 30.0,133.1 L 40.0,134.1 L 50.0,133.5 L 60.0,131.7 L 70.0,129.4 L 80.0,127.6 L 90.0,127.0 L 100.0,128.0 L 110.0,130.5 L 120.0,133.8 L 130.0,137.2 L 140.0,139.7 L 150.0,140.8 L 160.0,140.4 L 170.0,138.7 L 180.0,136.6 L 190.0,134.9 L 200.0,134.5 L 210.0,135.6 L 220.0,138.2 L 230.0,141.6 L 240.0,145.1 L 250.0,147.8 L 260.0,149.0 L 270.0,148.7 L 280.0,147.2 L 290.0,145.2 L 300.0,143.7 L 310.0,143.3 L 320.0,144.6 L 330.0,147.3 L 340.0,150.9 L 350.0,154.5 L 360.0,157.3 L 370.0,158.7 L 380.0,158.5 L 390.0,157.1 L 400.0,155.2 L 410.0,153.8 L 420.0,153.6 L 430.0,155.0 L 440.0,157.9 L 450.0,161.6 L 460.0,165.3 L 470.0,168.3 L 480.0,169.8 L 490.0,169.7 L 500.0,168.5 L 510.0,166.8 L 520.0,165.5 L 530.0,165.4 L 540.0,166.9 L 550.0,169.9 L 560.0,173.8 L 570.0,177.6 L 580.0,180.7 L 590.0,182.3 L 600.0,182.4 L 610.0,181.3 L 620.0,179.7 L 630.0,178.6 L 640.0,178.6 L 650.0,180.3 L 660.0,183.4 L 670.0,187.4 L 680.0,191.4 L 690.0,194.6 L 700.0,196.4 L 710.0,196.6 L 720.0,195.6 L 730.0,194.1 L 740.0,193.1 L 750.0,193.3 L 760.0,195.1 L 770.0,198.3 L 780.0,202.4 L 790.0,206.6 L 800.0,209.9 L 810.0,211.8 L 820.0,212.2 L 830.0,211.3 L 840.0,210.0 L 850.0,209.1 L 860.0,209.4 L 870.0,211.3 L 880.0,214.7 L 890.0,219.0 L 900.0,223.3" transform="translate(0,4)" fill="none" stroke="#c4c4c4" stroke-width="0.8"/><path d="M -20.0,151.9 L -10.0,154.9 L 0.0,156.8 L 10.0,157.3 L 20.0,156.2 L 30.0,154.1 L 40.0,151.9 L 50.0,150.4 L 60.0,150.2 L 70.0,151.7 L 80.0,154.5 L 90.0,157.9 L 100.0,161.0 L 110.0,163.1 L 120.0,163.6 L 130.0,162.7 L 140.0,160.7 L 150.0,158.6 L 160.0,157.2 L 170.0,157.2 L 180.0,158.8 L 190.0,161.7 L 200.0,165.3 L 210.0,168.5 L 220.0,170.7 L 230.0,171.4 L 240.0,170.6 L 250.0,168.8 L 260.0,166.8 L 270.0,165.6 L 280.0,165.7 L 290.0,167.4 L 300.0,170.5 L 310.0,174.1 L 320.0,177.5 L 330.0,179.9 L 340.0,180.7 L 350.0,180.0 L 360.0,178.3 L 370.0,176.5 L 380.0,175.4 L 390.0,175.6 L 400.0,177.5 L 410.0,180.7 L 420.0,184.5 L 430.0,188.0 L 440.0,190.5 L 450.0,191.4 L 460.0,190.8 L 470.0,189.3 L 480.0,187.6 L 490.0,186.6 L 500.0,187.0 L 510.0,189.0 L 520.0,192.3 L 530.0,196.2 L 540.0,199.9 L 550.0,202.5 L 560.0,203.6 L 570.0,203.1 L 580.0,201.7 L 590.0,200.2 L 600.0,199.3 L 610.0,199.8 L 620.0,201.9 L 630.0,205.4 L 640.0,209.4 L 650.0,213.2 L 660.0,216.0 L 670.0,217.2 L 680.0,216.9 L 690.0,215.6 L 700.0,214.2 L 710.0,213.5 L 720.0,214.1 L 730.0,216.4 L 740.0,219.9 L 750.0,224.1 L 760.0,228.0 L 770.0,230.9 L 780.0,232.3 L 790.0,232.1 L 800.0,231.0 L 810.0,229.6 L 820.0,229.1 L 830.0,229.8 L 840.0,232.2 L 850.0,235.9 L 860.0,240.2 L 870.0,244.3 L 880.0,247.3 L 890.0,248.8 L 900.0,248.8" fill="none" stroke="#9c9c9c" stroke-width="1"/><path d="M -20.0,151.9 L -10.0,154.9 L 0.0,156.8 L 10.0,157.3 L 20.0,156.2 L 30.0,154.1 L 40.0,151.9 L 50.0,150.4 L 60.0,150.2 L 70.0,151.7 L 80.0,154.5 L 90.0,157.9 L 100.0,161.0 L 110.0,163.1 L 120.0,163.6 L 130.0,162.7 L 140.0,160.7 L 150.0,158.6 L 160.0,157.2 L 170.0,157.2 L 180.0,158.8 L 190.0,161.7 L 200.0,165.3 L 210.0,168.5 L 220.0,170.7 L 230.0,171.4 L 240.0,170.6 L 250.0,168.8 L 260.0,166.8 L 270.0,165.6 L 280.0,165.7 L 290.0,167.4 L 300.0,170.5 L 310.0,174.1 L 320.0,177.5 L 330.0,179.9 L 340.0,180.7 L 350.0,180.0 L 360.0,178.3 L 370.0,176.5 L 380.0,175.4 L 390.0,175.6 L 400.0,177.5 L 410.0,180.7 L 420.0,184.5 L 430.0,188.0 L 440.0,190.5 L 450.0,191.4 L 460.0,190.8 L 470.0,189.3 L 480.0,187.6 L 490.0,186.6 L 500.0,187.0 L 510.0,189.0 L 520.0,192.3 L 530.0,196.2 L 540.0,199.9 L 550.0,202.5 L 560.0,203.6 L 570.0,203.1 L 580.0,201.7 L 590.0,200.2 L 600.0,199.3 L 610.0,199.8 L 620.0,201.9 L 630.0,205.4 L 640.0,209.4 L 650.0,213.2 L 660.0,216.0 L 670.0,217.2 L 680.0,216.9 L 690.0,215.6 L 700.0,214.2 L 710.0,213.5 L 720.0,214.1 L 730.0,216.4 L 740.0,219.9 L 750.0,224.1 L 760.0,228.0 L 770.0,230.9 L 780.0,232.3 L 790.0,232.1 L 800.0,231.0 L 810.0,229.6 L 820.0,229.1 L 830.0,229.8 L 840.0,232.2 L 850.0,235.9 L 860.0,240.2 L 870.0,244.3 L 880.0,247.3 L 890.0,248.8 L 900.0,248.8" transform="translate(0,4)" fill="none" stroke="#c4c4c4" stroke-width="0.8"/><path d="M -20.0,180.4 L -10.0,178.9 L 0.0,176.6 L 10.0,174.5 L 20.0,173.3 L 30.0,173.7 L 40.0,175.6 L 50.0,178.6 L 60.0,182.0 L 70.0,184.8 L 80.0,186.4 L 90.0,186.4 L 100.0,185.0 L 110.0,182.9 L 120.0,180.9 L 130.0,179.8 L 140.0,180.3 L 150.0,182.3 L 160.0,185.5 L 170.0,189.0 L 180.0,192.0 L 190.0,193.7 L 200.0,193.8 L 210.0,192.5 L 220.0,190.5 L 230.0,188.7 L 240.0,187.8 L 250.0,188.4 L 260.0,190.5 L 270.0,193.8 L 280.0,197.5 L 290.0,200.6 L 300.0,202.4 L 310.0,202.6 L 320.0,201.5 L 330.0,199.7 L 340.0,197.9 L 350.0,197.2 L 360.0,197.9 L 370.0,200.2 L 380.0,203.6 L 390.0,207.4 L 400.0,210.6 L 410.0,212.6 L 420.0,213.0 L 430.0,212.0 L 440.0,210.2 L 450.0,208.6 L 460.0,208.0 L 470.0,208.9 L 480.0,211.3 L 490.0,214.9 L 500.0,218.8 L 510.0,222.1 L 520.0,224.2 L 530.0,224.7 L 540.0,223.9 L 550.0,222.3 L 560.0,220.8 L 570.0,220.3 L 580.0,221.3 L 590.0,223.9 L 600.0,227.6 L 610.0,231.6 L 620.0,235.1 L 630.0,237.3 L 640.0,238.0 L 650.0,237.2 L 660.0,235.8 L 670.0,234.4 L 680.0,234.1 L 690.0,235.2 L 700.0,237.9 L 710.0,241.7 L 720.0,245.9 L 730.0,249.5 L 740.0,251.8 L 750.0,252.6 L 760.0,252.0 L 770.0,250.7 L 780.0,249.5 L 790.0,249.3 L 800.0,250.5 L 810.0,253.3 L 820.0,257.3 L 830.0,261.6 L 840.0,265.4 L 850.0,267.8 L 860.0,268.8 L 870.0,268.3 L 880.0,267.1 L 890.0,266.0 L 900.0,265.9" fill="none" stroke="#9c9c9c" stroke-width="1"/><path d="M -20.0,180.4 L -10.0,178.9 L 0.0,176.6 L 10.0,174.5 L 20.0,173.3 L 30.0,173.7 L 40.0,175.6 L 50.0,178.6 L 60.0,182.0 L 70.0,184.8 L 80.0,186.4 L 90.0,186.4 L 100.0,185.0 L 110.0,182.9 L 120.0,180.9 L 130.0,179.8 L 140.0,180.3 L 150.0,182.3 L 160.0,185.5 L 170.0,189.0 L 180.0,192.0 L 190.0,193.7 L 200.0,193.8 L 210.0,192.5 L 220.0,190.5 L 230.0,188.7 L 240.0,187.8 L 250.0,188.4 L 260.0,190.5 L 270.0,193.8 L 280.0,197.5 L 290.0,200.6 L 300.0,202.4 L 310.0,202.6 L 320.0,201.5 L 330.0,199.7 L 340.0,197.9 L 350.0,197.2 L 360.0,197.9 L 370.0,200.2 L 380.0,203.6 L 390.0,207.4 L 400.0,210.6 L 410.0,212.6 L 420.0,213.0 L 430.0,212.0 L 440.0,210.2 L 450.0,208.6 L 460.0,208.0 L 470.0,208.9 L 480.0,211.3 L 490.0,214.9 L 500.0,218.8 L 510.0,222.1 L 520.0,224.2 L 530.0,224.7 L 540.0,223.9 L 550.0,222.3 L 560.0,220.8 L 570.0,220.3 L 580.0,221.3 L 590.0,223.9 L 600.0,227.6 L 610.0,231.6 L 620.0,235.1 L 630.0,237.3 L 640.0,238.0 L 650.0,237.2 L 660.0,235.8 L 670.0,234.4 L 680.0,234.1 L 690.0,235.2 L 700.0,237.9 L 710.0,241.7 L 720.0,245.9 L 730.0,249.5 L 740.0,251.8 L 750.0,252.6 L 760.0,252.0 L 770.0,250.7 L 780.0,249.5 L 790.0,249.3 L 800.0,250.5 L 810.0,253.3 L 820.0,257.3 L 830.0,261.6 L 840.0,265.4 L 850.0,267.8 L 860.0,268.8 L 870.0,268.3 L 880.0,267.1 L 890.0,266.0 L 900.0,265.9" transform="translate(0,4)" fill="none" stroke="#c4c4c4" stroke-width="0.8"/><path d="M -20.0,197.3 L -10.0,196.6 L 0.0,197.4 L 10.0,199.7 L 20.0,202.9 L 30.0,206.2 L 40.0,208.6 L 50.0,209.6 L 60.0,209.1 L 70.0,207.3 L 80.0,205.1 L 90.0,203.3 L 100.0,202.7 L 110.0,203.6 L 120.0,206.1 L 130.0,209.4 L 140.0,212.8 L 150.0,215.3 L 160.0,216.5 L 170.0,216.1 L 180.0,214.5 L 190.0,212.4 L 200.0,210.7 L 210.0,210.2 L 220.0,211.3 L 230.0,213.9 L 240.0,217.3 L 250.0,220.9 L 260.0,223.6 L 270.0,224.8 L 280.0,224.6 L 290.0,223.1 L 300.0,221.1 L 310.0,219.6 L 320.0,219.2 L 330.0,220.4 L 340.0,223.1 L 350.0,226.7 L 360.0,230.4 L 370.0,233.2 L 380.0,234.6 L 390.0,234.5 L 400.0,233.1 L 410.0,231.3 L 420.0,229.9 L 430.0,229.7 L 440.0,231.0 L 450.0,233.8 L 460.0,237.6 L 470.0,241.4 L 480.0,244.3 L 490.0,245.9 L 500.0,245.9 L 510.0,244.6 L 520.0,242.9 L 530.0,241.7 L 540.0,241.6 L 550.0,243.1 L 560.0,246.0 L 570.0,249.9 L 580.0,253.8 L 590.0,256.9 L 600.0,258.6 L 610.0,258.7 L 620.0,257.6 L 630.0,256.0 L 640.0,254.9 L 650.0,254.9 L 660.0,256.5 L 670.0,259.6 L 680.0,263.6 L 690.0,267.7 L 700.0,270.9 L 710.0,272.7 L 720.0,273.0 L 730.0,272.0 L 740.0,270.6 L 750.0,269.6 L 760.0,269.7 L 770.0,271.5 L 780.0,274.7 L 790.0,278.8 L 800.0,283.0 L 810.0,286.4 L 820.0,288.3 L 830.0,288.7 L 840.0,287.9 L 850.0,286.6 L 860.0,285.7 L 870.0,286.0 L 880.0,287.9 L 890.0,291.2 L 900.0,295.5" fill="none" stroke="#9c9c9c" stroke-width="1"/><path d="M -20.0,197.3 L -10.0,196.6 L 0.0,197.4 L 10.0,199.7 L 20.0,202.9 L 30.0,206.2 L 40.0,208.6 L 50.0,209.6 L 60.0,209.1 L 70.0,207.3 L 80.0,205.1 L 90.0,203.3 L 100.0,202.7 L 110.0,203.6 L 120.0,206.1 L 130.0,209.4 L 140.0,212.8 L 150.0,215.3 L 160.0,216.5 L 170.0,216.1 L 180.0,214.5 L 190.0,212.4 L 200.0,210.7 L 210.0,210.2 L 220.0,211.3 L 230.0,213.9 L 240.0,217.3 L 250.0,220.9 L 260.0,223.6 L 270.0,224.8 L 280.0,224.6 L 290.0,223.1 L 300.0,221.1 L 310.0,219.6 L 320.0,219.2 L 330.0,220.4 L 340.0,223.1 L 350.0,226.7 L 360.0,230.4 L 370.0,233.2 L 380.0,234.6 L 390.0,234.5 L 400.0,233.1 L 410.0,231.3 L 420.0,229.9 L 430.0,229.7 L 440.0,231.0 L 450.0,233.8 L 460.0,237.6 L 470.0,241.4 L 480.0,244.3 L 490.0,245.9 L 500.0,245.9 L 510.0,244.6 L 520.0,242.9 L 530.0,241.7 L 540.0,241.6 L 550.0,243.1 L 560.0,246.0 L 570.0,249.9 L 580.0,253.8 L 590.0,256.9 L 600.0,258.6 L 610.0,258.7 L 620.0,257.6 L 630.0,256.0 L 640.0,254.9 L 650.0,254.9 L 660.0,256.5 L 670.0,259.6 L 680.0,263.6 L 690.0,267.7 L 700.0,270.9 L 710.0,272.7 L 720.0,273.0 L 730.0,272.0 L 740.0,270.6 L 750.0,269.6 L 760.0,269.7 L 770.0,271.5 L 780.0,274.7 L 790.0,278.8 L 800.0,283.0 L 810.0,286.4 L 820.0,288.3 L 830.0,288.7 L 840.0,287.9 L 850.0,286.6 L 860.0,285.7 L 870.0,286.0 L 880.0,287.9 L 890.0,291.2 L 900.0,295.5" transform="translate(0,4)" fill="none" stroke="#c4c4c4" stroke-width="0.8"/><path d="M -20.0,224.0 L -10.0,227.3 L 0.0,230.3 L 10.0,232.3 L 20.0,232.8 L 30.0,231.8 L 40.0,229.7 L 50.0,227.5 L 60.0,226.0 L 70.0,225.8 L 80.0,227.2 L 90.0,230.0 L 100.0,233.4 L 110.0,236.6 L 120.0,238.7 L 130.0,239.3 L 140.0,238.4 L 150.0,236.5 L 160.0,234.4 L 170.0,233.0 L 180.0,232.9 L 190.0,234.5 L 200.0,237.4 L 210.0,241.0 L 220.0,244.3 L 230.0,246.5 L 240.0,247.2 L 250.0,246.4 L 260.0,244.7 L 270.0,242.7 L 280.0,241.4 L 290.0,241.5 L 300.0,243.2 L 310.0,246.3 L 320.0,250.0 L 330.0,253.4 L 340.0,255.8 L 350.0,256.6 L 360.0,256.0 L 370.0,254.3 L 380.0,252.5 L 390.0,251.4 L 400.0,251.6 L 410.0,253.4 L 420.0,256.6 L 430.0,260.4 L 440.0,264.0 L 450.0,266.5 L 460.0,267.5 L 470.0,267.0 L 480.0,265.4 L 490.0,263.7 L 500.0,262.7 L 510.0,263.1 L 520.0,265.1 L 530.0,268.4 L 540.0,272.3 L 550.0,276.0 L 560.0,278.6 L 570.0,279.8 L 580.0,279.4 L 590.0,278.0 L 600.0,276.4 L 610.0,275.6 L 620.0,276.1 L 630.0,278.2 L 640.0,281.6 L 650.0,285.7 L 660.0,289.5 L 670.0,292.3 L 680.0,293.5 L 690.0,293.3 L 700.0,292.0 L 710.0,290.6 L 720.0,289.8 L 730.0,290.5 L 740.0,292.7 L 750.0,296.3 L 760.0,300.5 L 770.0,304.4 L 780.0,307.3 L 790.0,308.7 L 800.0,308.6 L 810.0,307.5 L 820.0,306.2 L 830.0,305.6 L 840.0,306.3 L 850.0,308.7 L 860.0,312.4 L 870.0,316.7 L 880.0,320.8 L 890.0,323.9 L 900.0,325.4" fill="none" stroke="#9c9c9c" stroke-width="1"/><path d="M -20.0,224.0 L -10.0,227.3 L 0.0,230.3 L 10.0,232.3 L 20.0,232.8 L 30.0,231.8 L 40.0,229.7 L 50.0,227.5 L 60.0,226.0 L 70.0,225.8 L 80.0,227.2 L 90.0,230.0 L 100.0,233.4 L 110.0,236.6 L 120.0,238.7 L 130.0,239.3 L 140.0,238.4 L 150.0,236.5 L 160.0,234.4 L 170.0,233.0 L 180.0,232.9 L 190.0,234.5 L 200.0,237.4 L 210.0,241.0 L 220.0,244.3 L 230.0,246.5 L 240.0,247.2 L 250.0,246.4 L 260.0,244.7 L 270.0,242.7 L 280.0,241.4 L 290.0,241.5 L 300.0,243.2 L 310.0,246.3 L 320.0,250.0 L 330.0,253.4 L 340.0,255.8 L 350.0,256.6 L 360.0,256.0 L 370.0,254.3 L 380.0,252.5 L 390.0,251.4 L 400.0,251.6 L 410.0,253.4 L 420.0,256.6 L 430.0,260.4 L 440.0,264.0 L 450.0,266.5 L 460.0,267.5 L 470.0,267.0 L 480.0,265.4 L 490.0,263.7 L 500.0,262.7 L 510.0,263.1 L 520.0,265.1 L 530.0,268.4 L 540.0,272.3 L 550.0,276.0 L 560.0,278.6 L 570.0,279.8 L 580.0,279.4 L 590.0,278.0 L 600.0,276.4 L 610.0,275.6 L 620.0,276.1 L 630.0,278.2 L 640.0,281.6 L 650.0,285.7 L 660.0,289.5 L 670.0,292.3 L 680.0,293.5 L 690.0,293.3 L 700.0,292.0 L 710.0,290.6 L 720.0,289.8 L 730.0,290.5 L 740.0,292.7 L 750.0,296.3 L 760.0,300.5 L 770.0,304.4 L 780.0,307.3 L 790.0,308.7 L 800.0,308.6 L 810.0,307.5 L 820.0,306.2 L 830.0,305.6 L 840.0,306.3 L 850.0,308.7 L 860.0,312.4 L 870.0,316.7 L 880.0,320.8 L 890.0,323.9 L 900.0,325.4" transform="translate(0,4)" fill="none" stroke="#c4c4c4" stroke-width="0.8"/><path d="M -20.0,256.0 L -10.0,255.9 L 0.0,254.4 L 10.0,252.2 L 20.0,250.1 L 30.0,248.9 L 40.0,249.2 L 50.0,251.1 L 60.0,254.1 L 70.0,257.5 L 80.0,260.4 L 90.0,262.0 L 100.0,262.0 L 110.0,260.7 L 120.0,258.5 L 130.0,256.6 L 140.0,255.5 L 150.0,256.0 L 160.0,258.0 L 170.0,261.1 L 180.0,264.7 L 190.0,267.6 L 200.0,269.4 L 210.0,269.6 L 220.0,268.3 L 230.0,266.4 L 240.0,264.5 L 250.0,263.6 L 260.0,264.2 L 270.0,266.3 L 280.0,269.6 L 290.0,273.3 L 300.0,276.4 L 310.0,278.3 L 320.0,278.6 L 330.0,277.5 L 340.0,275.6 L 350.0,273.9 L 360.0,273.1 L 370.0,273.8 L 380.0,276.1 L 390.0,279.5 L 400.0,283.3 L 410.0,286.6 L 420.0,288.6 L 430.0,289.0 L 440.0,288.0 L 450.0,286.3 L 460.0,284.7 L 470.0,284.1 L 480.0,284.9 L 490.0,287.3 L 500.0,290.9 L 510.0,294.8 L 520.0,298.2 L 530.0,300.3 L 540.0,300.9 L 550.0,300.1 L 560.0,298.5 L 570.0,297.0 L 580.0,296.5 L 590.0,297.5 L 600.0,300.0 L 610.0,303.7 L 620.0,307.8 L 630.0,311.3 L 640.0,313.6 L 650.0,314.3 L 660.0,313.6 L 670.0,312.1 L 680.0,310.8 L 690.0,310.4 L 700.0,311.5 L 710.0,314.2 L 720.0,318.0 L 730.0,322.2 L 740.0,325.8 L 750.0,328.2 L 760.0,329.1 L 770.0,328.5 L 780.0,327.2 L 790.0,326.0 L 800.0,325.7 L 810.0,327.0 L 820.0,329.8 L 830.0,333.7 L 840.0,338.0 L 850.0,341.8 L 860.0,344.4 L 870.0,345.3 L 880.0,344.9 L 890.0,343.7 L 900.0,342.6" fill="none" stroke="#9c9c9c" stroke-width="1"/><path d="M -20.0,256.0 L -10.0,255.9 L 0.0,254.4 L 10.0,252.2 L 20.0,250.1 L 30.0,248.9 L 40.0,249.2 L 50.0,251.1 L 60.0,254.1 L 70.0,257.5 L 80.0,260.4 L 90.0,262.0 L 100.0,262.0 L 110.0,260.7 L 120.0,258.5 L 130.0,256.6 L 140.0,255.5 L 150.0,256.0 L 160.0,258.0 L 170.0,261.1 L 180.0,264.7 L 190.0,267.6 L 200.0,269.4 L 210.0,269.6 L 220.0,268.3 L 230.0,266.4 L 240.0,264.5 L 250.0,263.6 L 260.0,264.2 L 270.0,266.3 L 280.0,269.6 L 290.0,273.3 L 300.0,276.4 L 310.0,278.3 L 320.0,278.6 L 330.0,277.5 L 340.0,275.6 L 350.0,273.9 L 360.0,273.1 L 370.0,273.8 L 380.0,276.1 L 390.0,279.5 L 400.0,283.3 L 410.0,286.6 L 420.0,288.6 L 430.0,289.0 L 440.0,288.0 L 450.0,286.3 L 460.0,284.7 L 470.0,284.1 L 480.0,284.9 L 490.0,287.3 L 500.0,290.9 L 510.0,294.8 L 520.0,298.2 L 530.0,300.3 L 540.0,300.9 L 550.0,300.1 L 560.0,298.5 L 570.0,297.0 L 580.0,296.5 L 590.0,297.5 L 600.0,300.0 L 610.0,303.7 L 620.0,307.8 L 630.0,311.3 L 640.0,313.6 L 650.0,314.3 L 660.0,313.6 L 670.0,312.1 L 680.0,310.8 L 690.0,310.4 L 700.0,311.5 L 710.0,314.2 L 720.0,318.0 L 730.0,322.2 L 740.0,325.8 L 750.0,328.2 L 760.0,329.1 L 770.0,328.5 L 780.0,327.2 L 790.0,326.0 L 800.0,325.7 L 810.0,327.0 L 820.0,329.8 L 830.0,333.7 L 840.0,338.0 L 850.0,341.8 L 860.0,344.4 L 870.0,345.3 L 880.0,344.9 L 890.0,343.7 L 900.0,342.6" transform="translate(0,4)" fill="none" stroke="#c4c4c4" stroke-width="0.8"/><path d="M -20.0,274.8 L -10.0,272.8 L 0.0,272.1 L 10.0,272.9 L 20.0,275.2 L 30.0,278.4 L 40.0,281.6 L 50.0,284.1 L 60.0,285.2 L 70.0,284.7 L 80.0,283.0 L 90.0,280.8 L 100.0,278.9 L 110.0,278.3 L 120.0,279.2 L 130.0,281.7 L 140.0,285.0 L 150.0,288.4 L 160.0,291.0 L 170.0,292.2 L 180.0,291.8 L 190.0,290.2 L 200.0,288.2 L 210.0,286.5 L 220.0,286.0 L 230.0,287.1 L 240.0,289.6 L 250.0,293.1 L 260.0,296.6 L 270.0,299.3 L 280.0,300.7 L 290.0,300.4 L 300.0,299.0 L 310.0,297.0 L 320.0,295.5 L 330.0,295.1 L 340.0,296.3 L 350.0,299.0 L 360.0,302.6 L 370.0,306.3 L 380.0,309.1 L 390.0,310.6 L 400.0,310.5 L 410.0,309.2 L 420.0,307.3 L 430.0,305.9 L 440.0,305.7 L 450.0,307.0 L 460.0,309.8 L 470.0,313.6 L 480.0,317.4 L 490.0,320.4 L 500.0,322.0 L 510.0,322.0 L 520.0,320.8 L 530.0,319.1 L 540.0,317.8 L 550.0,317.7 L 560.0,319.2 L 570.0,322.1 L 580.0,326.0 L 590.0,329.9 L 600.0,333.1 L 610.0,334.8 L 620.0,335.0 L 630.0,333.9 L 640.0,332.3 L 650.0,331.2 L 660.0,331.2 L 670.0,332.8 L 680.0,335.9 L 690.0,339.9 L 700.0,344.0 L 710.0,347.2 L 720.0,349.1 L 730.0,349.4 L 740.0,348.4 L 750.0,347.0 L 760.0,346.0 L 770.0,346.2 L 780.0,347.9 L 790.0,351.1 L 800.0,355.2 L 810.0,359.4 L 820.0,362.8 L 830.0,364.8 L 840.0,365.2 L 850.0,364.4 L 860.0,363.1 L 870.0,362.3 L 880.0,362.5 L 890.0,364.4 L 900.0,367.7" fill="none" stroke="#9c9c9c" stroke-width="1"/><path d="M -20.0,274.8 L -10.0,272.8 L 0.0,272.1 L 10.0,272.9 L 20.0,275.2 L 30.0,278.4 L 40.0,281.6 L 50.0,284.1 L 60.0,285.2 L 70.0,284.7 L 80.0,283.0 L 90.0,280.8 L 100.0,278.9 L 110.0,278.3 L 120.0,279.2 L 130.0,281.7 L 140.0,285.0 L 150.0,288.4 L 160.0,291.0 L 170.0,292.2 L 180.0,291.8 L 190.0,290.2 L 200.0,288.2 L 210.0,286.5 L 220.0,286.0 L 230.0,287.1 L 240.0,289.6 L 250.0,293.1 L 260.0,296.6 L 270.0,299.3 L 280.0,300.7 L 290.0,300.4 L 300.0,299.0 L 310.0,297.0 L 320.0,295.5 L 330.0,295.1 L 340.0,296.3 L 350.0,299.0 L 360.0,302.6 L 370.0,306.3 L 380.0,309.1 L 390.0,310.6 L 400.0,310.5 L 410.0,309.2 L 420.0,307.3 L 430.0,305.9 L 440.0,305.7 L 450.0,307.0 L 460.0,309.8 L 470.0,313.6 L 480.0,317.4 L 490.0,320.4 L 500.0,322.0 L 510.0,322.0 L 520.0,320.8 L 530.0,319.1 L 540.0,317.8 L 550.0,317.7 L 560.0,319.2 L 570.0,322.1 L 580.0,326.0 L 590.0,329.9 L 600.0,333.1 L 610.0,334.8 L 620.0,335.0 L 630.0,333.9 L 640.0,332.3 L 650.0,331.2 L 660.0,331.2 L 670.0,332.8 L 680.0,335.9 L 690.0,339.9 L 700.0,344.0 L 710.0,347.2 L 720.0,349.1 L 730.0,349.4 L 740.0,348.4 L 750.0,347.0 L 760.0,346.0 L 770.0,346.2 L 780.0,347.9 L 790.0,351.1 L 800.0,355.2 L 810.0,359.4 L 820.0,362.8 L 830.0,364.8 L 840.0,365.2 L 850.0,364.4 L 860.0,363.1 L 870.0,362.3 L 880.0,362.5 L 890.0,364.4 L 900.0,367.7" transform="translate(0,4)" fill="none" stroke="#c4c4c4" stroke-width="0.8"/><path d="M -20.0,296.8 L -10.0,299.5 L 0.0,302.7 L 10.0,305.8 L 20.0,307.8 L 30.0,308.3 L 40.0,307.3 L 50.0,305.3 L 60.0,303.1 L 70.0,301.6 L 80.0,301.4 L 90.0,302.8 L 100.0,305.6 L 110.0,309.0 L 120.0,312.2 L 130.0,314.3 L 140.0,315.0 L 150.0,314.1 L 160.0,312.2 L 170.0,310.1 L 180.0,308.7 L 190.0,308.7 L 200.0,310.2 L 210.0,313.1 L 220.0,316.7 L 230.0,320.0 L 240.0,322.3 L 250.0,323.0 L 260.0,322.3 L 270.0,320.5 L 280.0,318.6 L 290.0,317.3 L 300.0,317.4 L 310.0,319.1 L 320.0,322.1 L 330.0,325.8 L 340.0,329.2 L 350.0,331.7 L 360.0,332.6 L 370.0,332.0 L 380.0,330.3 L 390.0,328.5 L 400.0,327.4 L 410.0,327.6 L 420.0,329.4 L 430.0,332.6 L 440.0,336.4 L 450.0,340.0 L 460.0,342.5 L 470.0,343.5 L 480.0,343.1 L 490.0,341.6 L 500.0,339.9 L 510.0,338.9 L 520.0,339.2 L 530.0,341.2 L 540.0,344.5 L 550.0,348.4 L 560.0,352.1 L 570.0,354.8 L 580.0,356.0 L 590.0,355.6 L 600.0,354.3 L 610.0,352.7 L 620.0,351.8 L 630.0,352.3 L 640.0,354.4 L 650.0,357.8 L 660.0,361.9 L 670.0,365.7 L 680.0,368.6 L 690.0,369.9 L 700.0,369.6 L 710.0,368.4 L 720.0,367.0 L 730.0,366.2 L 740.0,366.9 L 750.0,369.1 L 760.0,372.6 L 770.0,376.8 L 780.0,380.8 L 790.0,383.8 L 800.0,385.2 L 810.0,385.1 L 820.0,384.0 L 830.0,382.7 L 840.0,382.1 L 850.0,382.9 L 860.0,385.2 L 870.0,388.9 L 880.0,393.2 L 890.0,397.3 L 900.0,400.4" fill="none" stroke="#9c9c9c" stroke-width="1"/><path d="M -20.0,296.8 L -10.0,299.5 L 0.0,302.7 L 10.0,305.8 L 20.0,307.8 L 30.0,308.3 L 40.0,307.3 L 50.0,305.3 L 60.0,303.1 L 70.0,301.6 L 80.0,301.4 L 90.0,302.8 L 100.0,305.6 L 110.0,309.0 L 120.0,312.2 L 130.0,314.3 L 140.0,315.0 L 150.0,314.1 L 160.0,312.2 L 170.0,310.1 L 180.0,308.7 L 190.0,308.7 L 200.0,310.2 L 210.0,313.1 L 220.0,316.7 L 230.0,320.0 L 240.0,322.3 L 250.0,323.0 L 260.0,322.3 L 270.0,320.5 L 280.0,318.6 L 290.0,317.3 L 300.0,317.4 L 310.0,319.1 L 320.0,322.1 L 330.0,325.8 L 340.0,329.2 L 350.0,331.7 L 360.0,332.6 L 370.0,332.0 L 380.0,330.3 L 390.0,328.5 L 400.0,327.4 L 410.0,327.6 L 420.0,329.4 L 430.0,332.6 L 440.0,336.4 L 450.0,340.0 L 460.0,342.5 L 470.0,343.5 L 480.0,343.1 L 490.0,341.6 L 500.0,339.9 L 510.0,338.9 L 520.0,339.2 L 530.0,341.2 L 540.0,344.5 L 550.0,348.4 L 560.0,352.1 L 570.0,354.8 L 580.0,356.0 L 590.0,355.6 L 600.0,354.3 L 610.0,352.7 L 620.0,351.8 L 630.0,352.3 L 640.0,354.4 L 650.0,357.8 L 660.0,361.9 L 670.0,365.7 L 680.0,368.6 L 690.0,369.9 L 700.0,369.6 L 710.0,368.4 L 720.0,367.0 L 730.0,366.2 L 740.0,366.9 L 750.0,369.1 L 760.0,372.6 L 770.0,376.8 L 780.0,380.8 L 790.0,383.8 L 800.0,385.2 L 810.0,385.1 L 820.0,384.0 L 830.0,382.7 L 840.0,382.1 L 850.0,382.9 L 860.0,385.2 L 870.0,388.9 L 880.0,393.2 L 890.0,397.3 L 900.0,400.4" transform="translate(0,4)" fill="none" stroke="#c4c4c4" stroke-width="0.8"/><path d="M -20.0,330.0 L -10.0,331.5 L 0.0,331.4 L 10.0,330.0 L 20.0,327.8 L 30.0,325.6 L 40.0,324.4 L 50.0,324.7 L 60.0,326.6 L 70.0,329.6 L 80.0,333.0 L 90.0,335.9 L 100.0,337.6 L 110.0,337.7 L 120.0,336.3 L 130.0,334.3 L 140.0,332.3 L 150.0,331.2 L 160.0,331.6 L 170.0,333.6 L 180.0,336.8 L 190.0,340.3 L 200.0,343.3 L 210.0,345.1 L 220.0,345.3 L 230.0,344.2 L 240.0,342.2 L 250.0,340.3 L 260.0,339.4 L 270.0,340.0 L 280.0,342.1 L 290.0,345.4 L 300.0,349.1 L 310.0,352.2 L 320.0,354.1 L 330.0,354.5 L 340.0,353.4 L 350.0,351.6 L 360.0,349.9 L 370.0,349.1 L 380.0,349.8 L 390.0,352.0 L 400.0,355.4 L 410.0,359.2 L 420.0,362.5 L 430.0,364.6 L 440.0,365.1 L 450.0,364.1 L 460.0,362.4 L 470.0,360.8 L 480.0,360.2 L 490.0,361.0 L 500.0,363.4 L 510.0,366.9 L 520.0,370.9 L 530.0,374.3 L 540.0,376.5 L 550.0,377.1 L 560.0,376.3 L 570.0,374.7 L 580.0,373.3 L 590.0,372.7 L 600.0,373.7 L 610.0,376.2 L 620.0,379.9 L 630.0,384.0 L 640.0,387.5 L 650.0,389.8 L 660.0,390.6 L 670.0,389.9 L 680.0,388.5 L 690.0,387.2 L 700.0,386.8 L 710.0,387.8 L 720.0,390.5 L 730.0,394.3 L 740.0,398.5 L 750.0,402.2 L 760.0,404.6 L 770.0,405.5 L 780.0,405.0 L 790.0,403.7 L 800.0,402.5 L 810.0,402.2 L 820.0,403.4 L 830.0,406.2 L 840.0,410.2 L 850.0,414.5 L 860.0,418.3 L 870.0,420.9 L 880.0,421.9 L 890.0,421.5 L 900.0,420.3" fill="none" stroke="#9c9c9c" stroke-width="1"/><path d="M -20.0,330.0 L -10.0,331.5 L 0.0,331.4 L 10.0,330.0 L 20.0,327.8 L 30.0,325.6 L 40.0,324.4 L 50.0,324.7 L 60.0,326.6 L 70.0,329.6 L 80.0,333.0 L 90.0,335.9 L 100.0,337.6 L 110.0,337.7 L 120.0,336.3 L 130.0,334.3 L 140.0,332.3 L 150.0,331.2 L 160.0,331.6 L 170.0,333.6 L 180.0,336.8 L 190.0,340.3 L 200.0,343.3 L 210.0,345.1 L 220.0,345.3 L 230.0,344.2 L 240.0,342.2 L 250.0,340.3 L 260.0,339.4 L 270.0,340.0 L 280.0,342.1 L 290.0,345.4 L 300.0,349.1 L 310.0,352.2 L 320.0,354.1 L 330.0,354.5 L 340.0,353.4 L 350.0,351.6 L 360.0,349.9 L 370.0,349.1 L 380.0,349.8 L 390.0,352.0 L 400.0,355.4 L 410.0,359.2 L 420.0,362.5 L 430.0,364.6 L 440.0,365.1 L 450.0,364.1 L 460.0,362.4 L 470.0,360.8 L 480.0,360.2 L 490.0,361.0 L 500.0,363.4 L 510.0,366.9 L 520.0,370.9 L 530.0,374.3 L 540.0,376.5 L 550.0,377.1 L 560.0,376.3 L 570.0,374.7 L 580.0,373.3 L 590.0,372.7 L 600.0,373.7 L 610.0,376.2 L 620.0,379.9 L 630.0,384.0 L 640.0,387.5 L 650.0,389.8 L 660.0,390.6 L 670.0,389.9 L 680.0,388.5 L 690.0,387.2 L 700.0,386.8 L 710.0,387.8 L 720.0,390.5 L 730.0,394.3 L 740.0,398.5 L 750.0,402.2 L 760.0,404.6 L 770.0,405.5 L 780.0,405.0 L 790.0,403.7 L 800.0,402.5 L 810.0,402.2 L 820.0,403.4 L 830.0,406.2 L 840.0,410.2 L 850.0,414.5 L 860.0,418.3 L 870.0,420.9 L 880.0,421.9 L 890.0,421.5 L 900.0,420.3" transform="translate(0,4)" fill="none" stroke="#c4c4c4" stroke-width="0.8"/><path d="M -20.0,352.7 L -10.0,350.3 L 0.0,348.4 L 10.0,347.6 L 20.0,348.4 L 30.0,350.7 L 40.0,353.9 L 50.0,357.1 L 60.0,359.7 L 70.0,360.8 L 80.0,360.3 L 90.0,358.6 L 100.0,356.4 L 110.0,354.6 L 120.0,354.0 L 130.0,354.9 L 140.0,357.3 L 150.0,360.6 L 160.0,364.0 L 170.0,366.7 L 180.0,367.9 L 190.0,367.6 L 200.0,366.0 L 210.0,364.0 L 220.0,362.3 L 230.0,361.8 L 240.0,362.8 L 250.0,365.3 L 260.0,368.8 L 270.0,372.4 L 280.0,375.1 L 290.0,376.5 L 300.0,376.3 L 310.0,374.9 L 320.0,373.0 L 330.0,371.4 L 340.0,371.0 L 350.0,372.2 L 360.0,374.9 L 370.0,378.5 L 380.0,382.2 L 390.0,385.1 L 400.0,386.6 L 410.0,386.5 L 420.0,385.2 L 430.0,383.4 L 440.0,382.0 L 450.0,381.7 L 460.0,383.1 L 470.0,385.9 L 480.0,389.6 L 490.0,393.4 L 500.0,396.4 L 510.0,398.1 L 520.0,398.2 L 530.0,397.0 L 540.0,395.3 L 550.0,394.0 L 560.0,393.9 L 570.0,395.4 L 580.0,398.3 L 590.0,402.1 L 600.0,406.1 L 610.0,409.3 L 620.0,411.0 L 630.0,411.2 L 640.0,410.2 L 650.0,408.7 L 660.0,407.5 L 670.0,407.5 L 680.0,409.1 L 690.0,412.2 L 700.0,416.2 L 710.0,420.2 L 720.0,423.5 L 730.0,425.5 L 740.0,425.8 L 750.0,424.9 L 760.0,423.5 L 770.0,422.5 L 780.0,422.6 L 790.0,424.3 L 800.0,427.5 L 810.0,431.6 L 820.0,435.8 L 830.0,439.3 L 840.0,441.3 L 850.0,441.8 L 860.0,441.0 L 870.0,439.7 L 880.0,438.8 L 890.0,439.1 L 900.0,441.0" fill="none" stroke="#9c9c9c" stroke-width="1"/><path d="M -20.0,352.7 L -10.0,350.3 L 0.0,348.4 L 10.0,347.6 L 20.0,348.4 L 30.0,350.7 L 40.0,353.9 L 50.0,357.1 L 60.0,359.7 L 70.0,360.8 L 80.0,360.3 L 90.0,358.6 L 100.0,356.4 L 110.0,354.6 L 120.0,354.0 L 130.0,354.9 L 140.0,357.3 L 150.0,360.6 L 160.0,364.0 L 170.0,366.7 L 180.0,367.9 L 190.0,367.6 L 200.0,366.0 L 210.0,364.0 L 220.0,362.3 L 230.0,361.8 L 240.0,362.8 L 250.0,365.3 L 260.0,368.8 L 270.0,372.4 L 280.0,375.1 L 290.0,376.5 L 300.0,376.3 L 310.0,374.9 L 320.0,373.0 L 330.0,371.4 L 340.0,371.0 L 350.0,372.2 L 360.0,374.9 L 370.0,378.5 L 380.0,382.2 L 390.0,385.1 L 400.0,386.6 L 410.0,386.5 L 420.0,385.2 L 430.0,383.4 L 440.0,382.0 L 450.0,381.7 L 460.0,383.1 L 470.0,385.9 L 480.0,389.6 L 490.0,393.4 L 500.0,396.4 L 510.0,398.1 L 520.0,398.2 L 530.0,397.0 L 540.0,395.3 L 550.0,394.0 L 560.0,393.9 L 570.0,395.4 L 580.0,398.3 L 590.0,402.1 L 600.0,406.1 L 610.0,409.3 L 620.0,411.0 L 630.0,411.2 L 640.0,410.2 L 650.0,408.7 L 660.0,407.5 L 670.0,407.5 L 680.0,409.1 L 690.0,412.2 L 700.0,416.2 L 710.0,420.2 L 720.0,423.5 L 730.0,425.5 L 740.0,425.8 L 750.0,424.9 L 760.0,423.5 L 770.0,422.5 L 780.0,422.6 L 790.0,424.3 L 800.0,427.5 L 810.0,431.6 L 820.0,435.8 L 830.0,439.3 L 840.0,441.3 L 850.0,441.8 L 860.0,441.0 L 870.0,439.7 L 880.0,438.8 L 890.0,439.1 L 900.0,441.0" transform="translate(0,4)" fill="none" stroke="#c4c4c4" stroke-width="0.8"/>
<path d="M -120.3,52.8 Q -94.7,47.2 -94.7,68.8 Q -120.3,74.4 -120.3,52.8 Z" fill="#ececec" stroke="#939393" stroke-width="1"/><path d="M -117.9,53.6 Q -101.9,53.6 -97.1,68.0" fill="none" stroke="#a0a0a0" stroke-width="0.9"/><path d="M -118.4,60.0 L -112.0,52.0" stroke="#c2c2c2" stroke-width="0.8"/><path d="M -113.2,63.2 L -106.8,55.2" stroke="#c2c2c2" stroke-width="0.8"/><path d="M -108.1,66.4 L -101.7,58.4" stroke="#c2c2c2" stroke-width="0.8"/><path d="M -103.0,69.6 L -96.6,61.6" stroke="#c2c2c2" stroke-width="0.8"/><path d="M -12.9,56.8 Q -3.2,51.1 12.9,72.9 Q 3.2,78.5 -12.9,56.8 Z" fill="#ececec" stroke="#939393" stroke-width="1"/><path d="M -10.5,57.6 Q -0.8,57.6 10.5,72.1" fill="none" stroke="#a0a0a0" stroke-width="0.9"/><path d="M -11.0,64.0 L -4.5,55.9" stroke="#c2c2c2" stroke-width="0.8"/><path d="M -5.8,67.2 L 0.6,59.2" stroke="#c2c2c2" stroke-width="0.8"/><path d="M -0.6,70.4 L 5.8,62.4" stroke="#c2c2c2" stroke-width="0.8"/><path d="M 4.5,73.7 L 11.0,65.6" stroke="#c2c2c2" stroke-width="0.8"/><path d="M 94.5,62.0 Q 120.5,56.3 120.5,78.3 Q 94.5,84.0 94.5,62.0 Z" fill="#ececec" stroke="#939393" stroke-width="1"/><path d="M 96.9,62.8 Q 113.2,62.8 118.0,77.5" fill="none" stroke="#a0a0a0" stroke-width="0.9"/><path d="M 96.4,69.3 L 102.9,61.2" stroke="#c2c2c2" stroke-width="0.8"/><path d="M 101.6,72.6 L 108.1,64.5" stroke="#c2c2c2" stroke-width="0.8"/><path d="M 106.8,75.8 L 113.3,67.7" stroke="#c2c2c2" stroke-width="0.8"/><path d="M 112.0,79.1 L 118.5,71.0" stroke="#c2c2c2" stroke-width="0.8"/><path d="M 188.3,64.8 Q 198.1,59.1 214.4,81.1 Q 204.6,86.8 188.3,64.8 Z" fill="#ececec" stroke="#939393" stroke-width="1"/><path d="M 190.7,65.6 Q 200.5,65.6 211.9,80.3" fill="none" stroke="#a0a0a0" stroke-width="0.9"/><path d="M 190.2,72.1 L 196.7,64.0" stroke="#c2c2c2" stroke-width="0.8"/><path d="M 195.4,75.4 L 202.0,67.2" stroke="#c2c2c2" stroke-width="0.8"/><path d="M 200.7,78.6 L 207.2,70.5" stroke="#c2c2c2" stroke-width="0.8"/><path d="M 205.9,81.9 L 212.4,73.8" stroke="#c2c2c2" stroke-width="0.8"/><path d="M 269.5,73.3 Q 296.0,67.5 296.0,89.9 Q 269.5,95.7 269.5,73.3 Z" fill="#ececec" stroke="#939393" stroke-width="1"/><path d="M 272.0,74.2 Q 288.6,74.2 293.6,89.1" fill="none" stroke="#a0a0a0" stroke-width="0.9"/><path d="M 271.5,80.8 L 278.2,72.5" stroke="#c2c2c2" stroke-width="0.8"/><path d="M 276.8,84.1 L 283.5,75.8" stroke="#c2c2c2" stroke-width="0.8"/><path d="M 282.1,87.4 L 288.8,79.1" stroke="#c2c2c2" stroke-width="0.8"/><path d="M 287.4,90.7 L 294.1,82.4" stroke="#c2c2c2" stroke-width="0.8"/><path d="M 353.1,87.1 Q 363.3,81.2 380.2,104.0 Q 370.1,110.0 353.1,87.1 Z" fill="#ececec" stroke="#939393" stroke-width="1"/><path d="M 355.7,88.0 Q 365.8,88.0 377.7,103.2" fill="none" stroke="#a0a0a0" stroke-width="0.9"/><path d="M 355.2,94.7 L 361.9,86.3" stroke="#c2c2c2" stroke-width="0.8"/><path d="M 360.6,98.1 L 367.4,89.6" stroke="#c2c2c2" stroke-width="0.8"/><path d="M 366.0,101.5 L 372.8,93.0" stroke="#c2c2c2" stroke-width="0.8"/><path d="M 371.4,104.9 L 378.2,96.4" stroke="#c2c2c2" stroke-width="0.8"/><path d="M 451.3,97.4 Q 478.9,91.4 478.9,114.7 Q 451.3,120.7 451.3,97.4 Z" fill="#ececec" stroke="#939393" stroke-width="1"/><path d="M 453.9,98.3 Q 471.1,98.3 476.3,113.8" fill="none" stroke="#a0a0a0" stroke-width="0.9"/><path d="M 453.4,105.2 L 460.3,96.6" stroke="#c2c2c2" stroke-width="0.8"/><path d="M 458.9,108.6 L 465.8,100.0" stroke="#c2c2c2" stroke-width="0.8"/><path d="M 464.4,112.1 L 471.3,103.5" stroke="#c2c2c2" stroke-width="0.8"/><path d="M 469.9,115.5 L 476.8,106.9" stroke="#c2c2c2" stroke-width="0.8"/><path d="M 560.3,109.5 Q 570.9,103.4 588.4,127.1 Q 577.9,133.2 560.3,109.5 Z" fill="#ececec" stroke="#939393" stroke-width="1"/><path d="M 563.0,110.4 Q 573.5,110.4 585.8,126.2" fill="none" stroke="#a0a0a0" stroke-width="0.9"/><path d="M 562.4,117.4 L 569.4,108.7" stroke="#c2c2c2" stroke-width="0.8"/><path d="M 568.0,120.9 L 575.1,112.2" stroke="#c2c2c2" stroke-width="0.8"/><path d="M 573.7,124.4 L 580.7,115.7" stroke="#c2c2c2" stroke-width="0.8"/><path d="M 579.3,128.0 L 586.3,119.2" stroke="#c2c2c2" stroke-width="0.8"/><path d="M 664.5,121.9 Q 693.1,115.7 693.1,139.8 Q 664.5,146.1 664.5,121.9 Z" fill="#ececec" stroke="#939393" stroke-width="1"/><path d="M 667.2,122.8 Q 685.1,122.8 690.5,138.9" fill="none" stroke="#a0a0a0" stroke-width="0.9"/><path d="M 666.7,130.0 L 673.8,121.0" stroke="#c2c2c2" stroke-width="0.8"/><path d="M 672.4,133.6 L 679.5,124.6" stroke="#c2c2c2" stroke-width="0.8"/><path d="M 678.1,137.1 L 685.3,128.2" stroke="#c2c2c2" stroke-width="0.8"/><path d="M 683.8,140.7 L 691.0,131.8" stroke="#c2c2c2" stroke-width="0.8"/><path d="M 753.7,129.2 Q 764.6,122.8 782.7,147.2 Q 771.8,153.6 753.7,129.2 Z" fill="#ececec" stroke="#939393" stroke-width="1"/><path d="M 756.4,130.1 Q 767.3,130.1 779.9,146.3" fill="none" stroke="#a0a0a0" stroke-width="0.9"/><path d="M 755.9,137.3 L 763.1,128.3" stroke="#c2c2c2" stroke-width="0.8"/><path d="M 761.7,140.9 L 768.9,131.9" stroke="#c2c2c2" stroke-width="0.8"/><path d="M 767.5,144.5 L 774.7,135.5" stroke="#c2c2c2" stroke-width="0.8"/><path d="M 773.3,148.1 L 780.5,139.1" stroke="#c2c2c2" stroke-width="0.8"/><path d="M 834.0,136.5 Q 863.2,130.1 863.2,154.8 Q 834.0,161.2 834.0,136.5 Z" fill="#ececec" stroke="#939393" stroke-width="1"/><path d="M 836.7,137.4 Q 855.0,137.4 860.5,153.9" fill="none" stroke="#a0a0a0" stroke-width="0.9"/><path d="M 836.2,144.8 L 843.5,135.6" stroke="#c2c2c2" stroke-width="0.8"/><path d="M 842.0,148.4 L 849.3,139.3" stroke="#c2c2c2" stroke-width="0.8"/><path d="M 847.9,152.1 L 855.2,142.9" stroke="#c2c2c2" stroke-width="0.8"/><path d="M 853.7,155.7 L 861.0,146.6" stroke="#c2c2c2" stroke-width="0.8"/><path d="M 921.0,154.6 Q 932.2,148.1 951.0,173.4 Q 939.8,180.0 921.0,154.6 Z" fill="#ececec" stroke="#939393" stroke-width="1"/><path d="M 923.8,155.6 Q 935.1,155.6 948.2,172.5" fill="none" stroke="#a0a0a0" stroke-width="0.9"/><path d="M 923.2,163.1 L 930.7,153.7" stroke="#c2c2c2" stroke-width="0.8"/><path d="M 929.2,166.8 L 936.8,157.4" stroke="#c2c2c2" stroke-width="0.8"/><path d="M 935.2,170.6 L 942.8,161.2" stroke="#c2c2c2" stroke-width="0.8"/><path d="M 941.3,174.3 L 948.8,165.0" stroke="#c2c2c2" stroke-width="0.8"/><path d="M -48.3,79.3 Q -38.3,73.5 -21.6,96.0 Q -31.6,101.9 -48.3,79.3 Z" fill="#ececec" stroke="#939393" stroke-width="1"/><path d="M -45.8,80.2 Q -35.8,80.2 -24.1,95.2" fill="none" stroke="#a0a0a0" stroke-width="0.9"/><path d="M -46.3,86.8 L -39.6,78.5" stroke="#c2c2c2" stroke-width="0.8"/><path d="M -41.0,90.2 L -34.3,81.8" stroke="#c2c2c2" stroke-width="0.8"/><path d="M -35.6,93.5 L -28.9,85.2" stroke="#c2c2c2" stroke-width="0.8"/><path d="M -30.3,96.9 L -23.6,88.5" stroke="#c2c2c2" stroke-width="0.8"/><path d="M 44.0,80.1 Q 70.8,74.2 70.8,96.8 Q 44.0,102.7 44.0,80.1 Z" fill="#ececec" stroke="#939393" stroke-width="1"/><path d="M 46.6,80.9 Q 63.3,80.9 68.3,96.0" fill="none" stroke="#a0a0a0" stroke-width="0.9"/><path d="M 46.1,87.6 L 52.8,79.2" stroke="#c2c2c2" stroke-width="0.8"/><path d="M 51.4,91.0 L 58.1,82.6" stroke="#c2c2c2" stroke-width="0.8"/><path d="M 56.8,94.3 L 63.5,85.9" stroke="#c2c2c2" stroke-width="0.8"/><path d="M 62.1,97.7 L 68.8,89.3" stroke="#c2c2c2" stroke-width="0.8"/><path d="M 124.9,87.6 Q 135.0,81.6 152.0,104.5 Q 141.8,110.5 124.9,87.6 Z" fill="#ececec" stroke="#939393" stroke-width="1"/><path d="M 127.4,88.4 Q 137.6,88.4 149.4,103.7" fill="none" stroke="#a0a0a0" stroke-width="0.9"/><path d="M 126.9,95.2 L 133.7,86.7" stroke="#c2c2c2" stroke-width="0.8"/><path d="M 132.3,98.6 L 139.1,90.1" stroke="#c2c2c2" stroke-width="0.8"/><path d="M 137.7,102.0 L 144.5,93.5" stroke="#c2c2c2" stroke-width="0.8"/><path d="M 143.2,105.4 L 149.9,96.9" stroke="#c2c2c2" stroke-width="0.8"/><path d="M 209.5,99.7 Q 237.1,93.7 237.1,117.0 Q 209.5,123.1 209.5,99.7 Z" fill="#ececec" stroke="#939393" stroke-width="1"/><path d="M 212.1,100.6 Q 229.4,100.6 234.5,116.1" fill="none" stroke="#a0a0a0" stroke-width="0.9"/><path d="M 211.6,107.5 L 218.5,98.9" stroke="#c2c2c2" stroke-width="0.8"/><path d="M 217.1,111.0 L 224.0,102.3" stroke="#c2c2c2" stroke-width="0.8"/><path d="M 222.6,114.4 L 229.5,105.8" stroke="#c2c2c2" stroke-width="0.8"/><path d="M 228.2,117.9 L 235.1,109.2" stroke="#c2c2c2" stroke-width="0.8"/><path d="M 309.1,108.5 Q 319.7,102.4 337.2,126.1 Q 326.7,132.2 309.1,108.5 Z" fill="#ececec" stroke="#939393" stroke-width="1"/><path d="M 311.8,109.4 Q 322.3,109.4 334.5,125.2" fill="none" stroke="#a0a0a0" stroke-width="0.9"/><path d="M 311.2,116.4 L 318.3,107.7" stroke="#c2c2c2" stroke-width="0.8"/><path d="M 316.9,119.9 L 323.9,111.2" stroke="#c2c2c2" stroke-width="0.8"/><path d="M 322.5,123.4 L 329.5,114.7" stroke="#c2c2c2" stroke-width="0.8"/><path d="M 328.1,126.9 L 335.1,118.2" stroke="#c2c2c2" stroke-width="0.8"/><path d="M 418.4,118.8 Q 446.9,112.6 446.9,136.6 Q 418.4,142.9 418.4,118.8 Z" fill="#ececec" stroke="#939393" stroke-width="1"/><path d="M 421.1,119.7 Q 438.9,119.7 444.2,135.7" fill="none" stroke="#a0a0a0" stroke-width="0.9"/><path d="M 420.6,126.8 L 427.7,117.9" stroke="#c2c2c2" stroke-width="0.8"/><path d="M 426.3,130.4 L 433.4,121.5" stroke="#c2c2c2" stroke-width="0.8"/><path d="M 432.0,134.0 L 439.1,125.1" stroke="#c2c2c2" stroke-width="0.8"/><path d="M 437.7,137.5 L 444.8,128.6" stroke="#c2c2c2" stroke-width="0.8"/><path d="M 521.5,129.4 Q 532.4,123.0 550.4,147.4 Q 539.6,153.8 521.5,129.4 Z" fill="#ececec" stroke="#939393" stroke-width="1"/><path d="M 524.2,130.3 Q 535.1,130.3 547.7,146.5" fill="none" stroke="#a0a0a0" stroke-width="0.9"/><path d="M 523.7,137.5 L 530.9,128.4" stroke="#c2c2c2" stroke-width="0.8"/><path d="M 529.5,141.1 L 536.7,132.1" stroke="#c2c2c2" stroke-width="0.8"/><path d="M 535.3,144.7 L 542.5,135.7" stroke="#c2c2c2" stroke-width="0.8"/><path d="M 541.0,148.3 L 548.3,139.3" stroke="#c2c2c2" stroke-width="0.8"/><path d="M 609.4,134.6 Q 638.6,128.2 638.6,152.8 Q 609.4,159.2 609.4,134.6 Z" fill="#ececec" stroke="#939393" stroke-width="1"/><path d="M 612.2,135.5 Q 630.4,135.5 635.9,151.9" fill="none" stroke="#a0a0a0" stroke-width="0.9"/><path d="M 611.6,142.8 L 618.9,133.7" stroke="#c2c2c2" stroke-width="0.8"/><path d="M 617.5,146.4 L 624.7,137.3" stroke="#c2c2c2" stroke-width="0.8"/><path d="M 623.3,150.1 L 630.6,141.0" stroke="#c2c2c2" stroke-width="0.8"/><path d="M 629.1,153.7 L 636.4,144.6" stroke="#c2c2c2" stroke-width="0.8"/><path d="M 689.7,140.9 Q 700.7,134.5 719.1,159.3 Q 708.1,165.7 689.7,140.9 Z" fill="#ececec" stroke="#939393" stroke-width="1"/><path d="M 692.4,141.8 Q 703.5,141.8 716.3,158.4" fill="none" stroke="#a0a0a0" stroke-width="0.9"/><path d="M 691.9,149.2 L 699.2,140.0" stroke="#c2c2c2" stroke-width="0.8"/><path d="M 697.8,152.9 L 705.1,143.7" stroke="#c2c2c2" stroke-width="0.8"/><path d="M 703.6,156.5 L 711.0,147.3" stroke="#c2c2c2" stroke-width="0.8"/><path d="M 709.5,160.2 L 716.9,151.0" stroke="#c2c2c2" stroke-width="0.8"/><path d="M 778.0,157.5 Q 808.2,150.9 808.2,176.4 Q 778.0,183.0 778.0,157.5 Z" fill="#ececec" stroke="#939393" stroke-width="1"/><path d="M 780.8,158.5 Q 799.7,158.5 805.3,175.4" fill="none" stroke="#a0a0a0" stroke-width="0.9"/><path d="M 780.3,166.0 L 787.8,156.6" stroke="#c2c2c2" stroke-width="0.8"/><path d="M 786.3,169.8 L 793.8,160.4" stroke="#c2c2c2" stroke-width="0.8"/><path d="M 792.3,173.6 L 799.9,164.1" stroke="#c2c2c2" stroke-width="0.8"/><path d="M 798.4,177.3 L 805.9,167.9" stroke="#c2c2c2" stroke-width="0.8"/><path d="M 881.5,174.8 Q 893.1,168.0 912.4,194.1 Q 900.8,200.9 881.5,174.8 Z" fill="#ececec" stroke="#939393" stroke-width="1"/><path d="M 884.4,175.7 Q 896.0,175.7 909.5,193.1" fill="none" stroke="#a0a0a0" stroke-width="0.9"/><path d="M 883.8,183.5 L 891.6,173.8" stroke="#c2c2c2" stroke-width="0.8"/><path d="M 890.0,187.3 L 897.8,177.7" stroke="#c2c2c2" stroke-width="0.8"/><path d="M 896.2,191.2 L 903.9,181.5" stroke="#c2c2c2" stroke-width="0.8"/><path d="M 902.4,195.1 L 910.1,185.4" stroke="#c2c2c2" stroke-width="0.8"/><path d="M 990.5,192.7 Q 1022.2,185.7 1022.2,212.5 Q 990.5,219.4 990.5,192.7 Z" fill="#ececec" stroke="#939393" stroke-width="1"/><path d="M 993.5,193.7 Q 1013.3,193.7 1019.3,211.5" fill="none" stroke="#a0a0a0" stroke-width="0.9"/><path d="M 992.9,201.6 L 1000.8,191.7" stroke="#c2c2c2" stroke-width="0.8"/><path d="M 999.2,205.6 L 1007.2,195.7" stroke="#c2c2c2" stroke-width="0.8"/><path d="M 1005.6,209.5 L 1013.5,199.6" stroke="#c2c2c2" stroke-width="0.8"/><path d="M 1011.9,213.5 L 1019.8,203.6" stroke="#c2c2c2" stroke-width="0.8"/><path d="M -113.7,97.1 Q -86.1,91.1 -86.1,114.3 Q -113.7,120.4 -113.7,97.1 Z" fill="#ececec" stroke="#939393" stroke-width="1"/><path d="M -111.1,98.0 Q -93.9,98.0 -88.7,113.5" fill="none" stroke="#a0a0a0" stroke-width="0.9"/><path d="M -111.6,104.9 L -104.7,96.3" stroke="#c2c2c2" stroke-width="0.8"/><path d="M -106.1,108.3 L -99.2,99.7" stroke="#c2c2c2" stroke-width="0.8"/><path d="M -100.6,111.8 L -93.7,103.2" stroke="#c2c2c2" stroke-width="0.8"/><path d="M -95.1,115.2 L -88.2,106.6" stroke="#c2c2c2" stroke-width="0.8"/><path d="M -27.9,106.1 Q -17.4,100.0 0.1,123.6 Q -10.4,129.7 -27.9,106.1 Z" fill="#ececec" stroke="#939393" stroke-width="1"/><path d="M -25.3,107.0 Q -14.8,107.0 -2.6,122.7" fill="none" stroke="#a0a0a0" stroke-width="0.9"/><path d="M -25.8,114.0 L -18.8,105.3" stroke="#c2c2c2" stroke-width="0.8"/><path d="M -20.2,117.5 L -13.2,108.8" stroke="#c2c2c2" stroke-width="0.8"/><path d="M -14.6,121.0 L -7.6,112.2" stroke="#c2c2c2" stroke-width="0.8"/><path d="M -9.0,124.5 L -2.0,115.7" stroke="#c2c2c2" stroke-width="0.8"/><path d="M 73.2,113.9 Q 101.4,107.7 101.4,131.5 Q 73.2,137.7 73.2,113.9 Z" fill="#ececec" stroke="#939393" stroke-width="1"/><path d="M 75.8,114.7 Q 93.5,114.7 98.8,130.6" fill="none" stroke="#a0a0a0" stroke-width="0.9"/><path d="M 75.3,121.8 L 82.3,113.0" stroke="#c2c2c2" stroke-width="0.8"/><path d="M 80.9,125.3 L 88.0,116.5" stroke="#c2c2c2" stroke-width="0.8"/><path d="M 86.6,128.9 L 93.6,120.0" stroke="#c2c2c2" stroke-width="0.8"/><path d="M 92.2,132.4 L 99.3,123.6" stroke="#c2c2c2" stroke-width="0.8"/><path d="M 182.6,121.2 Q 193.3,114.9 211.2,139.1 Q 200.5,145.3 182.6,121.2 Z" fill="#ececec" stroke="#939393" stroke-width="1"/><path d="M 185.3,122.1 Q 196.0,122.1 208.5,138.2" fill="none" stroke="#a0a0a0" stroke-width="0.9"/><path d="M 184.8,129.2 L 191.9,120.3" stroke="#c2c2c2" stroke-width="0.8"/><path d="M 190.5,132.8 L 197.6,123.9" stroke="#c2c2c2" stroke-width="0.8"/><path d="M 196.2,136.4 L 203.3,127.5" stroke="#c2c2c2" stroke-width="0.8"/><path d="M 201.9,140.0 L 209.1,131.0" stroke="#c2c2c2" stroke-width="0.8"/><path d="M 284.5,130.6 Q 313.5,124.3 313.5,148.8 Q 284.5,155.1 284.5,130.6 Z" fill="#ececec" stroke="#939393" stroke-width="1"/><path d="M 287.2,131.5 Q 305.3,131.5 310.8,147.9" fill="none" stroke="#a0a0a0" stroke-width="0.9"/><path d="M 286.7,138.8 L 293.9,129.7" stroke="#c2c2c2" stroke-width="0.8"/><path d="M 292.5,142.4 L 299.7,133.4" stroke="#c2c2c2" stroke-width="0.8"/><path d="M 298.3,146.0 L 305.5,137.0" stroke="#c2c2c2" stroke-width="0.8"/><path d="M 304.1,149.7 L 311.3,140.6" stroke="#c2c2c2" stroke-width="0.8"/><path d="M 371.1,137.2 Q 382.1,130.8 400.4,155.5 Q 389.4,161.9 371.1,137.2 Z" fill="#ececec" stroke="#939393" stroke-width="1"/><path d="M 373.9,138.1 Q 384.9,138.1 397.7,154.6" fill="none" stroke="#a0a0a0" stroke-width="0.9"/><path d="M 373.3,145.4 L 380.6,136.3" stroke="#c2c2c2" stroke-width="0.8"/><path d="M 379.2,149.1 L 386.5,140.0" stroke="#c2c2c2" stroke-width="0.8"/><path d="M 385.0,152.8 L 392.4,143.6" stroke="#c2c2c2" stroke-width="0.8"/><path d="M 390.9,156.4 L 398.2,147.3" stroke="#c2c2c2" stroke-width="0.8"/><path d="M 451.6,137.9 Q 480.9,131.5 480.9,156.3 Q 451.6,162.7 451.6,137.9 Z" fill="#ececec" stroke="#939393" stroke-width="1"/><path d="M 454.3,138.9 Q 472.7,138.9 478.2,155.4" fill="none" stroke="#a0a0a0" stroke-width="0.9"/><path d="M 453.8,146.2 L 461.1,137.0" stroke="#c2c2c2" stroke-width="0.8"/><path d="M 459.7,149.9 L 467.0,140.7" stroke="#c2c2c2" stroke-width="0.8"/><path d="M 465.5,153.5 L 472.8,144.4" stroke="#c2c2c2" stroke-width="0.8"/><path d="M 471.4,157.2 L 478.7,148.0" stroke="#c2c2c2" stroke-width="0.8"/><path d="M 541.4,147.8 Q 552.6,141.3 571.2,166.4 Q 560.0,172.9 541.4,147.8 Z" fill="#ececec" stroke="#939393" stroke-width="1"/><path d="M 544.2,148.7 Q 555.4,148.7 568.4,165.4" fill="none" stroke="#a0a0a0" stroke-width="0.9"/><path d="M 543.7,156.1 L 551.1,146.8" stroke="#c2c2c2" stroke-width="0.8"/><path d="M 549.6,159.8 L 557.0,150.6" stroke="#c2c2c2" stroke-width="0.8"/><path d="M 555.5,163.6 L 563.0,154.3" stroke="#c2c2c2" stroke-width="0.8"/><path d="M 561.5,167.3 L 568.9,158.0" stroke="#c2c2c2" stroke-width="0.8"/><path d="M 646.1,161.4 Q 676.5,154.8 676.5,180.4 Q 646.1,187.0 646.1,161.4 Z" fill="#ececec" stroke="#939393" stroke-width="1"/><path d="M 649.0,162.4 Q 668.0,162.4 673.6,179.4" fill="none" stroke="#a0a0a0" stroke-width="0.9"/><path d="M 648.4,170.0 L 656.0,160.5" stroke="#c2c2c2" stroke-width="0.8"/><path d="M 654.5,173.8 L 662.1,164.3" stroke="#c2c2c2" stroke-width="0.8"/><path d="M 660.6,177.5 L 668.1,168.1" stroke="#c2c2c2" stroke-width="0.8"/><path d="M 666.6,181.3 L 674.2,171.9" stroke="#c2c2c2" stroke-width="0.8"/><path d="M 754.9,176.3 Q 766.5,169.5 785.9,195.6 Q 774.2,202.4 754.9,176.3 Z" fill="#ececec" stroke="#939393" stroke-width="1"/><path d="M 757.8,177.2 Q 769.4,177.2 783.0,194.7" fill="none" stroke="#a0a0a0" stroke-width="0.9"/><path d="M 757.2,185.0 L 764.9,175.3" stroke="#c2c2c2" stroke-width="0.8"/><path d="M 763.4,188.9 L 771.1,179.2" stroke="#c2c2c2" stroke-width="0.8"/><path d="M 769.6,192.7 L 777.3,183.0" stroke="#c2c2c2" stroke-width="0.8"/><path d="M 775.8,196.6 L 783.5,186.9" stroke="#c2c2c2" stroke-width="0.8"/><path d="M 852.2,193.8 Q 884.0,186.9 884.0,213.6 Q 852.2,220.6 852.2,193.8 Z" fill="#ececec" stroke="#939393" stroke-width="1"/><path d="M 855.2,194.8 Q 875.0,194.8 881.0,212.7" fill="none" stroke="#a0a0a0" stroke-width="0.9"/><path d="M 854.6,202.7 L 862.5,192.8" stroke="#c2c2c2" stroke-width="0.8"/><path d="M 860.9,206.7 L 868.9,196.8" stroke="#c2c2c2" stroke-width="0.8"/><path d="M 867.3,210.7 L 875.2,200.7" stroke="#c2c2c2" stroke-width="0.8"/><path d="M 873.6,214.6 L 881.6,204.7" stroke="#c2c2c2" stroke-width="0.8"/><path d="M 935.2,211.7 Q 947.4,204.6 967.8,232.1 Q 955.6,239.2 935.2,211.7 Z" fill="#ececec" stroke="#939393" stroke-width="1"/><path d="M 938.3,212.8 Q 950.5,212.8 964.7,231.1" fill="none" stroke="#a0a0a0" stroke-width="0.9"/><path d="M 937.7,220.9 L 945.8,210.7" stroke="#c2c2c2" stroke-width="0.8"/><path d="M 944.2,225.0 L 952.3,214.8" stroke="#c2c2c2" stroke-width="0.8"/><path d="M 950.7,229.0 L 958.8,218.9" stroke="#c2c2c2" stroke-width="0.8"/><path d="M 957.2,233.1 L 965.3,222.9" stroke="#c2c2c2" stroke-width="0.8"/><path d="M -69.0,130.9 Q -58.1,124.6 -40.0,149.1 Q -50.9,155.4 -69.0,130.9 Z" fill="#ececec" stroke="#939393" stroke-width="1"/><path d="M -66.3,131.8 Q -55.4,131.8 -42.7,148.2" fill="none" stroke="#a0a0a0" stroke-width="0.9"/><path d="M -66.8,139.1 L -59.6,130.0" stroke="#c2c2c2" stroke-width="0.8"/><path d="M -61.0,142.7 L -53.8,133.6" stroke="#c2c2c2" stroke-width="0.8"/><path d="M -55.2,146.3 L -48.0,137.3" stroke="#c2c2c2" stroke-width="0.8"/><path d="M -49.4,150.0 L -42.2,140.9" stroke="#c2c2c2" stroke-width="0.8"/><path d="M 40.5,136.4 Q 69.7,130.0 69.7,154.7 Q 40.5,161.1 40.5,136.4 Z" fill="#ececec" stroke="#939393" stroke-width="1"/><path d="M 43.2,137.4 Q 61.5,137.4 67.0,153.8" fill="none" stroke="#a0a0a0" stroke-width="0.9"/><path d="M 42.7,144.7 L 50.0,135.5" stroke="#c2c2c2" stroke-width="0.8"/><path d="M 48.5,148.3 L 55.8,139.2" stroke="#c2c2c2" stroke-width="0.8"/><path d="M 54.4,152.0 L 61.7,142.8" stroke="#c2c2c2" stroke-width="0.8"/><path d="M 60.2,155.6 L 67.5,146.5" stroke="#c2c2c2" stroke-width="0.8"/><path d="M 141.1,144.4 Q 152.2,137.9 170.6,162.9 Q 159.6,169.4 141.1,144.4 Z" fill="#ececec" stroke="#939393" stroke-width="1"/><path d="M 143.8,145.3 Q 154.9,145.3 167.9,162.0" fill="none" stroke="#a0a0a0" stroke-width="0.9"/><path d="M 143.3,152.7 L 150.7,143.5" stroke="#c2c2c2" stroke-width="0.8"/><path d="M 149.2,156.4 L 156.6,147.2" stroke="#c2c2c2" stroke-width="0.8"/><path d="M 155.1,160.1 L 162.5,150.9" stroke="#c2c2c2" stroke-width="0.8"/><path d="M 161.0,163.8 L 168.4,154.6" stroke="#c2c2c2" stroke-width="0.8"/><path d="M 226.6,149.2 Q 256.4,142.7 256.4,167.8 Q 226.6,174.3 226.6,149.2 Z" fill="#ececec" stroke="#939393" stroke-width="1"/><path d="M 229.4,150.1 Q 248.0,150.1 253.6,166.9" fill="none" stroke="#a0a0a0" stroke-width="0.9"/><path d="M 228.8,157.6 L 236.3,148.3" stroke="#c2c2c2" stroke-width="0.8"/><path d="M 234.8,161.3 L 242.2,152.0" stroke="#c2c2c2" stroke-width="0.8"/><path d="M 240.7,165.0 L 248.2,155.7" stroke="#c2c2c2" stroke-width="0.8"/><path d="M 246.7,168.7 L 254.1,159.4" stroke="#c2c2c2" stroke-width="0.8"/><path d="M 307.3,148.7 Q 318.5,142.2 337.1,167.3 Q 325.9,173.8 307.3,148.7 Z" fill="#ececec" stroke="#939393" stroke-width="1"/><path d="M 310.1,149.6 Q 321.3,149.6 334.3,166.4" fill="none" stroke="#a0a0a0" stroke-width="0.9"/><path d="M 309.5,157.1 L 317.0,147.7" stroke="#c2c2c2" stroke-width="0.8"/><path d="M 315.5,160.8 L 322.9,151.5" stroke="#c2c2c2" stroke-width="0.8"/><path d="M 321.5,164.5 L 328.9,155.2" stroke="#c2c2c2" stroke-width="0.8"/><path d="M 327.4,168.2 L 334.9,158.9" stroke="#c2c2c2" stroke-width="0.8"/><path d="M 398.6,157.1 Q 428.7,150.5 428.7,176.0 Q 398.6,182.6 398.6,157.1 Z" fill="#ececec" stroke="#939393" stroke-width="1"/><path d="M 401.4,158.1 Q 420.2,158.1 425.9,175.0" fill="none" stroke="#a0a0a0" stroke-width="0.9"/><path d="M 400.8,165.6 L 408.4,156.2" stroke="#c2c2c2" stroke-width="0.8"/><path d="M 406.9,169.4 L 414.4,160.0" stroke="#c2c2c2" stroke-width="0.8"/><path d="M 412.9,173.1 L 420.4,163.7" stroke="#c2c2c2" stroke-width="0.8"/><path d="M 418.9,176.9 L 426.5,167.5" stroke="#c2c2c2" stroke-width="0.8"/><path d="M 504.4,168.9 Q 515.8,162.2 535.0,188.1 Q 523.5,194.8 504.4,168.9 Z" fill="#ececec" stroke="#939393" stroke-width="1"/><path d="M 507.2,169.8 Q 518.7,169.8 532.1,187.1" fill="none" stroke="#a0a0a0" stroke-width="0.9"/><path d="M 506.7,177.5 L 514.3,167.9" stroke="#c2c2c2" stroke-width="0.8"/><path d="M 512.8,181.3 L 520.4,171.8" stroke="#c2c2c2" stroke-width="0.8"/><path d="M 518.9,185.2 L 526.6,175.6" stroke="#c2c2c2" stroke-width="0.8"/><path d="M 525.0,189.0 L 532.7,179.4" stroke="#c2c2c2" stroke-width="0.8"/><path d="M 612.6,181.9 Q 643.9,175.1 643.9,201.4 Q 612.6,208.3 612.6,181.9 Z" fill="#ececec" stroke="#939393" stroke-width="1"/><path d="M 615.6,182.9 Q 635.1,182.9 640.9,200.5" fill="none" stroke="#a0a0a0" stroke-width="0.9"/><path d="M 615.0,190.7 L 622.8,180.9" stroke="#c2c2c2" stroke-width="0.8"/><path d="M 621.2,194.6 L 629.0,184.8" stroke="#c2c2c2" stroke-width="0.8"/><path d="M 627.5,198.5 L 635.3,188.8" stroke="#c2c2c2" stroke-width="0.8"/><path d="M 633.7,202.4 L 641.5,192.7" stroke="#c2c2c2" stroke-width="0.8"/><path d="M 708.6,197.9 Q 720.5,191.0 740.5,217.9 Q 728.5,224.9 708.6,197.9 Z" fill="#ececec" stroke="#939393" stroke-width="1"/><path d="M 711.6,198.9 Q 723.5,198.9 737.5,216.9" fill="none" stroke="#a0a0a0" stroke-width="0.9"/><path d="M 711.0,206.9 L 718.9,196.9" stroke="#c2c2c2" stroke-width="0.8"/><path d="M 717.3,210.9 L 725.3,200.9" stroke="#c2c2c2" stroke-width="0.8"/><path d="M 723.7,214.9 L 731.7,204.9" stroke="#c2c2c2" stroke-width="0.8"/><path d="M 730.1,218.9 L 738.1,208.9" stroke="#c2c2c2" stroke-width="0.8"/><path d="M 790.8,214.3 Q 823.4,207.1 823.4,234.7 Q 790.8,241.8 790.8,214.3 Z" fill="#ececec" stroke="#939393" stroke-width="1"/><path d="M 793.9,215.3 Q 814.3,215.3 820.4,233.6" fill="none" stroke="#a0a0a0" stroke-width="0.9"/><path d="M 793.2,223.4 L 801.4,213.2" stroke="#c2c2c2" stroke-width="0.8"/><path d="M 799.8,227.5 L 807.9,217.3" stroke="#c2c2c2" stroke-width="0.8"/><path d="M 806.3,231.6 L 814.5,221.4" stroke="#c2c2c2" stroke-width="0.8"/><path d="M 812.8,235.7 L 821.0,225.5" stroke="#c2c2c2" stroke-width="0.8"/><path d="M 873.1,221.5 Q 885.5,214.3 906.1,242.1 Q 893.7,249.3 873.1,221.5 Z" fill="#ececec" stroke="#939393" stroke-width="1"/><path d="M 876.2,222.5 Q 888.5,222.5 903.0,241.1" fill="none" stroke="#a0a0a0" stroke-width="0.9"/><path d="M 875.6,230.8 L 883.8,220.5" stroke="#c2c2c2" stroke-width="0.8"/><path d="M 882.2,234.9 L 890.4,224.6" stroke="#c2c2c2" stroke-width="0.8"/><path d="M 888.8,239.0 L 897.0,228.7" stroke="#c2c2c2" stroke-width="0.8"/><path d="M 895.3,243.1 L 903.6,232.8" stroke="#c2c2c2" stroke-width="0.8"/><path d="M 968.9,233.4 Q 1002.4,226.1 1002.4,254.4 Q 968.9,261.7 968.9,233.4 Z" fill="#ececec" stroke="#939393" stroke-width="1"/><path d="M 972.0,234.5 Q 992.9,234.5 999.2,253.3" fill="none" stroke="#a0a0a0" stroke-width="0.9"/><path d="M 971.4,242.9 L 979.8,232.4" stroke="#c2c2c2" stroke-width="0.8"/><path d="M 978.1,247.0 L 986.5,236.6" stroke="#c2c2c2" stroke-width="0.8"/><path d="M 984.8,251.2 L 993.1,240.8" stroke="#c2c2c2" stroke-width="0.8"/><path d="M 991.5,255.4 L 999.8,245.0" stroke="#c2c2c2" stroke-width="0.8"/><path d="M -96.4,152.9 Q -66.4,146.3 -66.4,171.6 Q -96.4,178.1 -96.4,152.9 Z" fill="#ececec" stroke="#939393" stroke-width="1"/><path d="M -93.6,153.8 Q -74.9,153.8 -69.2,170.6" fill="none" stroke="#a0a0a0" stroke-width="0.9"/><path d="M -94.2,161.3 L -86.7,151.9" stroke="#c2c2c2" stroke-width="0.8"/><path d="M -88.2,165.0 L -80.7,155.7" stroke="#c2c2c2" stroke-width="0.8"/><path d="M -82.2,168.8 L -74.7,159.4" stroke="#c2c2c2" stroke-width="0.8"/><path d="M -76.2,172.5 L -68.7,163.2" stroke="#c2c2c2" stroke-width="0.8"/><path d="M -12.0,160.6 Q -0.7,154.0 18.3,179.6 Q 6.9,186.2 -12.0,160.6 Z" fill="#ececec" stroke="#939393" stroke-width="1"/><path d="M -9.2,161.6 Q 2.2,161.6 15.4,178.6" fill="none" stroke="#a0a0a0" stroke-width="0.9"/><path d="M -9.8,169.1 L -2.2,159.7" stroke="#c2c2c2" stroke-width="0.8"/><path d="M -3.7,172.9 L 3.9,163.5" stroke="#c2c2c2" stroke-width="0.8"/><path d="M 2.4,176.7 L 9.9,167.2" stroke="#c2c2c2" stroke-width="0.8"/><path d="M 8.4,180.5 L 16.0,171.0" stroke="#c2c2c2" stroke-width="0.8"/><path d="M 69.1,159.4 Q 99.4,152.7 99.4,178.3 Q 69.1,184.9 69.1,159.4 Z" fill="#ececec" stroke="#939393" stroke-width="1"/><path d="M 72.0,160.3 Q 90.9,160.3 96.5,177.3" fill="none" stroke="#a0a0a0" stroke-width="0.9"/><path d="M 71.4,167.9 L 79.0,158.4" stroke="#c2c2c2" stroke-width="0.8"/><path d="M 77.4,171.7 L 85.0,162.2" stroke="#c2c2c2" stroke-width="0.8"/><path d="M 83.5,175.4 L 91.1,166.0" stroke="#c2c2c2" stroke-width="0.8"/><path d="M 89.5,179.2 L 97.1,169.8" stroke="#c2c2c2" stroke-width="0.8"/><path d="M 162.0,161.7 Q 173.3,155.0 192.3,180.6 Q 180.9,187.3 162.0,161.7 Z" fill="#ececec" stroke="#939393" stroke-width="1"/><path d="M 164.8,162.6 Q 176.2,162.6 189.5,179.7" fill="none" stroke="#a0a0a0" stroke-width="0.9"/><path d="M 164.2,170.2 L 171.8,160.7" stroke="#c2c2c2" stroke-width="0.8"/><path d="M 170.3,174.0 L 177.9,164.5" stroke="#c2c2c2" stroke-width="0.8"/><path d="M 176.4,177.8 L 184.0,168.3" stroke="#c2c2c2" stroke-width="0.8"/><path d="M 182.4,181.6 L 190.0,172.1" stroke="#c2c2c2" stroke-width="0.8"/><path d="M 268.7,169.6 Q 299.4,162.9 299.4,188.8 Q 268.7,195.5 268.7,169.6 Z" fill="#ececec" stroke="#939393" stroke-width="1"/><path d="M 271.6,170.5 Q 290.8,170.5 296.5,187.8" fill="none" stroke="#a0a0a0" stroke-width="0.9"/><path d="M 271.0,178.2 L 278.7,168.6" stroke="#c2c2c2" stroke-width="0.8"/><path d="M 277.2,182.1 L 284.8,172.5" stroke="#c2c2c2" stroke-width="0.8"/><path d="M 283.3,185.9 L 291.0,176.3" stroke="#c2c2c2" stroke-width="0.8"/><path d="M 289.4,189.7 L 297.1,180.1" stroke="#c2c2c2" stroke-width="0.8"/><path d="M 376.5,179.1 Q 388.1,172.3 407.6,198.6 Q 395.9,205.4 376.5,179.1 Z" fill="#ececec" stroke="#939393" stroke-width="1"/><path d="M 379.4,180.1 Q 391.1,180.1 404.7,197.6" fill="none" stroke="#a0a0a0" stroke-width="0.9"/><path d="M 378.8,187.9 L 386.6,178.2" stroke="#c2c2c2" stroke-width="0.8"/><path d="M 385.0,191.8 L 392.8,182.0" stroke="#c2c2c2" stroke-width="0.8"/><path d="M 391.3,195.7 L 399.0,185.9" stroke="#c2c2c2" stroke-width="0.8"/><path d="M 397.5,199.5 L 405.2,189.8" stroke="#c2c2c2" stroke-width="0.8"/><path d="M 471.1,189.9 Q 502.6,183.0 502.6,209.7 Q 471.1,216.6 471.1,189.9 Z" fill="#ececec" stroke="#939393" stroke-width="1"/><path d="M 474.0,190.9 Q 493.7,190.9 499.7,208.7" fill="none" stroke="#a0a0a0" stroke-width="0.9"/><path d="M 473.4,198.8 L 481.3,188.9" stroke="#c2c2c2" stroke-width="0.8"/><path d="M 479.7,202.8 L 487.6,192.9" stroke="#c2c2c2" stroke-width="0.8"/><path d="M 486.1,206.7 L 493.9,196.8" stroke="#c2c2c2" stroke-width="0.8"/><path d="M 492.4,210.6 L 500.3,200.8" stroke="#c2c2c2" stroke-width="0.8"/><path d="M 552.6,206.2 Q 564.7,199.1 584.9,226.4 Q 572.7,233.4 552.6,206.2 Z" fill="#ececec" stroke="#939393" stroke-width="1"/><path d="M 555.6,207.2 Q 567.7,207.2 581.8,225.4" fill="none" stroke="#a0a0a0" stroke-width="0.9"/><path d="M 555.0,215.3 L 563.1,205.2" stroke="#c2c2c2" stroke-width="0.8"/><path d="M 561.4,219.3 L 569.5,209.2" stroke="#c2c2c2" stroke-width="0.8"/><path d="M 567.9,223.3 L 576.0,213.3" stroke="#c2c2c2" stroke-width="0.8"/><path d="M 574.4,227.4 L 582.4,217.3" stroke="#c2c2c2" stroke-width="0.8"/><path d="M 635.6,216.7 Q 668.4,209.5 668.4,237.1 Q 635.6,244.3 635.6,216.7 Z" fill="#ececec" stroke="#939393" stroke-width="1"/><path d="M 638.7,217.7 Q 659.2,217.7 665.3,236.1" fill="none" stroke="#a0a0a0" stroke-width="0.9"/><path d="M 638.1,225.9 L 646.3,215.7" stroke="#c2c2c2" stroke-width="0.8"/><path d="M 644.6,230.0 L 652.8,219.8" stroke="#c2c2c2" stroke-width="0.8"/><path d="M 651.2,234.1 L 659.4,223.8" stroke="#c2c2c2" stroke-width="0.8"/><path d="M 657.7,238.2 L 665.9,227.9" stroke="#c2c2c2" stroke-width="0.8"/><path d="M 732.9,226.6 Q 745.3,219.3 766.1,247.3 Q 753.6,254.6 732.9,226.6 Z" fill="#ececec" stroke="#939393" stroke-width="1"/><path d="M 736.0,227.6 Q 748.4,227.6 763.0,246.3" fill="none" stroke="#a0a0a0" stroke-width="0.9"/><path d="M 735.4,235.9 L 743.7,225.5" stroke="#c2c2c2" stroke-width="0.8"/><path d="M 742.0,240.0 L 750.3,229.7" stroke="#c2c2c2" stroke-width="0.8"/><path d="M 748.7,244.2 L 757.0,233.8" stroke="#c2c2c2" stroke-width="0.8"/><path d="M 755.3,248.3 L 763.6,238.0" stroke="#c2c2c2" stroke-width="0.8"/><path d="M 841.5,242.1 Q 875.4,234.6 875.4,263.2 Q 841.5,270.6 841.5,242.1 Z" fill="#ececec" stroke="#939393" stroke-width="1"/><path d="M 844.7,243.1 Q 865.9,243.1 872.2,262.2" fill="none" stroke="#a0a0a0" stroke-width="0.9"/><path d="M 844.1,251.6 L 852.5,241.0" stroke="#c2c2c2" stroke-width="0.8"/><path d="M 850.9,255.8 L 859.3,245.2" stroke="#c2c2c2" stroke-width="0.8"/><path d="M 857.6,260.0 L 866.1,249.5" stroke="#c2c2c2" stroke-width="0.8"/><path d="M 864.4,264.3 L 872.9,253.7" stroke="#c2c2c2" stroke-width="0.8"/><path d="M 946.4,257.3 Q 959.3,249.7 980.9,278.8 Q 968.0,286.4 946.4,257.3 Z" fill="#ececec" stroke="#939393" stroke-width="1"/><path d="M 949.6,258.3 Q 962.6,258.3 977.7,277.8" fill="none" stroke="#a0a0a0" stroke-width="0.9"/><path d="M 949.0,267.0 L 957.6,256.2" stroke="#c2c2c2" stroke-width="0.8"/><path d="M 955.9,271.3 L 964.5,260.5" stroke="#c2c2c2" stroke-width="0.8"/><path d="M 962.8,275.6 L 971.4,264.8" stroke="#c2c2c2" stroke-width="0.8"/><path d="M 969.7,279.9 L 978.3,269.1" stroke="#c2c2c2" stroke-width="0.8"/><path d="M -75.1,176.6 Q -63.5,169.8 -44.1,196.0 Q -55.7,202.7 -75.1,176.6 Z" fill="#ececec" stroke="#939393" stroke-width="1"/><path d="M -72.2,177.6 Q -60.6,177.6 -47.0,195.0" fill="none" stroke="#a0a0a0" stroke-width="0.9"/><path d="M -72.8,185.3 L -65.0,175.6" stroke="#c2c2c2" stroke-width="0.8"/><path d="M -66.6,189.2 L -58.8,179.5" stroke="#c2c2c2" stroke-width="0.8"/><path d="M -60.4,193.1 L -52.6,183.4" stroke="#c2c2c2" stroke-width="0.8"/><path d="M -54.2,196.9 L -46.4,187.2" stroke="#c2c2c2" stroke-width="0.8"/><path d="M 19.2,177.7 Q 50.3,170.9 50.3,197.1 Q 19.2,203.9 19.2,177.7 Z" fill="#ececec" stroke="#939393" stroke-width="1"/><path d="M 22.1,178.6 Q 41.5,178.6 47.4,196.1" fill="none" stroke="#a0a0a0" stroke-width="0.9"/><path d="M 21.5,186.4 L 29.3,176.7" stroke="#c2c2c2" stroke-width="0.8"/><path d="M 27.8,190.3 L 35.5,180.6" stroke="#c2c2c2" stroke-width="0.8"/><path d="M 34.0,194.2 L 41.7,184.5" stroke="#c2c2c2" stroke-width="0.8"/><path d="M 40.2,198.0 L 47.9,188.3" stroke="#c2c2c2" stroke-width="0.8"/><path d="M 126.8,183.9 Q 138.6,177.0 158.1,203.4 Q 146.4,210.3 126.8,183.9 Z" fill="#ececec" stroke="#939393" stroke-width="1"/><path d="M 129.7,184.8 Q 141.5,184.8 155.2,202.4" fill="none" stroke="#a0a0a0" stroke-width="0.9"/><path d="M 129.2,192.7 L 137.0,182.9" stroke="#c2c2c2" stroke-width="0.8"/><path d="M 135.4,196.6 L 143.3,186.8" stroke="#c2c2c2" stroke-width="0.8"/><path d="M 141.7,200.5 L 149.5,190.7" stroke="#c2c2c2" stroke-width="0.8"/><path d="M 148.0,204.4 L 155.8,194.6" stroke="#c2c2c2" stroke-width="0.8"/><path d="M 233.9,191.4 Q 265.5,184.5 265.5,211.2 Q 233.9,218.1 233.9,191.4 Z" fill="#ececec" stroke="#939393" stroke-width="1"/><path d="M 236.8,192.4 Q 256.6,192.4 262.5,210.2" fill="none" stroke="#a0a0a0" stroke-width="0.9"/><path d="M 236.2,200.3 L 244.1,190.4" stroke="#c2c2c2" stroke-width="0.8"/><path d="M 242.6,204.3 L 250.5,194.4" stroke="#c2c2c2" stroke-width="0.8"/><path d="M 248.9,208.2 L 256.8,198.3" stroke="#c2c2c2" stroke-width="0.8"/><path d="M 255.2,212.2 L 263.1,202.3" stroke="#c2c2c2" stroke-width="0.8"/><path d="M 327.0,200.5 Q 339.0,193.5 359.1,220.6 Q 347.0,227.6 327.0,200.5 Z" fill="#ececec" stroke="#939393" stroke-width="1"/><path d="M 330.0,201.5 Q 342.0,201.5 356.1,219.6" fill="none" stroke="#a0a0a0" stroke-width="0.9"/><path d="M 329.4,209.6 L 337.4,199.5" stroke="#c2c2c2" stroke-width="0.8"/><path d="M 335.8,213.6 L 343.8,203.5" stroke="#c2c2c2" stroke-width="0.8"/><path d="M 342.2,217.6 L 350.2,207.6" stroke="#c2c2c2" stroke-width="0.8"/><path d="M 348.6,221.6 L 356.7,211.6" stroke="#c2c2c2" stroke-width="0.8"/><path d="M 408.0,215.5 Q 440.7,208.3 440.7,235.9 Q 408.0,243.1 408.0,215.5 Z" fill="#ececec" stroke="#939393" stroke-width="1"/><path d="M 411.0,216.5 Q 431.5,216.5 437.6,234.9" fill="none" stroke="#a0a0a0" stroke-width="0.9"/><path d="M 410.4,224.7 L 418.6,214.5" stroke="#c2c2c2" stroke-width="0.8"/><path d="M 417.0,228.8 L 425.1,218.5" stroke="#c2c2c2" stroke-width="0.8"/><path d="M 423.5,232.8 L 431.7,222.6" stroke="#c2c2c2" stroke-width="0.8"/><path d="M 430.0,236.9 L 438.2,226.7" stroke="#c2c2c2" stroke-width="0.8"/><path d="M 492.0,224.4 Q 504.4,217.2 525.1,245.1 Q 512.7,252.3 492.0,224.4 Z" fill="#ececec" stroke="#939393" stroke-width="1"/><path d="M 495.1,225.4 Q 507.5,225.4 522.0,244.0" fill="none" stroke="#a0a0a0" stroke-width="0.9"/><path d="M 494.5,233.7 L 502.8,223.4" stroke="#c2c2c2" stroke-width="0.8"/><path d="M 501.1,237.8 L 509.4,227.5" stroke="#c2c2c2" stroke-width="0.8"/><path d="M 507.7,242.0 L 516.0,231.6" stroke="#c2c2c2" stroke-width="0.8"/><path d="M 514.3,246.1 L 522.6,235.8" stroke="#c2c2c2" stroke-width="0.8"/><path d="M 590.7,233.2 Q 624.2,225.9 624.2,254.1 Q 590.7,261.4 590.7,233.2 Z" fill="#ececec" stroke="#939393" stroke-width="1"/><path d="M 593.9,234.2 Q 614.8,234.2 621.1,253.0" fill="none" stroke="#a0a0a0" stroke-width="0.9"/><path d="M 593.2,242.6 L 601.6,232.1" stroke="#c2c2c2" stroke-width="0.8"/><path d="M 599.9,246.8 L 608.3,236.3" stroke="#c2c2c2" stroke-width="0.8"/><path d="M 606.6,251.0 L 615.0,240.5" stroke="#c2c2c2" stroke-width="0.8"/><path d="M 613.3,255.1 L 621.7,244.7" stroke="#c2c2c2" stroke-width="0.8"/><path d="M 699.8,247.0 Q 712.5,239.5 733.8,268.3 Q 721.1,275.7 699.8,247.0 Z" fill="#ececec" stroke="#939393" stroke-width="1"/><path d="M 703.0,248.0 Q 715.7,248.0 730.6,267.2" fill="none" stroke="#a0a0a0" stroke-width="0.9"/><path d="M 702.3,256.6 L 710.8,245.9" stroke="#c2c2c2" stroke-width="0.8"/><path d="M 709.1,260.8 L 717.7,250.2" stroke="#c2c2c2" stroke-width="0.8"/><path d="M 716.0,265.1 L 724.5,254.4" stroke="#c2c2c2" stroke-width="0.8"/><path d="M 722.8,269.3 L 731.3,258.7" stroke="#c2c2c2" stroke-width="0.8"/><path d="M 803.6,259.9 Q 838.2,252.4 838.2,281.6 Q 803.6,289.2 803.6,259.9 Z" fill="#ececec" stroke="#939393" stroke-width="1"/><path d="M 806.8,261.0 Q 828.5,261.0 835.0,280.5" fill="none" stroke="#a0a0a0" stroke-width="0.9"/><path d="M 806.2,269.7 L 814.8,258.9" stroke="#c2c2c2" stroke-width="0.8"/><path d="M 813.1,274.0 L 821.8,263.2" stroke="#c2c2c2" stroke-width="0.8"/><path d="M 820.0,278.3 L 828.7,267.5" stroke="#c2c2c2" stroke-width="0.8"/><path d="M 827.0,282.7 L 835.6,271.9" stroke="#c2c2c2" stroke-width="0.8"/><path d="M 892.3,269.4 Q 905.4,261.7 927.3,291.3 Q 914.2,299.0 892.3,269.4 Z" fill="#ececec" stroke="#939393" stroke-width="1"/><path d="M 895.6,270.5 Q 908.7,270.5 924.0,290.2" fill="none" stroke="#a0a0a0" stroke-width="0.9"/><path d="M 894.9,279.3 L 903.7,268.3" stroke="#c2c2c2" stroke-width="0.8"/><path d="M 901.9,283.6 L 910.7,272.7" stroke="#c2c2c2" stroke-width="0.8"/><path d="M 908.9,288.0 L 917.7,277.1" stroke="#c2c2c2" stroke-width="0.8"/><path d="M 915.9,292.4 L 924.7,281.5" stroke="#c2c2c2" stroke-width="0.8"/><path d="M 972.3,286.8 Q 1008.1,279.0 1008.1,309.2 Q 972.3,317.0 972.3,286.8 Z" fill="#ececec" stroke="#939393" stroke-width="1"/><path d="M 975.6,288.0 Q 998.0,288.0 1004.7,308.1" fill="none" stroke="#a0a0a0" stroke-width="0.9"/><path d="M 975.0,296.9 L 983.9,285.7" stroke="#c2c2c2" stroke-width="0.8"/><path d="M 982.1,301.4 L 991.1,290.2" stroke="#c2c2c2" stroke-width="0.8"/><path d="M 989.3,305.9 L 998.2,294.7" stroke="#c2c2c2" stroke-width="0.8"/><path d="M 996.4,310.3 L 1005.4,299.1" stroke="#c2c2c2" stroke-width="0.8"/><path d="M -109.1,199.9 Q -77.1,192.8 -77.1,219.9 Q -109.1,226.9 -109.1,199.9 Z" fill="#ececec" stroke="#939393" stroke-width="1"/><path d="M -106.1,200.9 Q -86.1,200.9 -80.1,218.9" fill="none" stroke="#a0a0a0" stroke-width="0.9"/><path d="M -106.7,208.9 L -98.7,198.9" stroke="#c2c2c2" stroke-width="0.8"/><path d="M -100.3,212.9 L -92.3,202.9" stroke="#c2c2c2" stroke-width="0.8"/><path d="M -93.9,216.9 L -85.9,206.9" stroke="#c2c2c2" stroke-width="0.8"/><path d="M -87.5,220.9 L -79.5,210.9" stroke="#c2c2c2" stroke-width="0.8"/><path d="M -2.9,203.6 Q 9.2,196.6 29.3,223.7 Q 17.2,230.8 -2.9,203.6 Z" fill="#ececec" stroke="#939393" stroke-width="1"/><path d="M 0.1,204.6 Q 12.2,204.6 26.3,222.7" fill="none" stroke="#a0a0a0" stroke-width="0.9"/><path d="M -0.5,212.7 L 7.6,202.6" stroke="#c2c2c2" stroke-width="0.8"/><path d="M 6.0,216.7 L 14.0,206.6" stroke="#c2c2c2" stroke-width="0.8"/><path d="M 12.4,220.7 L 20.5,210.7" stroke="#c2c2c2" stroke-width="0.8"/><path d="M 18.8,224.7 L 26.9,214.7" stroke="#c2c2c2" stroke-width="0.8"/><path d="M 89.0,205.9 Q 121.3,198.8 121.3,226.1 Q 89.0,233.1 89.0,205.9 Z" fill="#ececec" stroke="#939393" stroke-width="1"/><path d="M 92.0,206.9 Q 112.2,206.9 118.2,225.0" fill="none" stroke="#a0a0a0" stroke-width="0.9"/><path d="M 91.4,215.0 L 99.5,204.9" stroke="#c2c2c2" stroke-width="0.8"/><path d="M 97.9,219.0 L 105.9,208.9" stroke="#c2c2c2" stroke-width="0.8"/><path d="M 104.3,223.0 L 112.4,212.9" stroke="#c2c2c2" stroke-width="0.8"/><path d="M 110.8,227.1 L 118.8,217.0" stroke="#c2c2c2" stroke-width="0.8"/><path d="M 169.6,216.0 Q 181.9,208.9 202.3,236.5 Q 190.1,243.6 169.6,216.0 Z" fill="#ececec" stroke="#939393" stroke-width="1"/><path d="M 172.7,217.0 Q 184.9,217.0 199.3,235.4" fill="none" stroke="#a0a0a0" stroke-width="0.9"/><path d="M 172.1,225.2 L 180.2,215.0" stroke="#c2c2c2" stroke-width="0.8"/><path d="M 178.6,229.3 L 186.8,219.1" stroke="#c2c2c2" stroke-width="0.8"/><path d="M 185.2,233.4 L 193.3,223.2" stroke="#c2c2c2" stroke-width="0.8"/><path d="M 191.7,237.5 L 199.9,227.3" stroke="#c2c2c2" stroke-width="0.8"/><path d="M 254.6,227.5 Q 287.8,220.3 287.8,248.3 Q 254.6,255.6 254.6,227.5 Z" fill="#ececec" stroke="#939393" stroke-width="1"/><path d="M 257.7,228.6 Q 278.5,228.6 284.7,247.3" fill="none" stroke="#a0a0a0" stroke-width="0.9"/><path d="M 257.1,236.9 L 265.4,226.5" stroke="#c2c2c2" stroke-width="0.8"/><path d="M 263.7,241.0 L 272.1,230.7" stroke="#c2c2c2" stroke-width="0.8"/><path d="M 270.4,245.2 L 278.7,234.8" stroke="#c2c2c2" stroke-width="0.8"/><path d="M 277.0,249.3 L 285.3,239.0" stroke="#c2c2c2" stroke-width="0.8"/><path d="M 354.7,236.1 Q 367.3,228.7 388.3,257.1 Q 375.7,264.4 354.7,236.1 Z" fill="#ececec" stroke="#939393" stroke-width="1"/><path d="M 357.9,237.1 Q 370.5,237.1 385.2,256.0" fill="none" stroke="#a0a0a0" stroke-width="0.9"/><path d="M 357.3,245.5 L 365.7,235.0" stroke="#c2c2c2" stroke-width="0.8"/><path d="M 364.0,249.7 L 372.4,239.2" stroke="#c2c2c2" stroke-width="0.8"/><path d="M 370.7,253.9 L 379.1,243.4" stroke="#c2c2c2" stroke-width="0.8"/><path d="M 377.4,258.1 L 385.8,247.6" stroke="#c2c2c2" stroke-width="0.8"/><path d="M 464.1,247.0 Q 498.1,239.5 498.1,268.3 Q 464.1,275.7 464.1,247.0 Z" fill="#ececec" stroke="#939393" stroke-width="1"/><path d="M 467.3,248.0 Q 488.5,248.0 494.9,267.2" fill="none" stroke="#a0a0a0" stroke-width="0.9"/><path d="M 466.6,256.6 L 475.1,245.9" stroke="#c2c2c2" stroke-width="0.8"/><path d="M 473.4,260.8 L 481.9,250.2" stroke="#c2c2c2" stroke-width="0.8"/><path d="M 480.2,265.1 L 488.8,254.4" stroke="#c2c2c2" stroke-width="0.8"/><path d="M 487.1,269.3 L 495.6,258.7" stroke="#c2c2c2" stroke-width="0.8"/><path d="M 566.7,257.5 Q 579.7,249.9 601.3,279.0 Q 588.3,286.6 566.7,257.5 Z" fill="#ececec" stroke="#939393" stroke-width="1"/><path d="M 570.0,258.5 Q 582.9,258.5 598.0,278.0" fill="none" stroke="#a0a0a0" stroke-width="0.9"/><path d="M 569.3,267.2 L 578.0,256.4" stroke="#c2c2c2" stroke-width="0.8"/><path d="M 576.2,271.5 L 584.9,260.7" stroke="#c2c2c2" stroke-width="0.8"/><path d="M 583.1,275.8 L 591.8,265.0" stroke="#c2c2c2" stroke-width="0.8"/><path d="M 590.0,280.1 L 598.7,269.3" stroke="#c2c2c2" stroke-width="0.8"/><path d="M 654.2,262.5 Q 689.0,254.9 689.0,284.2 Q 654.2,291.8 654.2,262.5 Z" fill="#ececec" stroke="#939393" stroke-width="1"/><path d="M 657.5,263.5 Q 679.2,263.5 685.7,283.1" fill="none" stroke="#a0a0a0" stroke-width="0.9"/><path d="M 656.8,272.2 L 665.5,261.4" stroke="#c2c2c2" stroke-width="0.8"/><path d="M 663.8,276.6 L 672.5,265.7" stroke="#c2c2c2" stroke-width="0.8"/><path d="M 670.7,280.9 L 679.4,270.1" stroke="#c2c2c2" stroke-width="0.8"/><path d="M 677.7,285.3 L 686.4,274.4" stroke="#c2c2c2" stroke-width="0.8"/><path d="M 734.4,271.6 Q 747.6,263.9 769.6,293.6 Q 756.4,301.2 734.4,271.6 Z" fill="#ececec" stroke="#939393" stroke-width="1"/><path d="M 737.7,272.7 Q 750.9,272.7 766.3,292.5" fill="none" stroke="#a0a0a0" stroke-width="0.9"/><path d="M 737.1,281.5 L 745.8,270.5" stroke="#c2c2c2" stroke-width="0.8"/><path d="M 744.1,285.9 L 752.9,274.9" stroke="#c2c2c2" stroke-width="0.8"/><path d="M 751.1,290.3 L 759.9,279.3" stroke="#c2c2c2" stroke-width="0.8"/><path d="M 758.1,294.6 L 766.9,283.7" stroke="#c2c2c2" stroke-width="0.8"/><path d="M 823.2,289.6 Q 859.1,281.8 859.1,312.1 Q 823.2,319.9 823.2,289.6 Z" fill="#ececec" stroke="#939393" stroke-width="1"/><path d="M 826.5,290.7 Q 849.0,290.7 855.7,310.9" fill="none" stroke="#a0a0a0" stroke-width="0.9"/><path d="M 825.9,299.7 L 834.8,288.5" stroke="#c2c2c2" stroke-width="0.8"/><path d="M 833.0,304.2 L 842.0,293.0" stroke="#c2c2c2" stroke-width="0.8"/><path d="M 840.2,308.7 L 849.2,297.5" stroke="#c2c2c2" stroke-width="0.8"/><path d="M 847.4,313.2 L 856.4,302.0" stroke="#c2c2c2" stroke-width="0.8"/><path d="M 927.1,307.3 Q 940.8,299.3 963.8,330.2 Q 950.0,338.2 927.1,307.3 Z" fill="#ececec" stroke="#939393" stroke-width="1"/><path d="M 930.5,308.4 Q 944.3,308.4 960.3,329.1" fill="none" stroke="#a0a0a0" stroke-width="0.9"/><path d="M 929.8,317.6 L 939.0,306.1" stroke="#c2c2c2" stroke-width="0.8"/><path d="M 937.2,322.2 L 946.3,310.7" stroke="#c2c2c2" stroke-width="0.8"/><path d="M 944.5,326.8 L 953.7,315.3" stroke="#c2c2c2" stroke-width="0.8"/><path d="M 951.8,331.4 L 961.0,319.9" stroke="#c2c2c2" stroke-width="0.8"/><path d="M -55.4,222.9 Q -43.0,215.7 -22.4,243.5 Q -34.8,250.7 -55.4,222.9 Z" fill="#ececec" stroke="#939393" stroke-width="1"/><path d="M -52.3,223.9 Q -39.9,223.9 -25.5,242.5" fill="none" stroke="#a0a0a0" stroke-width="0.9"/><path d="M -52.9,232.2 L -44.7,221.8" stroke="#c2c2c2" stroke-width="0.8"/><path d="M -46.3,236.3 L -38.1,226.0" stroke="#c2c2c2" stroke-width="0.8"/><path d="M -39.7,240.4 L -31.5,230.1" stroke="#c2c2c2" stroke-width="0.8"/><path d="M -33.1,244.5 L -24.9,234.2" stroke="#c2c2c2" stroke-width="0.8"/><path d="M 24.9,231.9 Q 58.4,224.6 58.4,252.8 Q 24.9,260.1 24.9,231.9 Z" fill="#ececec" stroke="#939393" stroke-width="1"/><path d="M 28.1,233.0 Q 49.0,233.0 55.2,251.8" fill="none" stroke="#a0a0a0" stroke-width="0.9"/><path d="M 27.5,241.3 L 35.8,230.9" stroke="#c2c2c2" stroke-width="0.8"/><path d="M 34.1,245.5 L 42.5,235.1" stroke="#c2c2c2" stroke-width="0.8"/><path d="M 40.8,249.7 L 49.2,239.2" stroke="#c2c2c2" stroke-width="0.8"/><path d="M 47.5,253.9 L 55.9,243.4" stroke="#c2c2c2" stroke-width="0.8"/><path d="M 111.1,241.8 Q 123.8,234.4 145.0,262.9 Q 132.3,270.3 111.1,241.8 Z" fill="#ececec" stroke="#939393" stroke-width="1"/><path d="M 114.3,242.8 Q 127.0,242.8 141.8,261.9" fill="none" stroke="#a0a0a0" stroke-width="0.9"/><path d="M 113.7,251.3 L 122.1,240.7" stroke="#c2c2c2" stroke-width="0.8"/><path d="M 120.4,255.5 L 128.9,244.9" stroke="#c2c2c2" stroke-width="0.8"/><path d="M 127.2,259.8 L 135.7,249.2" stroke="#c2c2c2" stroke-width="0.8"/><path d="M 134.0,264.0 L 142.4,253.4" stroke="#c2c2c2" stroke-width="0.8"/><path d="M 212.6,248.8 Q 246.8,241.4 246.8,270.2 Q 212.6,277.7 212.6,248.8 Z" fill="#ececec" stroke="#939393" stroke-width="1"/><path d="M 215.8,249.9 Q 237.2,249.9 243.6,269.1" fill="none" stroke="#a0a0a0" stroke-width="0.9"/><path d="M 215.2,258.4 L 223.7,247.8" stroke="#c2c2c2" stroke-width="0.8"/><path d="M 222.0,262.7 L 230.5,252.0" stroke="#c2c2c2" stroke-width="0.8"/><path d="M 228.8,267.0 L 237.4,256.3" stroke="#c2c2c2" stroke-width="0.8"/><path d="M 235.7,271.3 L 244.2,260.6" stroke="#c2c2c2" stroke-width="0.8"/><path d="M 322.1,257.9 Q 335.0,250.4 356.6,279.5 Q 343.6,287.1 322.1,257.9 Z" fill="#ececec" stroke="#939393" stroke-width="1"/><path d="M 325.3,259.0 Q 338.2,259.0 353.4,278.4" fill="none" stroke="#a0a0a0" stroke-width="0.9"/><path d="M 324.6,267.6 L 333.3,256.8" stroke="#c2c2c2" stroke-width="0.8"/><path d="M 331.6,272.0 L 340.2,261.2" stroke="#c2c2c2" stroke-width="0.8"/><path d="M 338.5,276.3 L 347.1,265.5" stroke="#c2c2c2" stroke-width="0.8"/><path d="M 345.4,280.6 L 354.0,269.8" stroke="#c2c2c2" stroke-width="0.8"/><path d="M 423.5,266.4 Q 458.4,258.8 458.4,288.3 Q 423.5,295.9 423.5,266.4 Z" fill="#ececec" stroke="#939393" stroke-width="1"/><path d="M 426.8,267.5 Q 448.6,267.5 455.1,287.2" fill="none" stroke="#a0a0a0" stroke-width="0.9"/><path d="M 426.1,276.3 L 434.8,265.3" stroke="#c2c2c2" stroke-width="0.8"/><path d="M 433.1,280.6 L 441.8,269.7" stroke="#c2c2c2" stroke-width="0.8"/><path d="M 440.1,285.0 L 448.8,274.1" stroke="#c2c2c2" stroke-width="0.8"/><path d="M 447.1,289.4 L 455.8,278.4" stroke="#c2c2c2" stroke-width="0.8"/><path d="M 509.8,269.5 Q 523.0,261.9 544.9,291.4 Q 531.7,299.1 509.8,269.5 Z" fill="#ececec" stroke="#939393" stroke-width="1"/><path d="M 513.1,270.6 Q 526.2,270.6 541.6,290.3" fill="none" stroke="#a0a0a0" stroke-width="0.9"/><path d="M 512.4,279.4 L 521.2,268.4" stroke="#c2c2c2" stroke-width="0.8"/><path d="M 519.5,283.8 L 528.2,272.8" stroke="#c2c2c2" stroke-width="0.8"/><path d="M 526.5,288.2 L 535.2,277.2" stroke="#c2c2c2" stroke-width="0.8"/><path d="M 533.5,292.5 L 542.2,281.6" stroke="#c2c2c2" stroke-width="0.8"/><path d="M 590.2,277.7 Q 625.6,270.0 625.6,299.8 Q 590.2,307.6 590.2,277.7 Z" fill="#ececec" stroke="#939393" stroke-width="1"/><path d="M 593.5,278.8 Q 615.6,278.8 622.3,298.7" fill="none" stroke="#a0a0a0" stroke-width="0.9"/><path d="M 592.8,287.7 L 601.7,276.6" stroke="#c2c2c2" stroke-width="0.8"/><path d="M 599.9,292.1 L 608.8,281.0" stroke="#c2c2c2" stroke-width="0.8"/><path d="M 607.0,296.5 L 615.9,285.4" stroke="#c2c2c2" stroke-width="0.8"/><path d="M 614.1,300.9 L 622.9,289.9" stroke="#c2c2c2" stroke-width="0.8"/><path d="M 680.3,294.1 Q 693.9,286.2 716.5,316.7 Q 702.9,324.6 680.3,294.1 Z" fill="#ececec" stroke="#939393" stroke-width="1"/><path d="M 683.7,295.2 Q 697.3,295.2 713.1,315.5" fill="none" stroke="#a0a0a0" stroke-width="0.9"/><path d="M 683.0,304.3 L 692.1,293.0" stroke="#c2c2c2" stroke-width="0.8"/><path d="M 690.3,308.8 L 699.3,297.5" stroke="#c2c2c2" stroke-width="0.8"/><path d="M 697.5,313.3 L 706.5,302.0" stroke="#c2c2c2" stroke-width="0.8"/><path d="M 704.7,317.8 L 713.7,306.5" stroke="#c2c2c2" stroke-width="0.8"/><path d="M 785.4,309.9 Q 822.2,301.9 822.2,332.9 Q 785.4,341.0 785.4,309.9 Z" fill="#ececec" stroke="#939393" stroke-width="1"/><path d="M 788.8,311.1 Q 811.8,311.1 818.7,331.8" fill="none" stroke="#a0a0a0" stroke-width="0.9"/><path d="M 788.1,320.3 L 797.3,308.8" stroke="#c2c2c2" stroke-width="0.8"/><path d="M 795.5,324.9 L 804.7,313.4" stroke="#c2c2c2" stroke-width="0.8"/><path d="M 802.9,329.5 L 812.1,318.0" stroke="#c2c2c2" stroke-width="0.8"/><path d="M 810.2,334.1 L 819.4,322.6" stroke="#c2c2c2" stroke-width="0.8"/><path d="M 893.9,326.6 Q 908.0,318.4 931.4,350.1 Q 917.4,358.3 893.9,326.6 Z" fill="#ececec" stroke="#939393" stroke-width="1"/><path d="M 897.4,327.8 Q 911.5,327.8 927.9,348.9" fill="none" stroke="#a0a0a0" stroke-width="0.9"/><path d="M 896.7,337.2 L 906.1,325.5" stroke="#c2c2c2" stroke-width="0.8"/><path d="M 904.2,341.9 L 913.6,330.2" stroke="#c2c2c2" stroke-width="0.8"/><path d="M 911.7,346.6 L 921.1,334.8" stroke="#c2c2c2" stroke-width="0.8"/><path d="M 919.2,351.3 L 928.6,339.5" stroke="#c2c2c2" stroke-width="0.8"/><path d="M 990.8,344.7 Q 1029.1,336.3 1029.1,368.6 Q 990.8,377.0 990.8,344.7 Z" fill="#ececec" stroke="#939393" stroke-width="1"/><path d="M 994.3,345.9 Q 1018.3,345.9 1025.5,367.4" fill="none" stroke="#a0a0a0" stroke-width="0.9"/><path d="M 993.6,355.5 L 1003.2,343.5" stroke="#c2c2c2" stroke-width="0.8"/><path d="M 1001.3,360.3 L 1010.9,348.3" stroke="#c2c2c2" stroke-width="0.8"/><path d="M 1009.0,365.0 L 1018.5,353.1" stroke="#c2c2c2" stroke-width="0.8"/><path d="M 1016.6,369.8 L 1026.2,357.9" stroke="#c2c2c2" stroke-width="0.8"/><path d="M -126.1,251.8 Q -91.9,244.3 -91.9,273.2 Q -126.1,280.7 -126.1,251.8 Z" fill="#ececec" stroke="#939393" stroke-width="1"/><path d="M -122.9,252.9 Q -101.5,252.9 -95.1,272.2" fill="none" stroke="#a0a0a0" stroke-width="0.9"/><path d="M -123.6,261.4 L -115.0,250.7" stroke="#c2c2c2" stroke-width="0.8"/><path d="M -116.7,265.7 L -108.1,255.0" stroke="#c2c2c2" stroke-width="0.8"/><path d="M -109.9,270.0 L -101.3,259.3" stroke="#c2c2c2" stroke-width="0.8"/><path d="M -103.0,274.3 L -94.4,263.6" stroke="#c2c2c2" stroke-width="0.8"/><path d="M -23.4,257.8 Q -10.4,250.2 11.2,279.3 Q -1.8,286.9 -23.4,257.8 Z" fill="#ececec" stroke="#939393" stroke-width="1"/><path d="M -20.1,258.8 Q -7.2,258.8 7.9,278.3" fill="none" stroke="#a0a0a0" stroke-width="0.9"/><path d="M -20.8,267.5 L -12.1,256.7" stroke="#c2c2c2" stroke-width="0.8"/><path d="M -13.9,271.8 L -5.2,261.0" stroke="#c2c2c2" stroke-width="0.8"/><path d="M -6.9,276.1 L 1.7,265.3" stroke="#c2c2c2" stroke-width="0.8"/><path d="M -0.0,280.4 L 8.6,269.6" stroke="#c2c2c2" stroke-width="0.8"/><path d="M 86.1,263.9 Q 120.9,256.3 120.9,285.6 Q 86.1,293.2 86.1,263.9 Z" fill="#ececec" stroke="#939393" stroke-width="1"/><path d="M 89.3,265.0 Q 111.1,265.0 117.6,284.5" fill="none" stroke="#a0a0a0" stroke-width="0.9"/><path d="M 88.7,273.7 L 97.4,262.8" stroke="#c2c2c2" stroke-width="0.8"/><path d="M 95.6,278.0 L 104.3,267.1" stroke="#c2c2c2" stroke-width="0.8"/><path d="M 102.6,282.4 L 111.3,271.5" stroke="#c2c2c2" stroke-width="0.8"/><path d="M 109.6,286.7 L 118.3,275.8" stroke="#c2c2c2" stroke-width="0.8"/><path d="M 186.2,271.7 Q 199.4,264.1 221.3,293.7 Q 208.2,301.4 186.2,271.7 Z" fill="#ececec" stroke="#939393" stroke-width="1"/><path d="M 189.5,272.8 Q 202.7,272.8 218.1,292.6" fill="none" stroke="#a0a0a0" stroke-width="0.9"/><path d="M 188.8,281.6 L 197.6,270.7" stroke="#c2c2c2" stroke-width="0.8"/><path d="M 195.9,286.0 L 204.7,275.0" stroke="#c2c2c2" stroke-width="0.8"/><path d="M 202.9,290.4 L 211.7,279.4" stroke="#c2c2c2" stroke-width="0.8"/><path d="M 209.9,294.8 L 218.7,283.8" stroke="#c2c2c2" stroke-width="0.8"/><path d="M 271.4,275.0 Q 306.7,267.3 306.7,297.0 Q 271.4,304.8 271.4,275.0 Z" fill="#ececec" stroke="#939393" stroke-width="1"/><path d="M 274.7,276.1 Q 296.7,276.1 303.4,295.9" fill="none" stroke="#a0a0a0" stroke-width="0.9"/><path d="M 274.0,284.9 L 282.8,273.9" stroke="#c2c2c2" stroke-width="0.8"/><path d="M 281.1,289.3 L 289.9,278.3" stroke="#c2c2c2" stroke-width="0.8"/><path d="M 288.1,293.7 L 297.0,282.7" stroke="#c2c2c2" stroke-width="0.8"/><path d="M 295.2,298.1 L 304.0,287.1" stroke="#c2c2c2" stroke-width="0.8"/><path d="M 352.2,275.9 Q 365.5,268.1 387.5,297.9 Q 374.3,305.7 352.2,275.9 Z" fill="#ececec" stroke="#939393" stroke-width="1"/><path d="M 355.5,277.0 Q 368.8,277.0 384.2,296.8" fill="none" stroke="#a0a0a0" stroke-width="0.9"/><path d="M 354.9,285.8 L 363.7,274.8" stroke="#c2c2c2" stroke-width="0.8"/><path d="M 361.9,290.2 L 370.8,279.2" stroke="#c2c2c2" stroke-width="0.8"/><path d="M 369.0,294.6 L 377.8,283.6" stroke="#c2c2c2" stroke-width="0.8"/><path d="M 376.1,299.0 L 384.9,288.0" stroke="#c2c2c2" stroke-width="0.8"/><path d="M 443.9,286.5 Q 479.7,278.6 479.7,308.8 Q 443.9,316.7 443.9,286.5 Z" fill="#ececec" stroke="#939393" stroke-width="1"/><path d="M 447.3,287.6 Q 469.6,287.6 476.3,307.7" fill="none" stroke="#a0a0a0" stroke-width="0.9"/><path d="M 446.6,296.5 L 455.5,285.3" stroke="#c2c2c2" stroke-width="0.8"/><path d="M 453.7,301.0 L 462.7,289.8" stroke="#c2c2c2" stroke-width="0.8"/><path d="M 460.9,305.5 L 469.8,294.3" stroke="#c2c2c2" stroke-width="0.8"/><path d="M 468.1,309.9 L 477.0,298.8" stroke="#c2c2c2" stroke-width="0.8"/><path d="M 550.0,299.0 Q 563.6,291.1 586.3,321.7 Q 572.7,329.7 550.0,299.0 Z" fill="#ececec" stroke="#939393" stroke-width="1"/><path d="M 553.4,300.2 Q 567.0,300.2 582.9,320.6" fill="none" stroke="#a0a0a0" stroke-width="0.9"/><path d="M 552.7,309.3 L 561.8,297.9" stroke="#c2c2c2" stroke-width="0.8"/><path d="M 560.0,313.8 L 569.1,302.4" stroke="#c2c2c2" stroke-width="0.8"/><path d="M 567.2,318.3 L 576.3,307.0" stroke="#c2c2c2" stroke-width="0.8"/><path d="M 574.5,322.9 L 583.6,311.5" stroke="#c2c2c2" stroke-width="0.8"/><path d="M 658.1,312.8 Q 695.0,304.7 695.0,335.9 Q 658.1,344.0 658.1,312.8 Z" fill="#ececec" stroke="#939393" stroke-width="1"/><path d="M 661.5,313.9 Q 684.6,313.9 691.5,334.7" fill="none" stroke="#a0a0a0" stroke-width="0.9"/><path d="M 660.8,323.2 L 670.1,311.6" stroke="#c2c2c2" stroke-width="0.8"/><path d="M 668.2,327.8 L 677.5,316.3" stroke="#c2c2c2" stroke-width="0.8"/><path d="M 675.6,332.4 L 684.8,320.9" stroke="#c2c2c2" stroke-width="0.8"/><path d="M 683.0,337.0 L 692.2,325.5" stroke="#c2c2c2" stroke-width="0.8"/><path d="M 753.5,329.6 Q 767.6,321.4 791.1,353.2 Q 777.0,361.4 753.5,329.6 Z" fill="#ececec" stroke="#939393" stroke-width="1"/><path d="M 757.0,330.8 Q 771.1,330.8 787.6,352.0" fill="none" stroke="#a0a0a0" stroke-width="0.9"/><path d="M 756.3,340.2 L 765.7,328.5" stroke="#c2c2c2" stroke-width="0.8"/><path d="M 763.8,344.9 L 773.3,333.2" stroke="#c2c2c2" stroke-width="0.8"/><path d="M 771.4,349.7 L 780.8,337.9" stroke="#c2c2c2" stroke-width="0.8"/><path d="M 778.9,354.4 L 788.3,342.6" stroke="#c2c2c2" stroke-width="0.8"/><path d="M 835.5,344.4 Q 873.8,336.0 873.8,368.4 Q 835.5,376.7 835.5,344.4 Z" fill="#ececec" stroke="#939393" stroke-width="1"/><path d="M 839.1,345.6 Q 863.0,345.6 870.2,367.2" fill="none" stroke="#a0a0a0" stroke-width="0.9"/><path d="M 838.4,355.2 L 847.9,343.2" stroke="#c2c2c2" stroke-width="0.8"/><path d="M 846.0,360.0 L 855.6,348.0" stroke="#c2c2c2" stroke-width="0.8"/><path d="M 853.7,364.8 L 863.3,352.8" stroke="#c2c2c2" stroke-width="0.8"/><path d="M 861.3,369.6 L 870.9,357.6" stroke="#c2c2c2" stroke-width="0.8"/><path d="M 918.1,350.9 Q 932.5,342.5 956.7,375.0 Q 942.2,383.5 918.1,350.9 Z" fill="#ececec" stroke="#939393" stroke-width="1"/><path d="M 921.7,352.1 Q 936.2,352.1 953.0,373.8" fill="none" stroke="#a0a0a0" stroke-width="0.9"/><path d="M 921.0,361.8 L 930.6,349.7" stroke="#c2c2c2" stroke-width="0.8"/><path d="M 928.7,366.6 L 938.3,354.5" stroke="#c2c2c2" stroke-width="0.8"/><path d="M 936.4,371.4 L 946.0,359.4" stroke="#c2c2c2" stroke-width="0.8"/><path d="M 944.1,376.2 L 953.8,364.2" stroke="#c2c2c2" stroke-width="0.8"/><path d="M -56.2,280.8 Q -42.9,273.0 -20.7,303.0 Q -34.0,310.8 -56.2,280.8 Z" fill="#ececec" stroke="#939393" stroke-width="1"/><path d="M -52.9,281.9 Q -39.6,281.9 -24.0,301.9" fill="none" stroke="#a0a0a0" stroke-width="0.9"/><path d="M -53.6,290.8 L -44.7,279.7" stroke="#c2c2c2" stroke-width="0.8"/><path d="M -46.4,295.2 L -37.6,284.1" stroke="#c2c2c2" stroke-width="0.8"/><path d="M -39.3,299.7 L -30.5,288.5" stroke="#c2c2c2" stroke-width="0.8"/><path d="M -32.2,304.1 L -23.3,293.0" stroke="#c2c2c2" stroke-width="0.8"/><path d="M 42.5,287.1 Q 78.4,279.3 78.4,309.5 Q 42.5,317.3 42.5,287.1 Z" fill="#ececec" stroke="#939393" stroke-width="1"/><path d="M 45.9,288.2 Q 68.3,288.2 75.0,308.4" fill="none" stroke="#a0a0a0" stroke-width="0.9"/><path d="M 45.2,297.2 L 54.2,286.0" stroke="#c2c2c2" stroke-width="0.8"/><path d="M 52.4,301.7 L 61.4,290.5" stroke="#c2c2c2" stroke-width="0.8"/><path d="M 59.6,306.2 L 68.5,295.0" stroke="#c2c2c2" stroke-width="0.8"/><path d="M 66.7,310.6 L 75.7,299.4" stroke="#c2c2c2" stroke-width="0.8"/><path d="M 126.7,288.5 Q 140.2,280.7 162.6,311.0 Q 149.1,318.8 126.7,288.5 Z" fill="#ececec" stroke="#939393" stroke-width="1"/><path d="M 130.1,289.7 Q 143.5,289.7 159.2,309.8" fill="none" stroke="#a0a0a0" stroke-width="0.9"/><path d="M 129.4,298.6 L 138.4,287.4" stroke="#c2c2c2" stroke-width="0.8"/><path d="M 136.6,303.1 L 145.6,291.9" stroke="#c2c2c2" stroke-width="0.8"/><path d="M 143.8,307.6 L 152.7,296.4" stroke="#c2c2c2" stroke-width="0.8"/><path d="M 150.9,312.1 L 159.9,300.9" stroke="#c2c2c2" stroke-width="0.8"/><path d="M 208.0,288.3 Q 243.9,280.5 243.9,310.8 Q 208.0,318.6 208.0,288.3 Z" fill="#ececec" stroke="#939393" stroke-width="1"/><path d="M 211.4,289.5 Q 233.8,289.5 240.5,309.6" fill="none" stroke="#a0a0a0" stroke-width="0.9"/><path d="M 210.7,298.4 L 219.7,287.2" stroke="#c2c2c2" stroke-width="0.8"/><path d="M 217.9,302.9 L 226.9,291.7" stroke="#c2c2c2" stroke-width="0.8"/><path d="M 225.1,307.4 L 234.0,296.2" stroke="#c2c2c2" stroke-width="0.8"/><path d="M 232.2,311.9 L 241.2,300.7" stroke="#c2c2c2" stroke-width="0.8"/><path d="M 301.2,297.4 Q 314.8,289.4 337.5,320.0 Q 323.9,328.0 301.2,297.4 Z" fill="#ececec" stroke="#939393" stroke-width="1"/><path d="M 304.6,298.5 Q 318.2,298.5 334.1,318.9" fill="none" stroke="#a0a0a0" stroke-width="0.9"/><path d="M 303.9,307.6 L 313.0,296.2" stroke="#c2c2c2" stroke-width="0.8"/><path d="M 311.2,312.1 L 320.2,300.8" stroke="#c2c2c2" stroke-width="0.8"/><path d="M 318.4,316.6 L 327.5,305.3" stroke="#c2c2c2" stroke-width="0.8"/><path d="M 325.7,321.2 L 334.7,309.8" stroke="#c2c2c2" stroke-width="0.8"/><path d="M 408.2,308.0 Q 444.9,300.0 444.9,330.9 Q 408.2,339.0 408.2,308.0 Z" fill="#ececec" stroke="#939393" stroke-width="1"/><path d="M 411.6,309.1 Q 434.6,309.1 441.5,329.8" fill="none" stroke="#a0a0a0" stroke-width="0.9"/><path d="M 410.9,318.3 L 420.1,306.8" stroke="#c2c2c2" stroke-width="0.8"/><path d="M 418.3,322.9 L 427.5,311.4" stroke="#c2c2c2" stroke-width="0.8"/><path d="M 425.6,327.5 L 434.8,316.0" stroke="#c2c2c2" stroke-width="0.8"/><path d="M 433.0,332.1 L 442.2,320.6" stroke="#c2c2c2" stroke-width="0.8"/><path d="M 515.6,320.0 Q 529.6,311.8 552.9,343.3 Q 538.9,351.4 515.6,320.0 Z" fill="#ececec" stroke="#939393" stroke-width="1"/><path d="M 519.1,321.2 Q 533.1,321.2 549.4,342.1" fill="none" stroke="#a0a0a0" stroke-width="0.9"/><path d="M 518.4,330.5 L 527.7,318.8" stroke="#c2c2c2" stroke-width="0.8"/><path d="M 525.9,335.1 L 535.2,323.5" stroke="#c2c2c2" stroke-width="0.8"/><path d="M 533.3,339.8 L 542.6,328.1" stroke="#c2c2c2" stroke-width="0.8"/><path d="M 540.8,344.4 L 550.1,332.8" stroke="#c2c2c2" stroke-width="0.8"/><path d="M 609.6,335.4 Q 647.5,327.1 647.5,359.1 Q 609.6,367.4 609.6,335.4 Z" fill="#ececec" stroke="#939393" stroke-width="1"/><path d="M 613.2,336.6 Q 636.9,336.6 644.0,357.9" fill="none" stroke="#a0a0a0" stroke-width="0.9"/><path d="M 612.5,346.1 L 621.9,334.2" stroke="#c2c2c2" stroke-width="0.8"/><path d="M 620.0,350.8 L 629.5,339.0" stroke="#c2c2c2" stroke-width="0.8"/><path d="M 627.6,355.6 L 637.1,343.7" stroke="#c2c2c2" stroke-width="0.8"/><path d="M 635.2,360.3 L 644.7,348.5" stroke="#c2c2c2" stroke-width="0.8"/><path d="M 691.0,348.5 Q 705.4,340.0 729.5,372.5 Q 715.1,380.9 691.0,348.5 Z" fill="#ececec" stroke="#939393" stroke-width="1"/><path d="M 694.6,349.7 Q 709.0,349.7 725.9,371.3" fill="none" stroke="#a0a0a0" stroke-width="0.9"/><path d="M 693.9,359.3 L 703.5,347.3" stroke="#c2c2c2" stroke-width="0.8"/><path d="M 701.6,364.1 L 711.2,352.1" stroke="#c2c2c2" stroke-width="0.8"/><path d="M 709.3,368.9 L 718.9,356.9" stroke="#c2c2c2" stroke-width="0.8"/><path d="M 717.0,373.7 L 726.6,361.7" stroke="#c2c2c2" stroke-width="0.8"/><path d="M 774.5,353.7 Q 813.2,345.2 813.2,377.9 Q 774.5,386.4 774.5,353.7 Z" fill="#ececec" stroke="#939393" stroke-width="1"/><path d="M 778.1,354.9 Q 802.3,354.9 809.6,376.7" fill="none" stroke="#a0a0a0" stroke-width="0.9"/><path d="M 777.4,364.6 L 787.0,352.5" stroke="#c2c2c2" stroke-width="0.8"/><path d="M 785.1,369.4 L 794.8,357.3" stroke="#c2c2c2" stroke-width="0.8"/><path d="M 792.9,374.3 L 802.5,362.2" stroke="#c2c2c2" stroke-width="0.8"/><path d="M 800.6,379.1 L 810.3,367.0" stroke="#c2c2c2" stroke-width="0.8"/><path d="M 872.2,365.9 Q 886.9,357.3 911.4,390.4 Q 896.7,399.0 872.2,365.9 Z" fill="#ececec" stroke="#939393" stroke-width="1"/><path d="M 875.9,367.1 Q 890.6,367.1 907.7,389.2" fill="none" stroke="#a0a0a0" stroke-width="0.9"/><path d="M 875.1,376.9 L 884.9,364.6" stroke="#c2c2c2" stroke-width="0.8"/><path d="M 883.0,381.8 L 892.8,369.6" stroke="#c2c2c2" stroke-width="0.8"/><path d="M 890.8,386.7 L 900.6,374.5" stroke="#c2c2c2" stroke-width="0.8"/><path d="M 898.7,391.6 L 908.5,379.4" stroke="#c2c2c2" stroke-width="0.8"/><path d="M 980.9,383.4 Q 1020.9,374.6 1020.9,408.4 Q 980.9,417.2 980.9,383.4 Z" fill="#ececec" stroke="#939393" stroke-width="1"/><path d="M 984.7,384.6 Q 1009.7,384.6 1017.2,407.1" fill="none" stroke="#a0a0a0" stroke-width="0.9"/><path d="M 983.9,394.6 L 993.9,382.1" stroke="#c2c2c2" stroke-width="0.8"/><path d="M 991.9,399.6 L 1001.9,387.1" stroke="#c2c2c2" stroke-width="0.8"/><path d="M 999.9,404.6 L 1009.9,392.1" stroke="#c2c2c2" stroke-width="0.8"/><path d="M 1007.9,409.7 L 1017.9,397.1" stroke="#c2c2c2" stroke-width="0.8"/><path d="M -112.0,304.0 Q -75.4,296.0 -75.4,326.8 Q -112.0,334.8 -112.0,304.0 Z" fill="#ececec" stroke="#939393" stroke-width="1"/><path d="M -108.6,305.1 Q -85.7,305.1 -78.9,325.7" fill="none" stroke="#a0a0a0" stroke-width="0.9"/><path d="M -109.3,314.3 L -100.1,302.8" stroke="#c2c2c2" stroke-width="0.8"/><path d="M -101.9,318.8 L -92.8,307.4" stroke="#c2c2c2" stroke-width="0.8"/><path d="M -94.6,323.4 L -85.5,312.0" stroke="#c2c2c2" stroke-width="0.8"/><path d="M -87.3,328.0 L -78.2,316.5" stroke="#c2c2c2" stroke-width="0.8"/><path d="M -30.1,300.7 Q -16.4,292.7 6.4,323.4 Q -7.3,331.4 -30.1,300.7 Z" fill="#ececec" stroke="#939393" stroke-width="1"/><path d="M -26.6,301.8 Q -13.0,301.8 2.9,322.3" fill="none" stroke="#a0a0a0" stroke-width="0.9"/><path d="M -27.3,310.9 L -18.2,299.5" stroke="#c2c2c2" stroke-width="0.8"/><path d="M -20.0,315.5 L -10.9,304.1" stroke="#c2c2c2" stroke-width="0.8"/><path d="M -12.8,320.0 L -3.7,308.6" stroke="#c2c2c2" stroke-width="0.8"/><path d="M -5.5,324.6 L 3.6,313.2" stroke="#c2c2c2" stroke-width="0.8"/><path d="M 64.7,303.4 Q 101.2,295.4 101.2,326.2 Q 64.7,334.2 64.7,303.4 Z" fill="#ececec" stroke="#939393" stroke-width="1"/><path d="M 68.1,304.5 Q 91.0,304.5 97.8,325.1" fill="none" stroke="#a0a0a0" stroke-width="0.9"/><path d="M 67.5,313.6 L 76.6,302.2" stroke="#c2c2c2" stroke-width="0.8"/><path d="M 74.8,318.2 L 83.9,306.8" stroke="#c2c2c2" stroke-width="0.8"/><path d="M 82.1,322.8 L 91.2,311.4" stroke="#c2c2c2" stroke-width="0.8"/><path d="M 89.4,327.3 L 98.5,315.9" stroke="#c2c2c2" stroke-width="0.8"/><path d="M 172.5,310.4 Q 186.3,302.3 209.4,333.4 Q 195.5,341.5 172.5,310.4 Z" fill="#ececec" stroke="#939393" stroke-width="1"/><path d="M 176.0,311.5 Q 189.8,311.5 205.9,332.3" fill="none" stroke="#a0a0a0" stroke-width="0.9"/><path d="M 175.3,320.7 L 184.5,309.2" stroke="#c2c2c2" stroke-width="0.8"/><path d="M 182.7,325.3 L 191.9,313.8" stroke="#c2c2c2" stroke-width="0.8"/><path d="M 190.0,330.0 L 199.2,318.4" stroke="#c2c2c2" stroke-width="0.8"/><path d="M 197.4,334.6 L 206.6,323.0" stroke="#c2c2c2" stroke-width="0.8"/><path d="M 279.3,318.8 Q 316.5,310.7 316.5,342.0 Q 279.3,350.2 279.3,318.8 Z" fill="#ececec" stroke="#939393" stroke-width="1"/><path d="M 282.8,320.0 Q 306.0,320.0 313.0,340.9" fill="none" stroke="#a0a0a0" stroke-width="0.9"/><path d="M 282.1,329.2 L 291.4,317.6" stroke="#c2c2c2" stroke-width="0.8"/><path d="M 289.5,333.9 L 298.8,322.3" stroke="#c2c2c2" stroke-width="0.8"/><path d="M 296.9,338.5 L 306.2,326.9" stroke="#c2c2c2" stroke-width="0.8"/><path d="M 304.4,343.2 L 313.7,331.6" stroke="#c2c2c2" stroke-width="0.8"/><path d="M 371.9,329.8 Q 386.0,321.6 409.6,353.3 Q 395.4,361.6 371.9,329.8 Z" fill="#ececec" stroke="#939393" stroke-width="1"/><path d="M 375.4,331.0 Q 389.6,331.0 406.0,352.2" fill="none" stroke="#a0a0a0" stroke-width="0.9"/><path d="M 374.7,340.4 L 384.1,328.6" stroke="#c2c2c2" stroke-width="0.8"/><path d="M 382.3,345.1 L 391.7,333.3" stroke="#c2c2c2" stroke-width="0.8"/><path d="M 389.8,349.8 L 399.2,338.0" stroke="#c2c2c2" stroke-width="0.8"/><path d="M 397.3,354.5 L 406.8,342.8" stroke="#c2c2c2" stroke-width="0.8"/><path d="M 452.7,344.8 Q 491.0,336.4 491.0,368.7 Q 452.7,377.1 452.7,344.8 Z" fill="#ececec" stroke="#939393" stroke-width="1"/><path d="M 456.3,346.0 Q 480.3,346.0 487.4,367.5" fill="none" stroke="#a0a0a0" stroke-width="0.9"/><path d="M 455.6,355.6 L 465.2,343.6" stroke="#c2c2c2" stroke-width="0.8"/><path d="M 463.2,360.3 L 472.8,348.4" stroke="#c2c2c2" stroke-width="0.8"/><path d="M 470.9,365.1 L 480.5,353.2" stroke="#c2c2c2" stroke-width="0.8"/><path d="M 478.6,369.9 L 488.2,358.0" stroke="#c2c2c2" stroke-width="0.8"/><path d="M 537.1,352.0 Q 551.6,343.5 575.7,376.2 Q 561.2,384.6 537.1,352.0 Z" fill="#ececec" stroke="#939393" stroke-width="1"/><path d="M 540.7,353.2 Q 555.2,353.2 572.1,374.9" fill="none" stroke="#a0a0a0" stroke-width="0.9"/><path d="M 540.0,362.9 L 549.7,350.8" stroke="#c2c2c2" stroke-width="0.8"/><path d="M 547.7,367.7 L 557.4,355.6" stroke="#c2c2c2" stroke-width="0.8"/><path d="M 555.5,372.5 L 565.1,360.5" stroke="#c2c2c2" stroke-width="0.8"/><path d="M 563.2,377.4 L 572.8,365.3" stroke="#c2c2c2" stroke-width="0.8"/><path d="M 636.3,361.2 Q 675.3,352.6 675.3,385.6 Q 636.3,394.1 636.3,361.2 Z" fill="#ececec" stroke="#939393" stroke-width="1"/><path d="M 639.9,362.4 Q 664.4,362.4 671.7,384.4" fill="none" stroke="#a0a0a0" stroke-width="0.9"/><path d="M 639.2,372.2 L 649.0,360.0" stroke="#c2c2c2" stroke-width="0.8"/><path d="M 647.0,377.0 L 656.8,364.8" stroke="#c2c2c2" stroke-width="0.8"/><path d="M 654.8,381.9 L 664.6,369.7" stroke="#c2c2c2" stroke-width="0.8"/><path d="M 662.6,386.8 L 672.4,374.6" stroke="#c2c2c2" stroke-width="0.8"/><path d="M 745.4,375.6 Q 760.3,367.0 785.1,400.4 Q 770.2,409.1 745.4,375.6 Z" fill="#ececec" stroke="#939393" stroke-width="1"/><path d="M 749.1,376.9 Q 764.0,376.9 781.4,399.2" fill="none" stroke="#a0a0a0" stroke-width="0.9"/><path d="M 748.4,386.8 L 758.3,374.4" stroke="#c2c2c2" stroke-width="0.8"/><path d="M 756.3,391.8 L 766.2,379.4" stroke="#c2c2c2" stroke-width="0.8"/><path d="M 764.3,396.7 L 774.2,384.3" stroke="#c2c2c2" stroke-width="0.8"/><path d="M 772.2,401.7 L 782.1,389.3" stroke="#c2c2c2" stroke-width="0.8"/><path d="M 848.8,389.1 Q 889.1,380.3 889.1,414.3 Q 848.8,423.1 848.8,389.1 Z" fill="#ececec" stroke="#939393" stroke-width="1"/><path d="M 852.6,390.4 Q 877.8,390.4 885.3,413.0" fill="none" stroke="#a0a0a0" stroke-width="0.9"/><path d="M 851.8,400.4 L 861.9,387.9" stroke="#c2c2c2" stroke-width="0.8"/><path d="M 859.9,405.5 L 870.0,392.9" stroke="#c2c2c2" stroke-width="0.8"/><path d="M 867.9,410.5 L 878.0,397.9" stroke="#c2c2c2" stroke-width="0.8"/><path d="M 876.0,415.5 L 886.1,403.0" stroke="#c2c2c2" stroke-width="0.8"/><path d="M 937.0,400.5 Q 952.3,391.5 977.8,425.9 Q 962.5,434.8 937.0,400.5 Z" fill="#ececec" stroke="#939393" stroke-width="1"/><path d="M 940.8,401.7 Q 956.1,401.7 974.0,424.7" fill="none" stroke="#a0a0a0" stroke-width="0.9"/><path d="M 940.1,411.9 L 950.3,399.2" stroke="#c2c2c2" stroke-width="0.8"/><path d="M 948.2,417.0 L 958.4,404.3" stroke="#c2c2c2" stroke-width="0.8"/><path d="M 956.4,422.1 L 966.6,409.4" stroke="#c2c2c2" stroke-width="0.8"/><path d="M 964.5,427.2 L 974.7,414.5" stroke="#c2c2c2" stroke-width="0.8"/><path d="M -77.9,320.9 Q -63.9,312.7 -40.6,344.2 Q -54.6,352.4 -77.9,320.9 Z" fill="#ececec" stroke="#939393" stroke-width="1"/><path d="M -74.4,322.1 Q -60.4,322.1 -44.1,343.0" fill="none" stroke="#a0a0a0" stroke-width="0.9"/><path d="M -75.1,331.4 L -65.8,319.7" stroke="#c2c2c2" stroke-width="0.8"/><path d="M -67.6,336.0 L -58.3,324.4" stroke="#c2c2c2" stroke-width="0.8"/><path d="M -60.2,340.7 L -50.9,329.1" stroke="#c2c2c2" stroke-width="0.8"/><path d="M -52.7,345.4 L -43.4,333.7" stroke="#c2c2c2" stroke-width="0.8"/><path d="M 30.6,326.1 Q 68.1,317.9 68.1,349.6 Q 30.6,357.8 30.6,326.1 Z" fill="#ececec" stroke="#939393" stroke-width="1"/><path d="M 34.1,327.3 Q 57.5,327.3 64.6,348.4" fill="none" stroke="#a0a0a0" stroke-width="0.9"/><path d="M 33.4,336.7 L 42.8,324.9" stroke="#c2c2c2" stroke-width="0.8"/><path d="M 40.9,341.4 L 50.3,329.6" stroke="#c2c2c2" stroke-width="0.8"/><path d="M 48.4,346.1 L 57.8,334.3" stroke="#c2c2c2" stroke-width="0.8"/><path d="M 55.9,350.7 L 65.3,339.0" stroke="#c2c2c2" stroke-width="0.8"/><path d="M 136.5,332.6 Q 150.6,324.3 174.3,356.2 Q 160.1,364.5 136.5,332.6 Z" fill="#ececec" stroke="#939393" stroke-width="1"/><path d="M 140.0,333.8 Q 154.2,333.8 170.7,355.0" fill="none" stroke="#a0a0a0" stroke-width="0.9"/><path d="M 139.3,343.2 L 148.7,331.4" stroke="#c2c2c2" stroke-width="0.8"/><path d="M 146.9,348.0 L 156.3,336.1" stroke="#c2c2c2" stroke-width="0.8"/><path d="M 154.4,352.7 L 163.9,340.9" stroke="#c2c2c2" stroke-width="0.8"/><path d="M 162.0,357.4 L 171.4,345.6" stroke="#c2c2c2" stroke-width="0.8"/><path d="M 227.7,342.1 Q 265.9,333.8 265.9,366.0 Q 227.7,374.4 227.7,342.1 Z" fill="#ececec" stroke="#939393" stroke-width="1"/><path d="M 231.3,343.3 Q 255.1,343.3 262.3,364.8" fill="none" stroke="#a0a0a0" stroke-width="0.9"/><path d="M 230.5,352.9 L 240.1,340.9" stroke="#c2c2c2" stroke-width="0.8"/><path d="M 238.2,357.6 L 247.7,345.7" stroke="#c2c2c2" stroke-width="0.8"/><path d="M 245.8,362.4 L 255.4,350.5" stroke="#c2c2c2" stroke-width="0.8"/><path d="M 253.5,367.2 L 263.0,355.3" stroke="#c2c2c2" stroke-width="0.8"/><path d="M 308.1,355.6 Q 322.7,347.1 346.9,379.9 Q 332.4,388.4 308.1,355.6 Z" fill="#ececec" stroke="#939393" stroke-width="1"/><path d="M 311.8,356.8 Q 326.3,356.8 343.3,378.7" fill="none" stroke="#a0a0a0" stroke-width="0.9"/><path d="M 311.0,366.5 L 320.7,354.4" stroke="#c2c2c2" stroke-width="0.8"/><path d="M 318.8,371.4 L 328.5,359.3" stroke="#c2c2c2" stroke-width="0.8"/><path d="M 326.6,376.2 L 336.3,364.1" stroke="#c2c2c2" stroke-width="0.8"/><path d="M 334.3,381.1 L 344.0,369.0" stroke="#c2c2c2" stroke-width="0.8"/><path d="M 393.6,361.4 Q 432.7,352.8 432.7,385.8 Q 393.6,394.3 393.6,361.4 Z" fill="#ececec" stroke="#939393" stroke-width="1"/><path d="M 397.3,362.6 Q 421.7,362.6 429.0,384.6" fill="none" stroke="#a0a0a0" stroke-width="0.9"/><path d="M 396.5,372.4 L 406.3,360.2" stroke="#c2c2c2" stroke-width="0.8"/><path d="M 404.4,377.3 L 414.1,365.0" stroke="#c2c2c2" stroke-width="0.8"/><path d="M 412.2,382.1 L 421.9,369.9" stroke="#c2c2c2" stroke-width="0.8"/><path d="M 420.0,387.0 L 429.7,374.8" stroke="#c2c2c2" stroke-width="0.8"/><path d="M 494.2,369.4 Q 509.0,360.8 533.6,394.0 Q 518.8,402.7 494.2,369.4 Z" fill="#ececec" stroke="#939393" stroke-width="1"/><path d="M 497.9,370.6 Q 512.7,370.6 529.9,392.8" fill="none" stroke="#a0a0a0" stroke-width="0.9"/><path d="M 497.2,380.5 L 507.0,368.2" stroke="#c2c2c2" stroke-width="0.8"/><path d="M 505.0,385.4 L 514.9,373.1" stroke="#c2c2c2" stroke-width="0.8"/><path d="M 512.9,390.3 L 522.8,378.0" stroke="#c2c2c2" stroke-width="0.8"/><path d="M 520.8,395.3 L 530.7,383.0" stroke="#c2c2c2" stroke-width="0.8"/><path d="M 603.5,382.1 Q 643.5,373.4 643.5,407.1 Q 603.5,415.8 603.5,382.1 Z" fill="#ececec" stroke="#939393" stroke-width="1"/><path d="M 607.3,383.3 Q 632.3,383.3 639.7,405.8" fill="none" stroke="#a0a0a0" stroke-width="0.9"/><path d="M 606.5,393.3 L 616.5,380.8" stroke="#c2c2c2" stroke-width="0.8"/><path d="M 614.5,398.3 L 624.5,385.8" stroke="#c2c2c2" stroke-width="0.8"/><path d="M 622.5,403.3 L 632.5,390.8" stroke="#c2c2c2" stroke-width="0.8"/><path d="M 630.5,408.3 L 640.5,395.8" stroke="#c2c2c2" stroke-width="0.8"/><path d="M 705.8,393.3 Q 720.9,384.5 746.2,418.6 Q 731.1,427.4 705.8,393.3 Z" fill="#ececec" stroke="#939393" stroke-width="1"/><path d="M 709.6,394.6 Q 724.7,394.6 742.4,417.3" fill="none" stroke="#a0a0a0" stroke-width="0.9"/><path d="M 708.8,404.7 L 718.9,392.1" stroke="#c2c2c2" stroke-width="0.8"/><path d="M 716.9,409.7 L 727.0,397.1" stroke="#c2c2c2" stroke-width="0.8"/><path d="M 725.0,414.8 L 735.1,402.2" stroke="#c2c2c2" stroke-width="0.8"/><path d="M 733.1,419.9 L 743.2,407.2" stroke="#c2c2c2" stroke-width="0.8"/><path d="M 792.8,402.9 Q 833.6,394.0 833.6,428.5 Q 792.8,437.4 792.8,402.9 Z" fill="#ececec" stroke="#939393" stroke-width="1"/><path d="M 796.6,404.2 Q 822.1,404.2 829.8,427.2" fill="none" stroke="#a0a0a0" stroke-width="0.9"/><path d="M 795.8,414.4 L 806.0,401.7" stroke="#c2c2c2" stroke-width="0.8"/><path d="M 804.0,419.5 L 814.2,406.8" stroke="#c2c2c2" stroke-width="0.8"/><path d="M 812.2,424.6 L 822.4,411.9" stroke="#c2c2c2" stroke-width="0.8"/><path d="M 820.3,429.8 L 830.6,417.0" stroke="#c2c2c2" stroke-width="0.8"/><path d="M 872.8,421.4 Q 888.4,412.3 914.4,447.5 Q 898.8,456.6 872.8,421.4 Z" fill="#ececec" stroke="#939393" stroke-width="1"/><path d="M 876.7,422.7 Q 892.3,422.7 910.5,446.2" fill="none" stroke="#a0a0a0" stroke-width="0.9"/><path d="M 875.9,433.1 L 886.3,420.1" stroke="#c2c2c2" stroke-width="0.8"/><path d="M 884.2,438.3 L 894.7,425.3" stroke="#c2c2c2" stroke-width="0.8"/><path d="M 892.6,443.6 L 903.0,430.5" stroke="#c2c2c2" stroke-width="0.8"/><path d="M 900.9,448.8 L 911.3,435.7" stroke="#c2c2c2" stroke-width="0.8"/><path d="M 962.0,439.2 Q 1004.4,429.9 1004.4,465.7 Q 962.0,475.0 962.0,439.2 Z" fill="#ececec" stroke="#939393" stroke-width="1"/><path d="M 966.0,440.5 Q 992.5,440.5 1000.5,464.4" fill="none" stroke="#a0a0a0" stroke-width="0.9"/><path d="M 965.2,451.1 L 975.8,437.9" stroke="#c2c2c2" stroke-width="0.8"/><path d="M 973.7,456.4 L 984.3,443.2" stroke="#c2c2c2" stroke-width="0.8"/><path d="M 982.1,461.8 L 992.8,448.5" stroke="#c2c2c2" stroke-width="0.8"/><path d="M 990.6,467.1 L 1001.2,453.8" stroke="#c2c2c2" stroke-width="0.8"/><path d="M -100.5,346.3 Q -62.1,337.9 -62.1,370.3 Q -100.5,378.7 -100.5,346.3 Z" fill="#ececec" stroke="#939393" stroke-width="1"/><path d="M -96.9,347.5 Q -72.9,347.5 -65.7,369.1" fill="none" stroke="#a0a0a0" stroke-width="0.9"/><path d="M -97.6,357.1 L -88.0,345.1" stroke="#c2c2c2" stroke-width="0.8"/><path d="M -89.9,361.9 L -80.3,349.9" stroke="#c2c2c2" stroke-width="0.8"/><path d="M -82.2,366.7 L -72.6,354.7" stroke="#c2c2c2" stroke-width="0.8"/><path d="M -74.6,371.5 L -65.0,359.5" stroke="#c2c2c2" stroke-width="0.8"/><path d="M -10.5,348.8 Q 3.9,340.4 28.0,372.8 Q 13.6,381.3 -10.5,348.8 Z" fill="#ececec" stroke="#939393" stroke-width="1"/><path d="M -6.9,350.0 Q 7.5,350.0 24.4,371.6" fill="none" stroke="#a0a0a0" stroke-width="0.9"/><path d="M -7.6,359.6 L 2.0,347.6" stroke="#c2c2c2" stroke-width="0.8"/><path d="M 0.1,364.4 L 9.7,352.4" stroke="#c2c2c2" stroke-width="0.8"/><path d="M 7.8,369.2 L 17.4,357.2" stroke="#c2c2c2" stroke-width="0.8"/><path d="M 15.5,374.1 L 25.1,362.0" stroke="#c2c2c2" stroke-width="0.8"/><path d="M 69.7,359.8 Q 108.7,351.3 108.7,384.2 Q 69.7,392.7 69.7,359.8 Z" fill="#ececec" stroke="#939393" stroke-width="1"/><path d="M 73.4,361.0 Q 97.7,361.0 105.1,383.0" fill="none" stroke="#a0a0a0" stroke-width="0.9"/><path d="M 72.6,370.8 L 82.4,358.6" stroke="#c2c2c2" stroke-width="0.8"/><path d="M 80.4,375.7 L 90.2,363.5" stroke="#c2c2c2" stroke-width="0.8"/><path d="M 88.2,380.5 L 98.0,368.3" stroke="#c2c2c2" stroke-width="0.8"/><path d="M 96.0,385.4 L 105.8,373.2" stroke="#c2c2c2" stroke-width="0.8"/><path d="M 156.3,368.5 Q 171.1,359.9 195.7,393.1 Q 180.9,401.8 156.3,368.5 Z" fill="#ececec" stroke="#939393" stroke-width="1"/><path d="M 160.0,369.8 Q 174.8,369.8 192.0,391.9" fill="none" stroke="#a0a0a0" stroke-width="0.9"/><path d="M 159.3,379.6 L 169.1,367.3" stroke="#c2c2c2" stroke-width="0.8"/><path d="M 167.2,384.5 L 177.0,372.2" stroke="#c2c2c2" stroke-width="0.8"/><path d="M 175.0,389.5 L 184.9,377.2" stroke="#c2c2c2" stroke-width="0.8"/><path d="M 182.9,394.4 L 192.7,382.1" stroke="#c2c2c2" stroke-width="0.8"/><path d="M 258.3,375.6 Q 297.9,366.9 297.9,400.4 Q 258.3,409.0 258.3,375.6 Z" fill="#ececec" stroke="#939393" stroke-width="1"/><path d="M 262.0,376.8 Q 286.8,376.8 294.2,399.1" fill="none" stroke="#a0a0a0" stroke-width="0.9"/><path d="M 261.2,386.7 L 271.2,374.3" stroke="#c2c2c2" stroke-width="0.8"/><path d="M 269.2,391.7 L 279.1,379.3" stroke="#c2c2c2" stroke-width="0.8"/><path d="M 277.1,396.6 L 287.0,384.2" stroke="#c2c2c2" stroke-width="0.8"/><path d="M 285.0,401.6 L 295.0,389.2" stroke="#c2c2c2" stroke-width="0.8"/><path d="M 367.7,385.2 Q 382.7,376.5 407.8,410.3 Q 392.7,419.1 367.7,385.2 Z" fill="#ececec" stroke="#939393" stroke-width="1"/><path d="M 371.4,386.5 Q 386.5,386.5 404.0,409.0" fill="none" stroke="#a0a0a0" stroke-width="0.9"/><path d="M 370.7,396.5 L 380.7,384.0" stroke="#c2c2c2" stroke-width="0.8"/><path d="M 378.7,401.5 L 388.7,389.0" stroke="#c2c2c2" stroke-width="0.8"/><path d="M 386.7,406.5 L 396.7,394.0" stroke="#c2c2c2" stroke-width="0.8"/><path d="M 394.7,411.5 L 404.8,399.0" stroke="#c2c2c2" stroke-width="0.8"/><path d="M 468.7,393.6 Q 509.1,384.8 509.1,418.9 Q 468.7,427.8 468.7,393.6 Z" fill="#ececec" stroke="#939393" stroke-width="1"/><path d="M 472.5,394.9 Q 497.8,394.9 505.3,417.7" fill="none" stroke="#a0a0a0" stroke-width="0.9"/><path d="M 471.7,405.0 L 481.8,392.4" stroke="#c2c2c2" stroke-width="0.8"/><path d="M 479.8,410.1 L 489.9,397.4" stroke="#c2c2c2" stroke-width="0.8"/><path d="M 487.9,415.1 L 498.0,402.5" stroke="#c2c2c2" stroke-width="0.8"/><path d="M 496.0,420.2 L 506.1,407.5" stroke="#c2c2c2" stroke-width="0.8"/><path d="M 554.6,397.2 Q 569.8,388.3 595.2,422.6 Q 580.0,431.5 554.6,397.2 Z" fill="#ececec" stroke="#939393" stroke-width="1"/><path d="M 558.4,398.5 Q 573.6,398.5 591.4,421.3" fill="none" stroke="#a0a0a0" stroke-width="0.9"/><path d="M 557.6,408.6 L 567.8,395.9" stroke="#c2c2c2" stroke-width="0.8"/><path d="M 565.8,413.7 L 575.9,401.0" stroke="#c2c2c2" stroke-width="0.8"/><path d="M 573.9,418.8 L 584.0,406.1" stroke="#c2c2c2" stroke-width="0.8"/><path d="M 582.0,423.9 L 592.2,411.2" stroke="#c2c2c2" stroke-width="0.8"/><path d="M 635.0,408.4 Q 676.1,399.4 676.1,434.1 Q 635.0,443.1 635.0,408.4 Z" fill="#ececec" stroke="#939393" stroke-width="1"/><path d="M 638.8,409.7 Q 664.5,409.7 672.2,432.8" fill="none" stroke="#a0a0a0" stroke-width="0.9"/><path d="M 638.1,419.9 L 648.3,407.1" stroke="#c2c2c2" stroke-width="0.8"/><path d="M 646.3,425.1 L 656.6,412.2" stroke="#c2c2c2" stroke-width="0.8"/><path d="M 654.5,430.2 L 664.8,417.4" stroke="#c2c2c2" stroke-width="0.8"/><path d="M 662.7,435.3 L 673.0,422.5" stroke="#c2c2c2" stroke-width="0.8"/><path d="M 725.6,425.5 Q 741.3,416.4 767.4,451.7 Q 751.7,460.8 725.6,425.5 Z" fill="#ececec" stroke="#939393" stroke-width="1"/><path d="M 729.5,426.8 Q 745.2,426.8 763.5,450.4" fill="none" stroke="#a0a0a0" stroke-width="0.9"/><path d="M 728.7,437.3 L 739.2,424.2" stroke="#c2c2c2" stroke-width="0.8"/><path d="M 737.1,442.5 L 747.6,429.5" stroke="#c2c2c2" stroke-width="0.8"/><path d="M 745.5,447.8 L 755.9,434.7" stroke="#c2c2c2" stroke-width="0.8"/><path d="M 753.8,453.0 L 764.3,439.9" stroke="#c2c2c2" stroke-width="0.8"/><path d="M 831.0,441.7 Q 873.5,432.4 873.5,468.3 Q 831.0,477.6 831.0,441.7 Z" fill="#ececec" stroke="#939393" stroke-width="1"/><path d="M 834.9,443.1 Q 861.5,443.1 869.5,467.0" fill="none" stroke="#a0a0a0" stroke-width="0.9"/><path d="M 834.1,453.7 L 844.8,440.4" stroke="#c2c2c2" stroke-width="0.8"/><path d="M 842.7,459.0 L 853.3,445.7" stroke="#c2c2c2" stroke-width="0.8"/><path d="M 851.2,464.3 L 861.8,451.0" stroke="#c2c2c2" stroke-width="0.8"/><path d="M 859.7,469.7 L 870.3,456.4" stroke="#c2c2c2" stroke-width="0.8"/><path d="M 939.3,459.0 Q 955.6,449.6 982.6,486.1 Q 966.4,495.6 939.3,459.0 Z" fill="#ececec" stroke="#939393" stroke-width="1"/><path d="M 943.4,460.4 Q 959.6,460.4 978.6,484.7" fill="none" stroke="#a0a0a0" stroke-width="0.9"/><path d="M 942.6,471.2 L 953.4,457.7" stroke="#c2c2c2" stroke-width="0.8"/><path d="M 951.2,476.6 L 962.1,463.1" stroke="#c2c2c2" stroke-width="0.8"/><path d="M 959.9,482.0 L 970.7,468.5" stroke="#c2c2c2" stroke-width="0.8"/><path d="M 968.6,487.5 L 979.4,473.9" stroke="#c2c2c2" stroke-width="0.8"/>
</g>
<path d="M 0,230 L 274,313 Q 306,323 373,309 L 874,201 Q 879,198 877,194" fill="none" stroke="#1f1f1f" stroke-width="4"/>
<line x1="812" y1="190" x2="1067" y2="190" stroke="#1a1416" stroke-width="2.8"/>
<circle cx="812" cy="190" r="7" fill="#1a1416"/>
<path d="M 1086.3,198.5 L 1086.3,181.3 L 1084.8,181.3 L 1080.8,184.5" fill="none" stroke="#231f20" stroke-width="2.6" stroke-linejoin="miter"/>
<line x1="726" y1="265" x2="1067" y2="265" stroke="#1a1416" stroke-width="2.8"/>
<circle cx="726" cy="265" r="7" fill="#1a1416"/>
<text x="1087.5" y="273.7" font-size="24" text-anchor="end">2</text>
<line x1="84" y1="365.5" x2="1067" y2="365.5" stroke="#1a1416" stroke-width="2.8"/>
<circle cx="84" cy="365.5" r="7" fill="#1a1416"/>
<text x="1087.5" y="373.1" font-size="24" text-anchor="end">3</text>
<line x1="750" y1="407" x2="1067" y2="407" stroke="#1a1416" stroke-width="2.8"/>
<circle cx="750" cy="407" r="7" fill="#1a1416"/>
<text x="1087.5" y="415.6" font-size="24" text-anchor="end">4</text>
<line x1="647" y1="551" x2="1067" y2="551" stroke="#1a1416" stroke-width="2.8"/>
<circle cx="647" cy="551" r="7" fill="#1a1416"/>
<text x="1087.5" y="559.6" font-size="24" text-anchor="end">5</text>
<line x1="647" y1="688" x2="1067" y2="688" stroke="#1a1416" stroke-width="2.8"/>
<circle cx="647" cy="688" r="7" fill="#1a1416"/>
<text x="1087.5" y="696.7" font-size="24" text-anchor="end">6</text>
<text x="99.9" y="1002" font-size="23.5">1.</text>
<text x="124.6" y="1002" font-size="23.5" textLength="413.4" lengthAdjust="spacingAndGlyphs">4-way Stretch Knit Cover for Comfort</text>
<text x="124.6" y="1029" font-size="23.5" textLength="131.0" lengthAdjust="spacingAndGlyphs">&amp; Durability</text>
<text x="99.9" y="1064.5" font-size="23.5">2.</text>
<text x="124.6" y="1064.5" font-size="23.5" textLength="441.2" lengthAdjust="spacingAndGlyphs">High Density <tspan font-weight="bold">Super Soft</tspan> Quilt Foam for</text>
<text x="124.6" y="1092" font-size="23.5" textLength="361.1" lengthAdjust="spacingAndGlyphs">Personalized Support &amp; Comfort</text>
<text x="99.9" y="1126.5" font-size="23.5">3.</text>
<text x="124.6" y="1126.5" font-size="23.5" textLength="395.4" lengthAdjust="spacingAndGlyphs">High Density Gel Memory Foam for</text>
<text x="124.6" y="1154" font-size="23.5" textLength="182.9" lengthAdjust="spacingAndGlyphs">Lumbar Support</text>
<text x="623.9" y="1002.4" font-size="23.5">4.</text>
<text x="649.4" y="1002.4" font-size="23.5" textLength="364.6" lengthAdjust="spacingAndGlyphs">Upholstery Grade Comfort Foam</text>
<text x="623.9" y="1037.4" font-size="23.5">5.</text>
<text x="649.4" y="1037.4" font-size="23.5" textLength="419.3" lengthAdjust="spacingAndGlyphs">Power Packed Wrapped Coil Unit with</text>
<text x="649.4" y="1065" font-size="23.5" textLength="362.4" lengthAdjust="spacingAndGlyphs">Ashley Edge to Minimize Motion</text>
<text x="649.4" y="1091.8" font-size="23.5" textLength="311.0" lengthAdjust="spacingAndGlyphs">Transfer &amp; Increase Support</text>
<text x="623.9" y="1126.8" font-size="23.5">6.</text>
<text x="649.4" y="1126.8" font-size="23.5" textLength="276.0" lengthAdjust="spacingAndGlyphs">Support Pad for Stability</text>
</svg></body></html>
